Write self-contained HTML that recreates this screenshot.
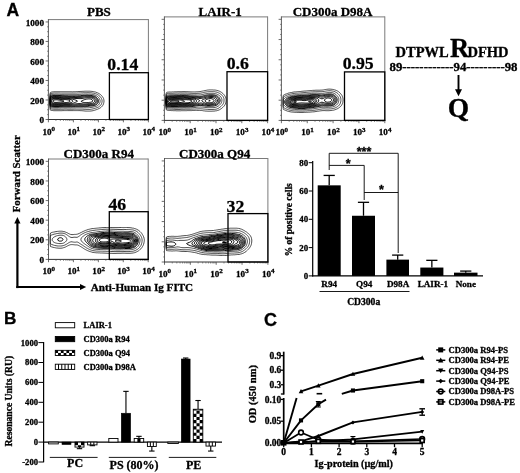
<!DOCTYPE html>
<html><head><meta charset="utf-8"><title>Figure</title>
<style>
html,body{margin:0;padding:0;background:#fff;}
svg{display:block;}
text{font-weight:bold;fill:#000;stroke:#000;stroke-width:0.3px;}
.se{font-family:"Liberation Serif",serif;}
.sa{font-family:"Liberation Sans",sans-serif;}
</style></head><body>
<svg width="520" height="473" viewBox="0 0 520 473">
<rect width="520" height="473" fill="#fff"/>
<text class="sa" x="6.60" y="15.80" font-size="17.5" text-anchor="start">A</text>
<text class="sa" x="4.00" y="323.80" font-size="17.2" text-anchor="start">B</text>
<text class="sa" x="263.90" y="326.00" font-size="18" text-anchor="start">C</text>
<line x1="48.40" y1="19.60" x2="148.40" y2="19.60" stroke="#7a7a7a" stroke-width="1"/>
<line x1="148.40" y1="19.10" x2="148.40" y2="119.50" stroke="#7a7a7a" stroke-width="1"/>
<line x1="48.40" y1="19.10" x2="48.40" y2="120.00" stroke="#4a4a4a" stroke-width="0.9"/>
<line x1="47.90" y1="119.50" x2="148.90" y2="119.50" stroke="#333" stroke-width="1.0"/>
<line x1="45.60" y1="119.50" x2="48.40" y2="119.50" stroke="#4a4a4a" stroke-width="0.8"/>
<line x1="47.00" y1="114.62" x2="48.40" y2="114.62" stroke="#4a4a4a" stroke-width="0.6"/>
<line x1="47.00" y1="109.74" x2="48.40" y2="109.74" stroke="#4a4a4a" stroke-width="0.6"/>
<line x1="47.00" y1="104.87" x2="48.40" y2="104.87" stroke="#4a4a4a" stroke-width="0.6"/>
<line x1="45.60" y1="99.99" x2="48.40" y2="99.99" stroke="#4a4a4a" stroke-width="0.8"/>
<line x1="47.00" y1="95.11" x2="48.40" y2="95.11" stroke="#4a4a4a" stroke-width="0.6"/>
<line x1="47.00" y1="90.23" x2="48.40" y2="90.23" stroke="#4a4a4a" stroke-width="0.6"/>
<line x1="47.00" y1="85.35" x2="48.40" y2="85.35" stroke="#4a4a4a" stroke-width="0.6"/>
<line x1="45.60" y1="80.48" x2="48.40" y2="80.48" stroke="#4a4a4a" stroke-width="0.8"/>
<line x1="47.00" y1="75.60" x2="48.40" y2="75.60" stroke="#4a4a4a" stroke-width="0.6"/>
<line x1="47.00" y1="70.72" x2="48.40" y2="70.72" stroke="#4a4a4a" stroke-width="0.6"/>
<line x1="47.00" y1="65.84" x2="48.40" y2="65.84" stroke="#4a4a4a" stroke-width="0.6"/>
<line x1="45.60" y1="60.96" x2="48.40" y2="60.96" stroke="#4a4a4a" stroke-width="0.8"/>
<line x1="47.00" y1="56.09" x2="48.40" y2="56.09" stroke="#4a4a4a" stroke-width="0.6"/>
<line x1="47.00" y1="51.21" x2="48.40" y2="51.21" stroke="#4a4a4a" stroke-width="0.6"/>
<line x1="47.00" y1="46.33" x2="48.40" y2="46.33" stroke="#4a4a4a" stroke-width="0.6"/>
<line x1="45.60" y1="41.45" x2="48.40" y2="41.45" stroke="#4a4a4a" stroke-width="0.8"/>
<line x1="47.00" y1="36.58" x2="48.40" y2="36.58" stroke="#4a4a4a" stroke-width="0.6"/>
<line x1="47.00" y1="31.70" x2="48.40" y2="31.70" stroke="#4a4a4a" stroke-width="0.6"/>
<line x1="47.00" y1="26.82" x2="48.40" y2="26.82" stroke="#4a4a4a" stroke-width="0.6"/>
<line x1="45.60" y1="21.94" x2="48.40" y2="21.94" stroke="#4a4a4a" stroke-width="0.8"/>
<text class="se" x="44.00" y="123.20" font-size="9.2" text-anchor="end">0</text>
<text class="se" x="44.00" y="103.69" font-size="9.2" text-anchor="end">200</text>
<text class="se" x="44.00" y="84.18" font-size="9.2" text-anchor="end">400</text>
<text class="se" x="44.00" y="64.66" font-size="9.2" text-anchor="end">600</text>
<text class="se" x="44.00" y="45.15" font-size="9.2" text-anchor="end">800</text>
<text class="se" x="44.00" y="25.64" font-size="9.2" text-anchor="end">1000</text>
<line x1="48.40" y1="119.50" x2="48.40" y2="122.30" stroke="#4a4a4a" stroke-width="0.8"/>
<line x1="55.93" y1="119.50" x2="55.93" y2="121.00" stroke="#4a4a4a" stroke-width="0.6"/>
<line x1="60.33" y1="119.50" x2="60.33" y2="121.00" stroke="#4a4a4a" stroke-width="0.6"/>
<line x1="63.45" y1="119.50" x2="63.45" y2="121.00" stroke="#4a4a4a" stroke-width="0.6"/>
<line x1="65.87" y1="119.50" x2="65.87" y2="121.00" stroke="#4a4a4a" stroke-width="0.6"/>
<line x1="67.85" y1="119.50" x2="67.85" y2="121.00" stroke="#4a4a4a" stroke-width="0.6"/>
<line x1="69.53" y1="119.50" x2="69.53" y2="121.00" stroke="#4a4a4a" stroke-width="0.6"/>
<line x1="70.98" y1="119.50" x2="70.98" y2="121.00" stroke="#4a4a4a" stroke-width="0.6"/>
<line x1="72.26" y1="119.50" x2="72.26" y2="121.00" stroke="#4a4a4a" stroke-width="0.6"/>
<line x1="73.40" y1="119.50" x2="73.40" y2="122.30" stroke="#4a4a4a" stroke-width="0.8"/>
<line x1="80.93" y1="119.50" x2="80.93" y2="121.00" stroke="#4a4a4a" stroke-width="0.6"/>
<line x1="85.33" y1="119.50" x2="85.33" y2="121.00" stroke="#4a4a4a" stroke-width="0.6"/>
<line x1="88.45" y1="119.50" x2="88.45" y2="121.00" stroke="#4a4a4a" stroke-width="0.6"/>
<line x1="90.87" y1="119.50" x2="90.87" y2="121.00" stroke="#4a4a4a" stroke-width="0.6"/>
<line x1="92.85" y1="119.50" x2="92.85" y2="121.00" stroke="#4a4a4a" stroke-width="0.6"/>
<line x1="94.53" y1="119.50" x2="94.53" y2="121.00" stroke="#4a4a4a" stroke-width="0.6"/>
<line x1="95.98" y1="119.50" x2="95.98" y2="121.00" stroke="#4a4a4a" stroke-width="0.6"/>
<line x1="97.26" y1="119.50" x2="97.26" y2="121.00" stroke="#4a4a4a" stroke-width="0.6"/>
<line x1="98.40" y1="119.50" x2="98.40" y2="122.30" stroke="#4a4a4a" stroke-width="0.8"/>
<line x1="105.93" y1="119.50" x2="105.93" y2="121.00" stroke="#4a4a4a" stroke-width="0.6"/>
<line x1="110.33" y1="119.50" x2="110.33" y2="121.00" stroke="#4a4a4a" stroke-width="0.6"/>
<line x1="113.45" y1="119.50" x2="113.45" y2="121.00" stroke="#4a4a4a" stroke-width="0.6"/>
<line x1="115.87" y1="119.50" x2="115.87" y2="121.00" stroke="#4a4a4a" stroke-width="0.6"/>
<line x1="117.85" y1="119.50" x2="117.85" y2="121.00" stroke="#4a4a4a" stroke-width="0.6"/>
<line x1="119.53" y1="119.50" x2="119.53" y2="121.00" stroke="#4a4a4a" stroke-width="0.6"/>
<line x1="120.98" y1="119.50" x2="120.98" y2="121.00" stroke="#4a4a4a" stroke-width="0.6"/>
<line x1="122.26" y1="119.50" x2="122.26" y2="121.00" stroke="#4a4a4a" stroke-width="0.6"/>
<line x1="123.40" y1="119.50" x2="123.40" y2="122.30" stroke="#4a4a4a" stroke-width="0.8"/>
<line x1="130.93" y1="119.50" x2="130.93" y2="121.00" stroke="#4a4a4a" stroke-width="0.6"/>
<line x1="135.33" y1="119.50" x2="135.33" y2="121.00" stroke="#4a4a4a" stroke-width="0.6"/>
<line x1="138.45" y1="119.50" x2="138.45" y2="121.00" stroke="#4a4a4a" stroke-width="0.6"/>
<line x1="140.87" y1="119.50" x2="140.87" y2="121.00" stroke="#4a4a4a" stroke-width="0.6"/>
<line x1="142.85" y1="119.50" x2="142.85" y2="121.00" stroke="#4a4a4a" stroke-width="0.6"/>
<line x1="144.53" y1="119.50" x2="144.53" y2="121.00" stroke="#4a4a4a" stroke-width="0.6"/>
<line x1="145.98" y1="119.50" x2="145.98" y2="121.00" stroke="#4a4a4a" stroke-width="0.6"/>
<line x1="147.26" y1="119.50" x2="147.26" y2="121.00" stroke="#4a4a4a" stroke-width="0.6"/>
<line x1="148.40" y1="119.50" x2="148.40" y2="122.30" stroke="#4a4a4a" stroke-width="0.8"/>
<text class="se" x="42.40" y="134.50" font-size="9.1">10<tspan font-size="7" dy="-3.7">0</tspan></text>
<text class="se" x="67.40" y="134.50" font-size="9.1">10<tspan font-size="7" dy="-3.7">1</tspan></text>
<text class="se" x="92.40" y="134.50" font-size="9.1">10<tspan font-size="7" dy="-3.7">2</tspan></text>
<text class="se" x="117.40" y="134.50" font-size="9.1">10<tspan font-size="7" dy="-3.7">3</tspan></text>
<text class="se" x="142.40" y="134.50" font-size="9.1">10<tspan font-size="7" dy="-3.7">4</tspan></text>
<text class="se" x="87.00" y="16.20" font-size="13" text-anchor="start">PBS</text>
<clipPath id="c48_19"><rect x="48.90" y="19.60" width="99.50" height="99.40"/></clipPath>
<g clip-path="url(#c48_19)" fill="none" stroke="#000" stroke-linejoin="round"><path d="M77.2 91.6 77.9 91.6 78.9 91.5 79.9 91.5 80.9 91.4 81.9 91.4 82.9 91.3 83.9 91.3 84.9 91.2 85.9 91.2 86.9 91.2 87.9 91.2 88.9 91.2 89.9 91.2 90.9 91.3 91.9 91.4 92.9 91.5 93.4 91.6 94.4 91.8 95.4 92.0 95.9 92.2 96.9 92.6 97.4 92.8 98.1 93.1 98.9 93.5 99.4 93.8 99.9 94.2 100.5 94.6 101.1 95.1 101.6 95.6 102.0 96.1 102.4 96.6 102.9 97.3 103.3 98.1 103.6 98.6 103.8 99.6 103.9 100.1 104.0 101.1 103.9 102.1 103.8 102.6 103.6 103.6 103.4 104.2 103.0 105.1 102.6 105.6 102.3 106.1 101.8 106.6 101.3 107.1 100.7 107.6 99.9 108.1 99.4 108.4 98.9 108.6 97.9 109.1 97.4 109.3 96.5 109.6 95.9 109.8 95.1 110.1 94.4 110.3 93.4 110.6 92.9 110.7 91.9 110.9 90.9 111.0 89.9 111.1 89.4 111.1 88.4 111.1 87.4 111.1 86.8 111.1 85.9 111.1 84.9 111.0 83.9 110.9 82.9 110.8 81.9 110.7 80.9 110.7 79.9 110.6 78.9 110.6 78.1 110.6 77.4 110.6 76.4 110.6 75.4 110.6 74.4 110.6 73.4 110.6 72.9 110.6 71.9 110.6 70.9 110.6 69.9 110.6 68.9 110.6 68.0 110.6 67.4 110.6 66.4 110.6 65.4 110.6 64.4 110.6 63.9 110.6 62.9 110.6 61.9 110.7 60.9 110.7 59.9 110.7 58.9 110.7 57.9 110.7 56.9 110.7 55.9 110.7 54.9 110.7 53.9 110.7 53.1 110.6 52.4 110.5 51.4 110.4 50.4 110.1 50.2 109.6 50.1 108.6 50.0 107.6 50.0 106.6 49.9 105.6 49.9 104.6 49.9 103.6 49.9 102.6 49.9 101.6 49.9 100.6 49.9 99.6 49.9 98.6 49.9 97.6 49.9 96.6 50.0 95.6 50.0 94.6 50.1 93.6 50.3 92.6 50.9 92.2 51.4 92.1 52.4 91.9 53.4 91.8 54.4 91.7 55.4 91.7 56.4 91.7 57.4 91.7 58.4 91.7 59.4 91.7 60.4 91.7 61.4 91.7 62.4 91.7 63.4 91.7 64.4 91.7 65.4 91.7 66.4 91.7 67.4 91.7 68.4 91.7 69.4 91.7 70.4 91.7 71.4 91.7 72.4 91.8 73.4 91.7 74.4 91.7 75.4 91.7 76.4 91.6 77.2 91.6Z M53.5 93.1 54.4 93.0 55.4 93.0 56.4 93.0 57.4 93.0 58.4 93.0 59.4 93.0 60.4 93.1 61.4 93.1 61.9 93.1 62.9 93.1 63.9 93.1 64.9 93.1 65.9 93.1 66.9 93.1 67.9 93.1 68.9 93.1 69.9 93.1 70.9 93.1 71.9 93.1 72.9 93.1 73.9 93.1 74.9 93.1 75.6 93.1 76.4 93.1 77.4 93.0 78.4 93.0 79.4 92.9 80.4 92.9 81.4 92.8 82.4 92.8 83.4 92.7 84.4 92.7 85.4 92.7 86.4 92.7 87.4 92.6 88.4 92.6 89.4 92.7 90.4 92.7 91.4 92.8 92.4 93.0 93.1 93.1 93.9 93.2 94.9 93.5 95.4 93.7 96.4 94.0 96.9 94.3 97.5 94.6 98.4 95.1 98.9 95.5 99.4 95.9 99.9 96.3 100.4 96.9 100.9 97.6 101.2 98.1 101.5 98.6 101.9 99.6 102.0 100.1 102.1 101.1 102.0 102.1 101.9 102.6 101.6 103.6 101.4 104.1 100.9 104.9 100.4 105.5 99.9 106.0 99.4 106.4 98.9 106.8 98.3 107.1 97.4 107.5 96.9 107.7 95.9 108.1 95.4 108.2 94.4 108.5 93.9 108.7 92.9 108.9 92.0 109.1 91.4 109.2 90.4 109.4 89.4 109.5 88.4 109.5 87.4 109.5 86.4 109.5 85.4 109.4 84.4 109.4 83.4 109.3 82.4 109.2 81.4 109.2 80.4 109.2 79.4 109.2 78.4 109.2 77.4 109.2 76.4 109.2 75.4 109.2 74.4 109.2 73.4 109.3 72.4 109.3 71.4 109.3 70.4 109.3 69.4 109.3 68.4 109.3 67.4 109.3 66.4 109.2 65.4 109.2 64.4 109.2 63.4 109.3 62.4 109.3 61.4 109.3 60.4 109.3 59.4 109.4 58.4 109.4 57.4 109.4 56.4 109.4 55.4 109.4 54.4 109.4 53.4 109.3 52.4 109.2 51.8 109.1 50.9 108.9 50.4 108.6 50.2 107.6 50.1 106.6 50.0 105.6 50.0 104.6 50.0 103.6 49.9 102.6 49.9 101.6 49.9 100.6 49.9 99.6 50.0 98.6 50.0 97.6 50.0 96.6 50.1 95.6 50.2 94.6 50.4 93.7 50.9 93.5 51.9 93.3 52.9 93.2 53.5 93.1Z M85.2 94.1 85.9 94.1 86.9 94.1 87.9 94.1 88.5 94.1 89.4 94.1 90.4 94.2 91.4 94.3 92.4 94.4 93.1 94.6 93.9 94.8 94.9 95.1 95.4 95.3 96.0 95.6 96.9 96.1 97.4 96.4 97.9 96.9 98.4 97.3 98.9 97.9 99.4 98.6 99.6 99.1 99.9 99.8 100.1 100.6 100.1 101.6 99.9 102.6 99.7 103.1 99.4 103.7 98.9 104.4 98.4 105.0 97.9 105.4 97.4 105.7 96.7 106.1 95.9 106.4 95.3 106.6 94.4 106.8 93.4 107.0 92.9 107.1 91.9 107.3 90.9 107.5 89.9 107.6 89.4 107.7 88.4 107.8 87.4 107.8 86.4 107.8 85.4 107.8 84.4 107.8 83.4 107.8 82.4 107.7 81.4 107.7 80.4 107.7 79.4 107.7 78.4 107.7 77.4 107.7 76.4 107.7 75.4 107.8 74.4 107.8 73.4 107.9 72.4 107.9 71.4 107.9 70.4 108.0 69.4 107.9 68.4 107.9 67.4 107.9 66.4 107.9 65.4 107.9 64.4 107.9 63.4 107.9 62.4 107.9 61.4 107.9 60.4 108.0 59.4 108.0 58.4 108.0 57.4 108.1 56.4 108.1 55.4 108.1 54.4 108.1 53.4 108.0 52.4 107.9 51.4 107.7 50.9 107.5 50.4 107.1 50.2 106.1 50.1 105.1 50.0 104.1 50.0 103.1 50.0 102.1 50.0 101.1 50.0 100.1 50.0 99.1 50.0 98.1 50.1 97.1 50.2 96.1 50.4 95.1 50.9 94.9 51.9 94.6 52.4 94.5 53.4 94.4 54.4 94.4 55.4 94.3 56.4 94.3 57.4 94.3 58.4 94.4 59.4 94.4 60.4 94.5 61.4 94.5 62.4 94.5 63.4 94.5 64.4 94.6 65.4 94.6 66.4 94.6 67.4 94.6 68.4 94.6 69.4 94.6 70.4 94.6 71.4 94.6 72.4 94.6 73.4 94.6 74.4 94.6 75.4 94.6 76.4 94.6 77.4 94.5 78.4 94.5 79.4 94.4 80.4 94.4 81.4 94.3 82.4 94.2 83.4 94.2 84.4 94.1 85.2 94.1Z" stroke-width="0.7"/><path d="M52.3 95.6 52.9 95.5 53.9 95.4 54.9 95.4 55.9 95.4 56.9 95.4 57.9 95.4 58.9 95.5 59.9 95.5 60.9 95.6 61.8 95.6 62.4 95.6 63.4 95.6 64.4 95.7 65.4 95.7 66.4 95.7 67.4 95.7 68.4 95.8 69.4 95.8 70.4 95.8 71.4 95.8 72.4 95.8 73.4 95.8 74.4 95.8 75.4 95.8 76.4 95.8 77.4 95.8 78.4 95.7 79.4 95.7 80.4 95.6 80.9 95.6 81.9 95.5 82.9 95.4 83.9 95.3 84.9 95.3 85.9 95.3 86.9 95.2 87.9 95.2 88.9 95.3 89.9 95.3 90.9 95.4 91.9 95.5 92.4 95.6 93.4 95.9 94.1 96.1 94.9 96.4 95.4 96.7 96.0 97.1 96.6 97.6 97.1 98.1 97.6 98.6 97.9 99.1 98.3 100.1 98.5 100.6 98.4 101.6 98.3 102.1 97.9 103.1 97.5 103.6 97.1 104.1 96.4 104.6 95.9 104.9 95.4 105.2 94.4 105.5 93.9 105.6 92.9 105.8 91.9 105.9 90.9 106.0 90.3 106.1 89.4 106.2 88.4 106.4 87.4 106.5 86.4 106.5 85.4 106.6 84.4 106.6 83.4 106.5 82.4 106.5 81.4 106.5 80.4 106.5 79.4 106.5 78.4 106.5 77.4 106.5 76.4 106.5 75.4 106.6 74.9 106.6 73.9 106.7 72.9 106.7 71.9 106.8 70.9 106.8 69.9 106.8 68.9 106.8 67.9 106.8 66.9 106.8 65.9 106.8 64.9 106.8 63.9 106.8 62.9 106.8 61.9 106.8 60.9 106.9 59.9 106.9 58.9 107.0 57.9 107.1 56.9 107.1 55.9 107.1 54.9 107.1 53.9 107.0 52.9 106.9 51.9 106.7 51.4 106.6 50.4 106.1 50.3 105.6 50.2 104.6 50.1 103.6 50.1 102.6 50.1 101.6 50.1 100.6 50.1 99.6 50.1 98.6 50.2 97.6 50.3 96.6 50.7 96.1 51.4 95.8 52.3 95.6Z M53.1 96.1 53.9 96.0 54.9 96.0 55.9 96.0 56.9 96.0 57.9 96.1 58.7 96.1 59.4 96.1 60.4 96.2 61.4 96.2 62.4 96.3 63.4 96.3 64.4 96.3 65.4 96.4 66.4 96.4 67.4 96.4 68.4 96.5 69.4 96.5 70.4 96.5 71.4 96.6 72.4 96.6 73.0 96.6 73.9 96.6 74.9 96.6 75.5 96.6 76.4 96.6 77.4 96.6 78.4 96.5 79.4 96.5 80.4 96.5 81.4 96.4 82.4 96.3 83.4 96.2 84.4 96.1 84.9 96.1 85.9 96.0 86.9 96.0 87.9 96.0 88.9 96.0 89.9 96.1 90.5 96.1 91.4 96.2 92.4 96.4 93.2 96.6 93.9 96.9 94.4 97.1 95.2 97.6 95.9 98.1 96.4 98.6 96.7 99.1 97.0 99.6 97.4 100.6 97.3 101.6 96.9 102.6 96.6 103.1 96.1 103.6 95.4 104.1 94.9 104.4 94.4 104.6 93.4 104.9 92.4 105.0 91.7 105.1 90.9 105.2 89.9 105.3 88.9 105.5 87.9 105.6 87.4 105.6 86.4 105.7 85.4 105.8 84.4 105.8 83.4 105.8 82.4 105.7 81.4 105.7 80.4 105.6 79.4 105.6 78.4 105.7 77.4 105.7 76.4 105.7 75.4 105.8 74.4 105.9 73.4 105.9 72.4 106.0 71.4 106.0 70.4 106.1 69.9 106.1 68.9 106.1 67.9 106.1 67.1 106.1 66.4 106.1 65.4 106.1 64.4 106.1 63.4 106.1 62.9 106.1 61.9 106.2 60.9 106.2 59.9 106.3 58.9 106.4 57.9 106.5 56.9 106.5 55.9 106.5 54.9 106.5 53.9 106.4 52.9 106.3 52.0 106.1 51.4 105.9 50.8 105.6 50.4 105.1 50.2 104.1 50.2 103.1 50.1 102.1 50.1 101.1 50.2 100.1 50.2 99.1 50.3 98.1 50.4 97.1 50.9 96.7 51.4 96.5 52.4 96.2 53.1 96.1Z M54.4 96.6 54.9 96.6 55.9 96.6 56.6 96.6 57.4 96.6 58.4 96.7 59.4 96.8 60.4 96.8 61.4 96.9 62.4 97.0 63.4 97.0 64.4 97.0 65.4 97.0 66.4 97.1 67.3 97.1 67.9 97.1 68.9 97.2 69.9 97.2 70.9 97.3 71.9 97.3 72.9 97.4 73.9 97.4 74.9 97.5 75.9 97.5 76.9 97.5 77.9 97.4 78.9 97.4 79.9 97.4 80.9 97.4 81.9 97.3 82.9 97.2 83.4 97.1 84.4 97.0 85.4 96.9 86.4 96.8 87.4 96.8 88.4 96.8 89.4 96.8 90.4 96.9 91.4 97.0 92.0 97.1 92.9 97.4 93.5 97.6 94.3 98.1 94.9 98.5 95.4 99.1 95.8 99.6 96.0 100.1 96.2 101.1 95.9 102.0 95.5 102.6 95.0 103.1 94.4 103.5 93.9 103.8 92.9 104.1 92.4 104.2 91.4 104.3 90.4 104.4 89.4 104.5 88.8 104.6 87.9 104.7 86.9 104.8 85.9 104.9 84.9 104.9 83.9 104.9 82.9 104.9 81.9 104.8 80.9 104.8 79.9 104.7 78.9 104.7 77.9 104.8 76.9 104.8 75.9 104.9 74.9 105.0 73.9 105.1 73.4 105.1 72.4 105.2 71.4 105.3 70.4 105.4 69.4 105.4 68.4 105.4 67.4 105.4 66.4 105.4 65.4 105.4 64.4 105.4 63.4 105.4 62.4 105.5 61.4 105.6 60.8 105.6 59.9 105.7 58.9 105.8 57.9 105.9 56.9 105.9 55.9 105.9 54.9 105.9 53.9 105.8 52.9 105.7 52.4 105.5 51.4 105.2 50.9 104.9 50.4 104.5 50.3 103.6 50.2 102.6 50.2 101.6 50.2 100.6 50.2 99.6 50.3 98.6 50.4 97.8 50.9 97.4 51.5 97.1 52.4 96.8 53.4 96.7 54.4 96.6Z M52.0 97.6 52.9 97.3 53.9 97.2 54.9 97.2 55.9 97.2 56.9 97.2 57.9 97.3 58.9 97.3 59.9 97.4 60.9 97.5 61.7 97.6 62.4 97.6 63.4 97.7 64.4 97.7 65.4 97.7 66.4 97.7 67.4 97.7 68.4 97.8 69.4 97.8 70.4 97.9 71.4 98.1 71.9 98.1 72.9 98.2 73.9 98.3 74.9 98.4 75.9 98.5 76.9 98.5 77.9 98.5 78.9 98.6 79.9 98.6 80.9 98.6 81.9 98.5 82.9 98.3 83.9 98.1 84.4 98.1 85.4 97.9 86.4 97.8 87.4 97.7 88.4 97.7 89.4 97.7 90.4 97.8 91.4 97.9 92.1 98.1 92.9 98.5 93.4 98.8 93.9 99.2 94.4 99.8 94.7 100.6 94.6 101.6 94.3 102.1 93.7 102.6 92.9 103.0 92.4 103.2 91.4 103.4 90.4 103.5 89.5 103.6 88.9 103.7 87.9 103.8 86.9 103.9 85.9 104.0 84.9 104.0 83.9 104.0 82.9 103.9 81.9 103.8 80.9 103.7 79.9 103.6 78.9 103.6 77.9 103.7 76.9 103.8 75.9 103.9 74.9 104.0 74.2 104.1 73.4 104.2 72.4 104.3 71.4 104.5 70.4 104.6 69.9 104.6 68.9 104.7 67.9 104.7 66.9 104.7 65.9 104.7 64.9 104.7 63.9 104.8 62.9 104.8 61.9 104.9 60.9 105.0 59.9 105.1 59.4 105.1 58.4 105.2 57.4 105.3 56.4 105.3 55.4 105.3 54.4 105.2 53.4 105.1 52.9 105.0 51.9 104.7 51.4 104.4 50.9 104.1 50.4 103.5 50.3 102.6 50.3 101.6 50.3 100.6 50.3 99.6 50.4 98.8 50.9 98.2 51.4 97.9 52.0 97.6Z M52.5 98.1 53.4 97.9 54.4 97.8 55.4 97.7 56.4 97.7 57.4 97.8 58.4 97.9 59.4 98.0 60.0 98.1 60.9 98.2 61.9 98.3 62.9 98.3 63.9 98.4 64.9 98.3 65.9 98.3 66.9 98.3 67.9 98.4 68.9 98.5 69.9 98.6 70.4 98.7 71.4 98.9 72.4 99.1 72.9 99.2 73.9 99.5 74.4 99.7 75.4 100.0 75.9 100.2 76.9 100.6 77.4 101.0 77.4 101.2 76.8 101.6 75.9 102.1 75.4 102.3 74.8 102.6 73.9 102.9 73.4 103.1 72.4 103.4 71.4 103.6 70.9 103.7 69.9 103.8 68.9 103.9 67.9 104.0 66.9 104.0 65.9 104.0 64.9 104.1 64.0 104.1 63.4 104.1 62.4 104.2 61.4 104.3 60.4 104.4 59.4 104.5 58.4 104.6 57.9 104.6 56.9 104.7 55.9 104.7 54.9 104.6 54.4 104.6 53.4 104.5 52.4 104.2 51.9 104.0 51.4 103.6 50.9 103.1 50.4 102.1 50.4 101.6 50.4 100.6 50.4 100.1 50.9 99.2 51.4 98.7 51.9 98.4 52.5 98.1Z M86.5 99.1 87.4 99.0 88.4 98.9 89.4 98.9 90.4 99.0 90.9 99.1 91.9 99.6 92.4 100.0 92.7 100.6 92.4 101.5 91.9 101.8 91.3 102.1 90.4 102.3 89.4 102.4 88.4 102.6 87.9 102.6 86.9 102.7 85.9 102.7 84.9 102.7 84.1 102.6 83.4 102.4 82.4 102.1 81.9 101.9 81.3 101.6 81.4 101.0 82.2 100.6 82.9 100.3 83.4 100.1 84.4 99.7 84.9 99.5 85.9 99.2 86.5 99.1Z M53.1 98.6 53.9 98.4 54.9 98.3 55.9 98.3 56.9 98.4 57.9 98.4 58.9 98.6 59.4 98.7 60.4 98.8 61.4 98.9 62.4 99.0 63.4 99.0 64.4 99.0 65.4 99.0 66.4 99.0 67.4 99.0 68.4 99.1 68.9 99.2 69.9 99.4 70.7 99.6 71.4 99.9 71.9 100.2 72.5 100.6 72.7 101.6 72.2 102.1 71.4 102.5 70.9 102.7 69.9 103.0 69.1 103.1 68.4 103.2 67.4 103.3 66.4 103.3 65.4 103.4 64.4 103.4 63.4 103.5 62.4 103.5 61.7 103.6 60.9 103.7 59.9 103.8 58.9 103.9 57.9 104.0 56.9 104.0 55.9 104.0 54.9 104.0 53.9 103.9 52.9 103.7 52.4 103.5 51.8 103.1 51.3 102.6 51.0 101.6 51.0 100.6 51.4 99.7 51.9 99.2 52.4 98.9 53.1 98.6Z M53.8 99.1 54.4 99.0 55.4 98.9 56.4 98.9 57.4 99.0 58.4 99.1 58.9 99.2 59.9 99.3 60.9 99.5 61.9 99.6 62.4 99.6 63.4 99.7 64.4 99.6 65.4 99.6 66.4 99.7 67.4 99.8 68.4 100.0 68.9 100.1 69.8 100.6 70.1 101.1 69.8 101.6 68.9 102.1 68.4 102.2 67.4 102.4 66.4 102.5 65.9 102.6 64.9 102.7 63.9 102.8 62.9 102.8 61.9 102.9 60.9 103.0 60.2 103.1 59.4 103.2 58.4 103.3 57.4 103.3 56.4 103.4 55.4 103.4 54.4 103.3 53.4 103.2 52.9 103.0 52.3 102.6 51.9 102.1 51.6 101.1 51.9 100.3 52.4 99.7 52.9 99.4 53.8 99.1Z M54.1 100.1 54.9 99.9 55.9 99.8 56.9 99.8 57.9 99.9 58.9 100.1 59.4 100.2 60.4 100.4 61.4 100.6 61.9 100.7 62.9 100.9 63.9 101.0 63.9 101.2 63.2 101.6 62.4 101.7 61.4 101.9 60.4 102.0 59.9 102.1 58.9 102.2 57.9 102.3 56.9 102.4 55.9 102.4 54.9 102.4 53.9 102.2 53.4 101.9 53.0 101.1 53.4 100.5 54.1 100.1Z" stroke-width="1"/></g>
<rect x="109.40" y="72.70" width="39.00" height="46.80" fill="none" stroke="#000" stroke-width="1.3"/>
<text class="se" x="107.30" y="69.70" font-size="17.7" text-anchor="start">0.14</text>
<line x1="164.40" y1="16.90" x2="267.60" y2="16.90" stroke="#7a7a7a" stroke-width="1"/>
<line x1="267.60" y1="16.40" x2="267.60" y2="120.40" stroke="#7a7a7a" stroke-width="1"/>
<line x1="164.40" y1="16.40" x2="164.40" y2="120.90" stroke="#4a4a4a" stroke-width="0.9"/>
<line x1="163.90" y1="120.40" x2="268.10" y2="120.40" stroke="#333" stroke-width="1.0"/>
<line x1="161.60" y1="120.40" x2="164.40" y2="120.40" stroke="#4a4a4a" stroke-width="0.8"/>
<line x1="163.00" y1="115.35" x2="164.40" y2="115.35" stroke="#4a4a4a" stroke-width="0.6"/>
<line x1="163.00" y1="110.29" x2="164.40" y2="110.29" stroke="#4a4a4a" stroke-width="0.6"/>
<line x1="163.00" y1="105.24" x2="164.40" y2="105.24" stroke="#4a4a4a" stroke-width="0.6"/>
<line x1="161.60" y1="100.19" x2="164.40" y2="100.19" stroke="#4a4a4a" stroke-width="0.8"/>
<line x1="163.00" y1="95.13" x2="164.40" y2="95.13" stroke="#4a4a4a" stroke-width="0.6"/>
<line x1="163.00" y1="90.08" x2="164.40" y2="90.08" stroke="#4a4a4a" stroke-width="0.6"/>
<line x1="163.00" y1="85.02" x2="164.40" y2="85.02" stroke="#4a4a4a" stroke-width="0.6"/>
<line x1="161.60" y1="79.97" x2="164.40" y2="79.97" stroke="#4a4a4a" stroke-width="0.8"/>
<line x1="163.00" y1="74.92" x2="164.40" y2="74.92" stroke="#4a4a4a" stroke-width="0.6"/>
<line x1="163.00" y1="69.86" x2="164.40" y2="69.86" stroke="#4a4a4a" stroke-width="0.6"/>
<line x1="163.00" y1="64.81" x2="164.40" y2="64.81" stroke="#4a4a4a" stroke-width="0.6"/>
<line x1="161.60" y1="59.76" x2="164.40" y2="59.76" stroke="#4a4a4a" stroke-width="0.8"/>
<line x1="163.00" y1="54.70" x2="164.40" y2="54.70" stroke="#4a4a4a" stroke-width="0.6"/>
<line x1="163.00" y1="49.65" x2="164.40" y2="49.65" stroke="#4a4a4a" stroke-width="0.6"/>
<line x1="163.00" y1="44.59" x2="164.40" y2="44.59" stroke="#4a4a4a" stroke-width="0.6"/>
<line x1="161.60" y1="39.54" x2="164.40" y2="39.54" stroke="#4a4a4a" stroke-width="0.8"/>
<line x1="163.00" y1="34.49" x2="164.40" y2="34.49" stroke="#4a4a4a" stroke-width="0.6"/>
<line x1="163.00" y1="29.43" x2="164.40" y2="29.43" stroke="#4a4a4a" stroke-width="0.6"/>
<line x1="163.00" y1="24.38" x2="164.40" y2="24.38" stroke="#4a4a4a" stroke-width="0.6"/>
<line x1="161.60" y1="19.33" x2="164.40" y2="19.33" stroke="#4a4a4a" stroke-width="0.8"/>
<line x1="164.40" y1="120.40" x2="164.40" y2="123.20" stroke="#4a4a4a" stroke-width="0.8"/>
<line x1="172.17" y1="120.40" x2="172.17" y2="121.90" stroke="#4a4a4a" stroke-width="0.6"/>
<line x1="176.71" y1="120.40" x2="176.71" y2="121.90" stroke="#4a4a4a" stroke-width="0.6"/>
<line x1="179.93" y1="120.40" x2="179.93" y2="121.90" stroke="#4a4a4a" stroke-width="0.6"/>
<line x1="182.43" y1="120.40" x2="182.43" y2="121.90" stroke="#4a4a4a" stroke-width="0.6"/>
<line x1="184.48" y1="120.40" x2="184.48" y2="121.90" stroke="#4a4a4a" stroke-width="0.6"/>
<line x1="186.20" y1="120.40" x2="186.20" y2="121.90" stroke="#4a4a4a" stroke-width="0.6"/>
<line x1="187.70" y1="120.40" x2="187.70" y2="121.90" stroke="#4a4a4a" stroke-width="0.6"/>
<line x1="189.02" y1="120.40" x2="189.02" y2="121.90" stroke="#4a4a4a" stroke-width="0.6"/>
<line x1="190.20" y1="120.40" x2="190.20" y2="123.20" stroke="#4a4a4a" stroke-width="0.8"/>
<line x1="197.97" y1="120.40" x2="197.97" y2="121.90" stroke="#4a4a4a" stroke-width="0.6"/>
<line x1="202.51" y1="120.40" x2="202.51" y2="121.90" stroke="#4a4a4a" stroke-width="0.6"/>
<line x1="205.73" y1="120.40" x2="205.73" y2="121.90" stroke="#4a4a4a" stroke-width="0.6"/>
<line x1="208.23" y1="120.40" x2="208.23" y2="121.90" stroke="#4a4a4a" stroke-width="0.6"/>
<line x1="210.28" y1="120.40" x2="210.28" y2="121.90" stroke="#4a4a4a" stroke-width="0.6"/>
<line x1="212.00" y1="120.40" x2="212.00" y2="121.90" stroke="#4a4a4a" stroke-width="0.6"/>
<line x1="213.50" y1="120.40" x2="213.50" y2="121.90" stroke="#4a4a4a" stroke-width="0.6"/>
<line x1="214.82" y1="120.40" x2="214.82" y2="121.90" stroke="#4a4a4a" stroke-width="0.6"/>
<line x1="216.00" y1="120.40" x2="216.00" y2="123.20" stroke="#4a4a4a" stroke-width="0.8"/>
<line x1="223.77" y1="120.40" x2="223.77" y2="121.90" stroke="#4a4a4a" stroke-width="0.6"/>
<line x1="228.31" y1="120.40" x2="228.31" y2="121.90" stroke="#4a4a4a" stroke-width="0.6"/>
<line x1="231.53" y1="120.40" x2="231.53" y2="121.90" stroke="#4a4a4a" stroke-width="0.6"/>
<line x1="234.03" y1="120.40" x2="234.03" y2="121.90" stroke="#4a4a4a" stroke-width="0.6"/>
<line x1="236.08" y1="120.40" x2="236.08" y2="121.90" stroke="#4a4a4a" stroke-width="0.6"/>
<line x1="237.80" y1="120.40" x2="237.80" y2="121.90" stroke="#4a4a4a" stroke-width="0.6"/>
<line x1="239.30" y1="120.40" x2="239.30" y2="121.90" stroke="#4a4a4a" stroke-width="0.6"/>
<line x1="240.62" y1="120.40" x2="240.62" y2="121.90" stroke="#4a4a4a" stroke-width="0.6"/>
<line x1="241.80" y1="120.40" x2="241.80" y2="123.20" stroke="#4a4a4a" stroke-width="0.8"/>
<line x1="249.57" y1="120.40" x2="249.57" y2="121.90" stroke="#4a4a4a" stroke-width="0.6"/>
<line x1="254.11" y1="120.40" x2="254.11" y2="121.90" stroke="#4a4a4a" stroke-width="0.6"/>
<line x1="257.33" y1="120.40" x2="257.33" y2="121.90" stroke="#4a4a4a" stroke-width="0.6"/>
<line x1="259.83" y1="120.40" x2="259.83" y2="121.90" stroke="#4a4a4a" stroke-width="0.6"/>
<line x1="261.88" y1="120.40" x2="261.88" y2="121.90" stroke="#4a4a4a" stroke-width="0.6"/>
<line x1="263.60" y1="120.40" x2="263.60" y2="121.90" stroke="#4a4a4a" stroke-width="0.6"/>
<line x1="265.10" y1="120.40" x2="265.10" y2="121.90" stroke="#4a4a4a" stroke-width="0.6"/>
<line x1="266.42" y1="120.40" x2="266.42" y2="121.90" stroke="#4a4a4a" stroke-width="0.6"/>
<line x1="267.60" y1="120.40" x2="267.60" y2="123.20" stroke="#4a4a4a" stroke-width="0.8"/>
<text class="se" x="158.40" y="135.40" font-size="9.1">10<tspan font-size="7" dy="-3.7">0</tspan></text>
<text class="se" x="184.20" y="135.40" font-size="9.1">10<tspan font-size="7" dy="-3.7">1</tspan></text>
<text class="se" x="210.00" y="135.40" font-size="9.1">10<tspan font-size="7" dy="-3.7">2</tspan></text>
<text class="se" x="235.80" y="135.40" font-size="9.1">10<tspan font-size="7" dy="-3.7">3</tspan></text>
<text class="se" x="261.60" y="135.40" font-size="9.1">10<tspan font-size="7" dy="-3.7">4</tspan></text>
<text class="se" x="198.50" y="16.20" font-size="13" text-anchor="start">LAIR-1</text>
<clipPath id="c164_16"><rect x="164.90" y="16.90" width="102.70" height="103.00"/></clipPath>
<g clip-path="url(#c164_16)" fill="none" stroke="#000" stroke-linejoin="round"><path d="M205.8 90.4 206.4 90.3 207.4 90.1 208.4 90.0 209.4 89.9 210.4 89.9 211.4 89.9 212.4 89.9 213.4 90.0 214.4 90.0 215.4 90.1 216.4 90.3 216.9 90.4 217.9 90.7 218.6 90.9 219.4 91.2 219.9 91.5 220.7 91.9 221.4 92.3 221.9 92.7 222.4 93.1 222.9 93.5 223.4 94.0 223.9 94.6 224.4 95.2 224.9 95.9 225.2 96.4 225.4 96.9 225.8 97.9 225.9 98.4 226.1 99.4 226.1 100.4 226.0 101.4 225.9 102.2 225.7 102.9 225.4 103.9 225.2 104.4 224.9 105.0 224.4 105.7 223.9 106.3 223.4 106.8 222.9 107.3 222.4 107.7 221.9 108.2 221.4 108.6 220.9 108.9 220.1 109.4 219.4 109.8 218.9 110.0 217.9 110.4 217.4 110.5 216.4 110.8 215.4 110.9 214.9 111.0 213.9 111.1 212.9 111.1 211.9 111.2 210.9 111.2 209.9 111.2 208.9 111.2 207.9 111.2 206.9 111.1 205.9 111.1 204.9 111.0 204.4 110.9 203.4 110.8 202.4 110.6 201.4 110.5 200.4 110.5 199.4 110.4 198.9 110.4 197.9 110.4 196.9 110.4 196.4 110.4 195.4 110.4 194.4 110.5 193.4 110.5 192.4 110.5 191.4 110.6 190.4 110.6 189.4 110.6 188.4 110.6 187.4 110.6 186.4 110.7 185.4 110.7 184.4 110.7 183.4 110.7 182.4 110.7 181.4 110.7 180.4 110.8 179.4 110.8 178.4 110.8 177.4 110.8 176.4 110.8 175.4 110.7 174.4 110.7 173.4 110.7 172.4 110.6 171.4 110.6 170.4 110.5 169.4 110.5 168.4 110.4 167.9 110.3 166.9 110.1 166.4 109.9 166.1 108.9 166.0 107.9 166.0 106.9 165.9 105.9 165.9 104.9 165.9 103.9 165.9 102.9 165.9 101.9 165.9 100.9 165.9 99.9 165.9 98.9 165.9 97.9 165.9 96.9 166.0 95.9 166.0 94.9 166.1 93.9 166.3 92.9 166.7 92.4 167.4 92.2 168.4 92.1 169.4 92.0 170.4 92.0 171.4 92.0 172.4 91.9 173.4 91.9 173.9 91.9 174.9 91.8 175.9 91.8 176.9 91.8 177.9 91.7 178.9 91.7 179.9 91.7 180.9 91.7 181.9 91.7 182.9 91.6 183.9 91.6 184.9 91.6 185.9 91.7 186.9 91.7 187.9 91.7 188.9 91.8 189.9 91.8 190.9 91.9 191.9 91.9 192.7 91.9 193.4 91.9 194.4 91.9 194.9 91.9 195.9 91.9 196.9 91.8 197.9 91.8 198.9 91.7 199.9 91.6 200.9 91.4 201.4 91.3 202.4 91.1 203.4 90.9 203.9 90.8 204.9 90.6 205.8 90.4Z M206.8 91.9 207.4 91.8 208.4 91.7 209.4 91.6 210.4 91.6 211.4 91.6 212.4 91.6 213.4 91.7 214.4 91.7 215.4 91.9 215.9 92.0 216.9 92.2 217.4 92.4 218.4 92.8 218.9 93.0 219.7 93.4 220.4 93.9 220.9 94.2 221.4 94.7 221.9 95.1 222.4 95.7 222.9 96.3 223.3 96.9 223.5 97.4 223.9 98.4 224.0 98.9 224.0 99.9 224.0 100.9 223.9 101.8 223.8 102.4 223.4 103.4 223.2 103.9 222.8 104.4 222.4 105.0 221.9 105.5 221.4 106.0 220.9 106.5 220.4 106.9 219.7 107.4 219.0 107.9 218.4 108.3 217.9 108.5 217.0 108.9 216.4 109.1 215.4 109.3 214.4 109.4 213.9 109.4 212.9 109.5 211.9 109.5 210.9 109.5 209.9 109.5 208.9 109.5 207.9 109.4 207.4 109.4 206.4 109.3 205.4 109.2 204.4 109.1 203.4 109.0 202.6 108.9 201.9 108.9 200.9 108.8 199.9 108.8 198.9 108.8 197.9 108.9 197.0 108.9 196.4 108.9 195.4 109.0 194.4 109.1 193.4 109.1 192.4 109.2 191.4 109.2 190.4 109.3 189.4 109.3 188.4 109.3 187.4 109.3 186.4 109.3 185.4 109.3 184.4 109.4 183.4 109.4 182.4 109.4 181.7 109.4 180.9 109.4 179.9 109.5 178.9 109.5 177.9 109.5 176.9 109.5 175.9 109.5 174.9 109.4 174.1 109.4 173.4 109.4 172.4 109.3 171.4 109.3 170.4 109.3 169.4 109.2 168.4 109.1 167.5 108.9 166.9 108.8 166.4 108.4 166.1 107.4 166.0 106.4 166.0 105.4 166.0 104.4 166.0 103.4 165.9 102.4 165.9 101.4 165.9 100.4 166.0 99.4 166.0 98.4 166.0 97.4 166.0 96.4 166.1 95.4 166.3 94.4 166.5 93.9 167.4 93.6 168.4 93.4 168.9 93.4 169.9 93.3 170.9 93.3 171.9 93.3 172.9 93.3 173.9 93.2 174.9 93.2 175.9 93.1 176.9 93.1 177.9 93.1 178.9 93.1 179.9 93.0 180.9 93.0 181.9 93.0 182.9 93.0 183.9 93.0 184.9 93.0 185.9 93.0 186.9 93.1 187.9 93.1 188.9 93.2 189.9 93.2 190.9 93.3 191.9 93.3 192.9 93.4 193.9 93.4 194.9 93.4 195.9 93.4 196.9 93.4 197.9 93.3 198.9 93.3 199.9 93.2 200.9 93.1 201.9 92.9 202.4 92.8 203.4 92.6 204.2 92.4 204.9 92.2 205.9 92.0 206.8 91.9Z M208.3 93.4 208.9 93.3 209.9 93.3 210.9 93.3 211.9 93.3 212.9 93.3 213.4 93.4 214.4 93.5 215.4 93.7 216.1 93.9 216.9 94.2 217.4 94.4 218.4 94.9 218.9 95.2 219.4 95.6 219.9 96.0 220.4 96.4 220.9 97.0 221.4 97.8 221.6 98.4 221.9 99.4 221.9 99.9 221.9 100.9 221.8 101.4 221.6 102.4 221.3 102.9 220.9 103.6 220.4 104.2 219.9 104.7 219.4 105.2 218.9 105.6 218.4 106.0 217.7 106.4 216.9 106.8 216.4 107.1 215.4 107.4 214.9 107.5 213.9 107.6 212.9 107.7 211.9 107.7 210.9 107.7 209.9 107.7 208.9 107.7 207.9 107.7 206.9 107.6 205.9 107.5 204.9 107.4 204.4 107.4 203.4 107.2 202.4 107.1 201.4 107.1 200.4 107.0 199.4 107.1 198.4 107.1 197.4 107.2 196.4 107.3 195.9 107.4 194.9 107.5 193.9 107.6 192.9 107.7 191.9 107.8 190.9 107.9 190.4 107.9 189.4 108.0 188.4 108.0 187.4 108.0 186.4 108.0 185.4 108.0 184.4 108.0 183.4 108.0 182.4 108.1 181.4 108.1 180.4 108.1 179.4 108.1 178.4 108.1 177.4 108.2 176.4 108.2 175.4 108.2 174.4 108.2 173.4 108.1 172.4 108.1 171.4 108.0 170.4 108.0 169.4 107.9 168.9 107.9 167.9 107.7 167.0 107.4 166.4 107.2 166.2 106.4 166.1 105.4 166.1 104.4 166.0 103.4 166.0 102.4 166.0 101.4 166.0 100.4 166.0 99.4 166.0 98.4 166.1 97.4 166.2 96.4 166.4 95.4 166.9 95.2 167.9 94.9 168.4 94.8 169.4 94.7 170.4 94.6 171.4 94.6 172.4 94.6 173.4 94.6 174.4 94.6 175.4 94.5 176.4 94.5 177.4 94.5 178.4 94.4 179.4 94.4 179.9 94.4 180.9 94.4 181.9 94.3 182.9 94.3 183.9 94.3 184.9 94.4 185.9 94.4 186.4 94.4 187.4 94.5 188.4 94.6 189.4 94.6 190.4 94.7 191.4 94.8 192.4 94.8 193.4 94.9 194.4 94.9 194.9 94.9 195.9 94.9 196.9 95.0 197.9 95.0 198.9 95.0 199.9 94.9 200.4 94.9 201.4 94.7 202.4 94.5 203.1 94.4 203.9 94.2 204.9 93.9 205.4 93.8 206.4 93.6 207.4 93.5 208.3 93.4Z" stroke-width="0.7"/><path d="M207.8 94.9 208.4 94.8 209.4 94.7 210.4 94.7 211.4 94.7 212.4 94.7 213.4 94.8 214.0 94.9 214.9 95.1 215.8 95.4 216.4 95.6 216.9 95.9 217.8 96.4 218.4 96.9 218.9 97.4 219.3 97.9 219.6 98.4 219.9 99.1 220.1 99.9 220.1 100.9 219.9 101.8 219.7 102.4 219.4 102.9 218.9 103.5 218.4 104.0 217.9 104.4 217.1 104.9 216.4 105.3 215.9 105.5 214.9 105.8 214.4 105.9 213.4 106.1 212.4 106.2 211.4 106.2 210.4 106.3 209.4 106.3 208.4 106.3 207.4 106.3 206.4 106.2 205.4 106.1 204.4 105.9 203.9 105.8 202.9 105.7 201.9 105.5 200.9 105.4 199.9 105.4 198.9 105.5 197.9 105.7 196.9 105.8 196.4 105.9 195.4 106.1 194.4 106.3 193.5 106.4 192.9 106.5 191.9 106.6 190.9 106.7 189.9 106.8 188.9 106.9 188.4 106.9 187.4 106.9 186.4 106.9 185.4 107.0 184.4 107.0 183.4 107.0 182.4 107.0 181.4 107.0 180.4 107.0 179.4 107.0 178.4 107.1 177.4 107.1 176.4 107.1 175.4 107.1 174.4 107.1 173.4 107.1 172.4 107.1 171.4 107.0 170.4 107.0 169.4 106.9 168.9 106.8 167.9 106.7 167.1 106.4 166.4 106.1 166.3 105.4 166.2 104.4 166.1 103.4 166.1 102.4 166.1 101.4 166.1 100.4 166.1 99.4 166.2 98.4 166.3 97.4 166.4 96.6 166.9 96.3 167.9 96.0 168.4 95.9 169.4 95.8 170.4 95.7 171.4 95.7 172.4 95.7 173.4 95.7 174.4 95.6 175.4 95.6 176.4 95.6 177.4 95.5 178.4 95.5 179.4 95.5 180.4 95.4 181.3 95.4 181.9 95.4 182.9 95.4 183.9 95.4 184.4 95.4 185.4 95.5 186.4 95.5 187.4 95.6 188.4 95.7 189.4 95.8 190.4 95.9 190.9 95.9 191.9 96.0 192.9 96.0 193.9 96.1 194.9 96.1 195.9 96.2 196.9 96.3 197.8 96.4 198.4 96.4 199.4 96.4 200.1 96.4 200.9 96.3 201.9 96.2 202.9 96.0 203.4 95.8 204.4 95.6 205.1 95.4 205.9 95.2 206.9 95.0 207.8 94.9Z M207.7 95.9 208.4 95.8 209.4 95.6 210.4 95.6 211.4 95.5 212.4 95.6 213.4 95.7 214.3 95.9 214.9 96.1 215.7 96.4 216.4 96.8 216.9 97.1 217.4 97.6 217.9 98.1 218.4 98.8 218.7 99.4 218.9 100.4 218.8 101.4 218.4 102.4 218.0 102.9 217.5 103.4 216.9 103.9 216.4 104.2 215.9 104.5 214.9 104.8 214.4 104.9 213.4 105.1 212.4 105.2 211.4 105.3 210.6 105.4 209.9 105.4 208.9 105.5 207.9 105.5 206.9 105.4 206.4 105.3 205.4 105.2 204.4 105.0 203.9 104.9 202.9 104.6 201.9 104.4 201.4 104.4 200.4 104.3 199.6 104.4 198.9 104.5 197.9 104.7 197.1 104.9 196.4 105.1 195.4 105.3 194.7 105.4 193.9 105.5 192.9 105.7 191.9 105.8 191.4 105.9 190.4 106.0 189.4 106.1 188.4 106.2 187.4 106.3 186.4 106.3 185.4 106.3 184.4 106.3 183.4 106.3 182.4 106.3 181.4 106.3 180.4 106.4 179.4 106.4 178.5 106.4 177.9 106.4 176.9 106.5 175.9 106.5 174.9 106.5 173.9 106.5 172.9 106.5 171.9 106.5 170.9 106.4 170.4 106.4 169.4 106.3 168.4 106.1 167.6 105.9 166.9 105.6 166.4 105.3 166.3 104.4 166.2 103.4 166.1 102.4 166.1 101.4 166.2 100.4 166.2 99.4 166.3 98.4 166.4 97.4 166.9 97.0 167.4 96.8 168.4 96.6 169.4 96.4 170.0 96.4 170.9 96.4 171.9 96.3 172.9 96.3 173.9 96.3 174.9 96.2 175.9 96.2 176.9 96.2 177.9 96.1 178.9 96.1 179.9 96.1 180.9 96.0 181.9 96.0 182.9 96.0 183.9 96.0 184.9 96.1 185.9 96.2 186.9 96.2 187.9 96.3 188.5 96.4 189.4 96.5 190.4 96.6 191.4 96.7 192.4 96.7 193.4 96.8 194.4 96.9 194.9 96.9 195.9 97.0 196.9 97.2 197.9 97.3 198.9 97.4 199.9 97.4 200.9 97.3 201.9 97.2 202.9 97.0 203.4 96.9 204.4 96.6 205.3 96.4 205.9 96.3 206.9 96.0 207.7 95.9Z M174.2 96.9 174.9 96.9 175.9 96.8 176.9 96.8 177.9 96.7 178.9 96.7 179.9 96.7 180.9 96.7 181.9 96.7 182.9 96.7 183.9 96.7 184.9 96.8 185.9 96.9 186.4 96.9 187.4 97.0 188.4 97.1 189.4 97.2 190.4 97.3 191.4 97.4 191.9 97.4 192.9 97.5 193.9 97.6 194.9 97.7 195.9 97.9 196.4 98.0 197.4 98.2 198.4 98.3 198.9 98.4 199.9 98.5 200.9 98.4 201.4 98.4 202.4 98.2 203.4 98.0 203.9 97.9 204.9 97.6 205.8 97.4 206.4 97.2 207.4 97.0 207.9 96.9 208.9 96.7 209.9 96.6 210.9 96.5 211.9 96.5 212.9 96.6 213.9 96.8 214.4 97.0 215.2 97.4 215.9 97.9 216.4 98.3 216.9 98.9 217.2 99.4 217.4 99.9 217.5 100.9 217.4 101.5 216.9 102.4 216.4 102.9 215.9 103.3 215.4 103.6 214.5 103.9 213.9 104.1 212.9 104.3 212.0 104.4 211.4 104.5 210.4 104.6 209.4 104.6 208.4 104.6 207.4 104.6 206.4 104.5 205.9 104.4 204.9 104.1 204.2 103.9 203.4 103.6 202.8 103.4 201.9 103.1 200.9 103.0 199.9 103.1 198.9 103.4 198.4 103.5 197.4 103.9 196.9 104.0 195.9 104.3 195.4 104.4 194.4 104.7 193.4 104.8 192.9 104.9 191.9 105.1 190.9 105.2 189.9 105.4 189.4 105.4 188.4 105.5 187.4 105.6 186.4 105.6 185.4 105.6 184.4 105.7 183.4 105.7 182.4 105.7 181.4 105.7 180.4 105.7 179.4 105.7 178.4 105.8 177.4 105.8 176.4 105.8 175.4 105.9 174.4 105.9 173.9 105.9 173.4 105.9 172.4 105.9 171.4 105.8 170.4 105.8 169.4 105.7 168.4 105.5 167.9 105.4 166.9 104.9 166.4 104.6 166.3 103.9 166.2 102.9 166.2 101.9 166.2 100.9 166.2 99.9 166.3 98.9 166.4 98.2 166.9 97.8 167.9 97.4 168.4 97.3 169.4 97.1 170.4 97.0 171.4 97.0 172.4 97.0 173.4 96.9 174.2 96.9Z M176.9 97.4 177.4 97.4 178.4 97.4 179.4 97.3 180.4 97.3 181.4 97.3 182.4 97.3 183.4 97.4 183.9 97.4 184.9 97.5 185.9 97.6 186.9 97.6 187.9 97.7 188.9 97.8 189.8 97.9 190.4 98.0 191.4 98.0 192.4 98.1 193.4 98.2 194.4 98.4 194.9 98.5 195.9 98.7 196.4 98.9 197.4 99.3 197.9 99.5 198.8 99.9 199.4 100.3 199.7 100.9 199.2 101.4 198.5 101.9 197.9 102.4 197.4 102.7 196.9 103.0 195.9 103.4 195.4 103.6 194.4 103.9 193.9 104.0 192.9 104.1 191.9 104.3 191.4 104.4 190.4 104.6 189.4 104.7 188.4 104.9 187.6 104.9 186.9 104.9 185.9 105.0 184.9 105.0 183.9 105.0 182.9 105.0 181.9 105.1 180.9 105.1 179.9 105.1 178.9 105.1 177.9 105.1 176.9 105.2 175.9 105.2 174.9 105.3 173.9 105.3 172.9 105.3 171.9 105.3 170.9 105.2 169.9 105.1 168.9 105.0 168.4 104.9 167.4 104.5 166.9 104.2 166.4 103.7 166.3 102.9 166.3 101.9 166.3 100.9 166.3 99.9 166.4 99.1 166.9 98.6 167.4 98.3 168.4 98.0 168.9 97.8 169.9 97.7 170.9 97.7 171.9 97.6 172.9 97.6 173.9 97.5 174.9 97.5 175.9 97.4 176.9 97.4Z M208.1 97.9 208.9 97.7 209.9 97.6 210.9 97.5 211.9 97.5 212.9 97.7 213.4 97.9 214.4 98.4 214.9 98.8 215.4 99.3 215.8 99.9 216.0 100.4 215.9 101.4 215.6 101.9 215.1 102.4 214.4 102.8 213.9 103.0 212.9 103.3 212.4 103.4 211.4 103.6 210.4 103.7 209.4 103.7 208.4 103.7 207.4 103.7 206.4 103.5 205.9 103.4 204.9 103.0 204.4 102.7 203.8 102.4 203.1 101.9 202.4 101.4 201.9 100.9 201.8 100.4 202.4 99.9 202.9 99.7 203.4 99.4 204.4 99.0 204.9 98.8 205.9 98.5 206.4 98.3 207.4 98.1 208.1 97.9Z M169.7 98.4 170.4 98.3 171.4 98.3 172.4 98.2 173.4 98.2 174.4 98.1 175.4 98.1 176.4 98.0 177.4 98.0 178.4 98.0 179.4 97.9 180.4 97.9 181.4 98.0 182.4 98.0 183.4 98.1 184.4 98.1 185.4 98.2 186.4 98.3 187.4 98.4 187.9 98.4 188.9 98.5 189.9 98.6 190.9 98.7 191.9 98.8 192.9 98.9 193.4 99.0 194.4 99.2 194.9 99.4 195.9 99.9 196.4 100.4 196.6 100.9 196.4 101.5 195.9 102.1 195.4 102.5 194.5 102.9 193.9 103.1 192.9 103.3 192.4 103.4 191.4 103.7 190.4 103.9 189.9 104.0 188.9 104.1 187.9 104.2 186.9 104.2 185.9 104.3 184.9 104.3 183.9 104.3 182.9 104.4 182.4 104.4 181.4 104.4 180.4 104.5 179.4 104.5 178.4 104.5 177.4 104.5 176.4 104.6 175.4 104.6 174.4 104.7 173.4 104.7 172.4 104.7 171.4 104.7 170.4 104.6 169.4 104.5 168.9 104.4 167.9 104.0 167.4 103.7 166.9 103.3 166.4 102.4 166.4 101.9 166.4 100.9 166.4 100.4 166.9 99.6 167.4 99.1 167.9 98.8 168.9 98.5 169.7 98.4Z M208.3 98.9 208.9 98.8 209.9 98.6 210.9 98.6 211.9 98.8 212.4 99.0 213.2 99.4 213.7 99.9 214.0 100.4 213.9 101.3 213.4 101.8 212.9 102.1 212.1 102.4 211.4 102.6 210.4 102.7 209.4 102.8 208.4 102.7 207.4 102.6 206.6 102.4 205.9 102.0 205.4 101.6 205.1 100.9 205.4 100.2 205.9 99.8 206.7 99.4 207.4 99.2 208.3 98.9Z M170.9 98.9 171.4 98.9 172.4 98.8 173.4 98.7 174.4 98.7 175.4 98.6 176.4 98.6 177.4 98.6 178.4 98.5 179.4 98.5 180.4 98.6 181.4 98.6 182.4 98.7 183.4 98.8 184.4 98.9 184.9 98.9 185.9 99.0 186.9 99.0 187.9 99.1 188.9 99.1 189.9 99.2 190.9 99.4 191.4 99.5 192.4 99.6 193.3 99.9 193.9 100.2 194.4 100.7 194.4 101.4 193.9 101.9 193.4 102.1 192.8 102.4 191.9 102.7 191.2 102.9 190.4 103.1 189.4 103.3 188.9 103.4 187.9 103.5 186.9 103.6 185.9 103.6 184.9 103.6 183.9 103.7 182.9 103.7 181.9 103.8 180.9 103.9 179.9 103.9 179.4 103.9 178.4 103.9 177.4 104.0 176.4 104.0 175.4 104.1 174.4 104.1 173.4 104.1 172.4 104.1 171.4 104.1 170.4 104.0 169.5 103.9 168.9 103.8 168.0 103.4 167.4 102.9 167.1 102.4 166.9 101.9 166.9 101.1 167.2 100.4 167.5 99.9 168.3 99.4 168.9 99.2 169.9 99.0 170.9 98.9Z M209.3 100.4 209.9 100.4 210.2 100.9 209.4 101.0 208.7 100.9 209.3 100.4Z M171.4 99.4 171.9 99.4 172.9 99.3 173.9 99.3 174.9 99.2 175.9 99.2 176.9 99.1 177.9 99.1 178.9 99.1 179.9 99.1 180.9 99.2 181.9 99.3 182.9 99.4 183.4 99.4 184.4 99.6 185.4 99.7 186.4 99.7 187.4 99.8 188.4 99.8 189.3 99.9 189.9 100.0 190.9 100.3 191.4 100.5 191.8 101.4 191.1 101.9 190.4 102.2 189.9 102.4 188.9 102.7 187.9 102.8 186.9 102.8 185.9 102.9 185.0 102.9 184.4 102.9 183.4 103.0 182.4 103.1 181.4 103.2 180.4 103.3 179.4 103.4 178.4 103.4 177.9 103.4 176.9 103.4 175.9 103.5 174.9 103.6 173.9 103.6 172.9 103.6 171.9 103.6 170.9 103.6 169.9 103.4 169.4 103.3 168.4 103.0 167.9 102.6 167.5 101.9 167.6 100.9 167.9 100.4 168.7 99.9 169.4 99.7 170.4 99.5 171.4 99.4Z M174.6 99.9 175.4 99.9 176.4 99.8 177.4 99.8 178.4 99.8 179.4 99.9 179.9 99.9 180.9 100.1 181.9 100.2 182.7 100.4 183.4 100.7 184.2 100.9 184.5 101.4 183.9 101.6 183.3 101.9 182.4 102.1 181.4 102.4 180.9 102.5 179.9 102.6 178.9 102.6 177.9 102.7 176.9 102.7 175.9 102.8 174.9 102.9 174.4 102.9 173.4 103.0 172.4 103.0 171.4 102.9 170.9 102.9 169.9 102.7 169.1 102.4 168.6 101.9 168.8 100.9 169.4 100.5 169.9 100.3 170.9 100.2 171.9 100.1 172.9 100.0 173.9 99.9 174.6 99.9Z M171.7 100.9 172.4 100.8 173.4 100.8 174.4 100.7 175.4 100.7 176.4 100.7 177.4 100.7 178.4 100.8 179.0 100.9 178.9 101.5 177.9 101.8 177.1 101.9 176.4 101.9 175.4 102.0 174.4 102.1 173.4 102.1 172.4 102.1 171.4 102.0 170.7 101.9 170.3 101.4 170.9 101.1 171.7 100.9Z" stroke-width="1"/></g>
<rect x="227.00" y="71.70" width="40.60" height="48.70" fill="none" stroke="#000" stroke-width="1.3"/>
<text class="se" x="226.70" y="68.70" font-size="17.7" text-anchor="start">0.6</text>
<line x1="281.40" y1="16.90" x2="384.80" y2="16.90" stroke="#7a7a7a" stroke-width="1"/>
<line x1="384.80" y1="16.40" x2="384.80" y2="120.40" stroke="#7a7a7a" stroke-width="1"/>
<line x1="281.40" y1="16.40" x2="281.40" y2="120.90" stroke="#4a4a4a" stroke-width="0.9"/>
<line x1="280.90" y1="120.40" x2="385.30" y2="120.40" stroke="#333" stroke-width="1.0"/>
<line x1="278.60" y1="120.40" x2="281.40" y2="120.40" stroke="#4a4a4a" stroke-width="0.8"/>
<line x1="280.00" y1="115.35" x2="281.40" y2="115.35" stroke="#4a4a4a" stroke-width="0.6"/>
<line x1="280.00" y1="110.29" x2="281.40" y2="110.29" stroke="#4a4a4a" stroke-width="0.6"/>
<line x1="280.00" y1="105.24" x2="281.40" y2="105.24" stroke="#4a4a4a" stroke-width="0.6"/>
<line x1="278.60" y1="100.19" x2="281.40" y2="100.19" stroke="#4a4a4a" stroke-width="0.8"/>
<line x1="280.00" y1="95.13" x2="281.40" y2="95.13" stroke="#4a4a4a" stroke-width="0.6"/>
<line x1="280.00" y1="90.08" x2="281.40" y2="90.08" stroke="#4a4a4a" stroke-width="0.6"/>
<line x1="280.00" y1="85.02" x2="281.40" y2="85.02" stroke="#4a4a4a" stroke-width="0.6"/>
<line x1="278.60" y1="79.97" x2="281.40" y2="79.97" stroke="#4a4a4a" stroke-width="0.8"/>
<line x1="280.00" y1="74.92" x2="281.40" y2="74.92" stroke="#4a4a4a" stroke-width="0.6"/>
<line x1="280.00" y1="69.86" x2="281.40" y2="69.86" stroke="#4a4a4a" stroke-width="0.6"/>
<line x1="280.00" y1="64.81" x2="281.40" y2="64.81" stroke="#4a4a4a" stroke-width="0.6"/>
<line x1="278.60" y1="59.76" x2="281.40" y2="59.76" stroke="#4a4a4a" stroke-width="0.8"/>
<line x1="280.00" y1="54.70" x2="281.40" y2="54.70" stroke="#4a4a4a" stroke-width="0.6"/>
<line x1="280.00" y1="49.65" x2="281.40" y2="49.65" stroke="#4a4a4a" stroke-width="0.6"/>
<line x1="280.00" y1="44.59" x2="281.40" y2="44.59" stroke="#4a4a4a" stroke-width="0.6"/>
<line x1="278.60" y1="39.54" x2="281.40" y2="39.54" stroke="#4a4a4a" stroke-width="0.8"/>
<line x1="280.00" y1="34.49" x2="281.40" y2="34.49" stroke="#4a4a4a" stroke-width="0.6"/>
<line x1="280.00" y1="29.43" x2="281.40" y2="29.43" stroke="#4a4a4a" stroke-width="0.6"/>
<line x1="280.00" y1="24.38" x2="281.40" y2="24.38" stroke="#4a4a4a" stroke-width="0.6"/>
<line x1="278.60" y1="19.33" x2="281.40" y2="19.33" stroke="#4a4a4a" stroke-width="0.8"/>
<line x1="281.40" y1="120.40" x2="281.40" y2="123.20" stroke="#4a4a4a" stroke-width="0.8"/>
<line x1="289.18" y1="120.40" x2="289.18" y2="121.90" stroke="#4a4a4a" stroke-width="0.6"/>
<line x1="293.73" y1="120.40" x2="293.73" y2="121.90" stroke="#4a4a4a" stroke-width="0.6"/>
<line x1="296.96" y1="120.40" x2="296.96" y2="121.90" stroke="#4a4a4a" stroke-width="0.6"/>
<line x1="299.47" y1="120.40" x2="299.47" y2="121.90" stroke="#4a4a4a" stroke-width="0.6"/>
<line x1="301.52" y1="120.40" x2="301.52" y2="121.90" stroke="#4a4a4a" stroke-width="0.6"/>
<line x1="303.25" y1="120.40" x2="303.25" y2="121.90" stroke="#4a4a4a" stroke-width="0.6"/>
<line x1="304.74" y1="120.40" x2="304.74" y2="121.90" stroke="#4a4a4a" stroke-width="0.6"/>
<line x1="306.07" y1="120.40" x2="306.07" y2="121.90" stroke="#4a4a4a" stroke-width="0.6"/>
<line x1="307.25" y1="120.40" x2="307.25" y2="123.20" stroke="#4a4a4a" stroke-width="0.8"/>
<line x1="315.03" y1="120.40" x2="315.03" y2="121.90" stroke="#4a4a4a" stroke-width="0.6"/>
<line x1="319.58" y1="120.40" x2="319.58" y2="121.90" stroke="#4a4a4a" stroke-width="0.6"/>
<line x1="322.81" y1="120.40" x2="322.81" y2="121.90" stroke="#4a4a4a" stroke-width="0.6"/>
<line x1="325.32" y1="120.40" x2="325.32" y2="121.90" stroke="#4a4a4a" stroke-width="0.6"/>
<line x1="327.37" y1="120.40" x2="327.37" y2="121.90" stroke="#4a4a4a" stroke-width="0.6"/>
<line x1="329.10" y1="120.40" x2="329.10" y2="121.90" stroke="#4a4a4a" stroke-width="0.6"/>
<line x1="330.59" y1="120.40" x2="330.59" y2="121.90" stroke="#4a4a4a" stroke-width="0.6"/>
<line x1="331.92" y1="120.40" x2="331.92" y2="121.90" stroke="#4a4a4a" stroke-width="0.6"/>
<line x1="333.10" y1="120.40" x2="333.10" y2="123.20" stroke="#4a4a4a" stroke-width="0.8"/>
<line x1="340.88" y1="120.40" x2="340.88" y2="121.90" stroke="#4a4a4a" stroke-width="0.6"/>
<line x1="345.43" y1="120.40" x2="345.43" y2="121.90" stroke="#4a4a4a" stroke-width="0.6"/>
<line x1="348.66" y1="120.40" x2="348.66" y2="121.90" stroke="#4a4a4a" stroke-width="0.6"/>
<line x1="351.17" y1="120.40" x2="351.17" y2="121.90" stroke="#4a4a4a" stroke-width="0.6"/>
<line x1="353.22" y1="120.40" x2="353.22" y2="121.90" stroke="#4a4a4a" stroke-width="0.6"/>
<line x1="354.95" y1="120.40" x2="354.95" y2="121.90" stroke="#4a4a4a" stroke-width="0.6"/>
<line x1="356.44" y1="120.40" x2="356.44" y2="121.90" stroke="#4a4a4a" stroke-width="0.6"/>
<line x1="357.77" y1="120.40" x2="357.77" y2="121.90" stroke="#4a4a4a" stroke-width="0.6"/>
<line x1="358.95" y1="120.40" x2="358.95" y2="123.20" stroke="#4a4a4a" stroke-width="0.8"/>
<line x1="366.73" y1="120.40" x2="366.73" y2="121.90" stroke="#4a4a4a" stroke-width="0.6"/>
<line x1="371.28" y1="120.40" x2="371.28" y2="121.90" stroke="#4a4a4a" stroke-width="0.6"/>
<line x1="374.51" y1="120.40" x2="374.51" y2="121.90" stroke="#4a4a4a" stroke-width="0.6"/>
<line x1="377.02" y1="120.40" x2="377.02" y2="121.90" stroke="#4a4a4a" stroke-width="0.6"/>
<line x1="379.07" y1="120.40" x2="379.07" y2="121.90" stroke="#4a4a4a" stroke-width="0.6"/>
<line x1="380.80" y1="120.40" x2="380.80" y2="121.90" stroke="#4a4a4a" stroke-width="0.6"/>
<line x1="382.29" y1="120.40" x2="382.29" y2="121.90" stroke="#4a4a4a" stroke-width="0.6"/>
<line x1="383.62" y1="120.40" x2="383.62" y2="121.90" stroke="#4a4a4a" stroke-width="0.6"/>
<line x1="384.80" y1="120.40" x2="384.80" y2="123.20" stroke="#4a4a4a" stroke-width="0.8"/>
<text class="se" x="275.40" y="135.40" font-size="9.1">10<tspan font-size="7" dy="-3.7">0</tspan></text>
<text class="se" x="301.25" y="135.40" font-size="9.1">10<tspan font-size="7" dy="-3.7">1</tspan></text>
<text class="se" x="327.10" y="135.40" font-size="9.1">10<tspan font-size="7" dy="-3.7">2</tspan></text>
<text class="se" x="352.95" y="135.40" font-size="9.1">10<tspan font-size="7" dy="-3.7">3</tspan></text>
<text class="se" x="378.80" y="135.40" font-size="9.1">10<tspan font-size="7" dy="-3.7">4</tspan></text>
<text class="se" x="292.70" y="16.20" font-size="13" text-anchor="start">CD300a D98A</text>
<clipPath id="c281_16"><rect x="281.90" y="16.90" width="102.90" height="103.00"/></clipPath>
<g clip-path="url(#c281_16)" fill="none" stroke="#000" stroke-linejoin="round"><path d="M326.3 89.4 326.9 89.3 327.9 89.2 328.9 89.1 329.9 89.1 330.9 89.2 331.9 89.3 332.6 89.4 333.4 89.5 334.4 89.8 334.9 89.9 335.9 90.3 336.4 90.5 337.3 90.9 337.9 91.3 338.4 91.6 338.9 91.9 339.4 92.4 340.0 92.9 340.4 93.4 340.9 94.0 341.4 94.7 341.9 95.4 342.2 95.9 342.4 96.5 342.7 97.4 342.9 98.2 343.0 98.9 343.0 99.9 343.0 100.9 342.9 101.4 342.8 102.4 342.5 103.4 342.3 103.9 341.9 104.7 341.5 105.4 341.1 105.9 340.7 106.4 340.1 106.9 339.5 107.4 338.9 107.8 338.4 108.2 337.9 108.5 337.1 108.9 336.4 109.2 335.9 109.4 334.9 109.8 334.4 109.9 333.4 110.2 332.4 110.3 331.9 110.4 330.9 110.5 329.9 110.6 328.9 110.7 327.9 110.7 326.9 110.7 325.9 110.7 324.9 110.6 323.9 110.6 322.9 110.6 321.9 110.7 320.9 110.8 320.1 110.9 319.4 111.0 318.4 111.2 317.4 111.3 316.9 111.4 315.9 111.5 314.9 111.7 313.9 111.8 312.9 111.9 312.4 111.9 311.4 112.0 310.4 112.1 309.4 112.2 308.4 112.2 307.4 112.3 306.4 112.3 305.4 112.4 304.6 112.4 303.9 112.4 302.9 112.5 301.9 112.5 300.9 112.5 299.9 112.5 298.9 112.4 297.9 112.4 296.9 112.4 296.4 112.4 295.4 112.4 294.4 112.3 293.4 112.2 292.4 112.1 291.4 112.0 290.8 111.9 289.9 111.7 288.9 111.5 288.4 111.4 287.4 111.1 286.9 110.9 285.9 110.5 285.4 110.3 284.5 109.9 283.9 109.6 283.4 109.4 283.2 108.4 283.1 107.4 283.0 106.4 283.0 105.4 283.0 104.4 283.0 103.4 283.0 102.4 283.0 101.4 283.0 100.4 283.0 99.4 283.0 98.4 283.0 97.4 283.1 96.4 283.3 95.4 283.9 94.9 284.4 94.7 285.0 94.4 285.9 94.0 286.4 93.9 287.4 93.5 287.9 93.3 288.9 93.0 289.4 92.9 290.4 92.6 291.4 92.5 291.9 92.4 292.9 92.2 293.9 92.0 294.9 91.9 295.4 91.9 296.4 91.8 297.4 91.7 298.4 91.6 299.4 91.5 300.4 91.5 301.1 91.4 301.9 91.3 302.9 91.2 303.9 91.1 304.9 91.0 305.9 91.0 306.6 90.9 307.4 90.8 308.4 90.7 309.4 90.6 310.4 90.5 311.4 90.5 312.4 90.4 312.9 90.4 313.9 90.3 314.9 90.3 315.9 90.2 316.9 90.2 317.9 90.2 318.9 90.2 319.9 90.2 320.9 90.1 321.9 90.1 322.9 90.0 323.5 89.9 324.4 89.7 325.4 89.5 326.3 89.4Z M327.3 90.9 327.9 90.8 328.9 90.8 329.9 90.7 330.9 90.8 331.8 90.9 332.4 91.0 333.4 91.2 334.0 91.4 334.9 91.7 335.4 92.0 336.2 92.4 336.9 92.8 337.4 93.2 337.9 93.6 338.4 94.1 338.9 94.7 339.4 95.4 339.8 95.9 340.1 96.4 340.4 97.0 340.7 97.9 340.9 98.9 340.9 99.4 340.9 100.4 340.9 100.9 340.7 101.9 340.4 102.9 340.3 103.4 339.9 104.1 339.4 104.9 339.0 105.4 338.5 105.9 337.9 106.4 337.4 106.7 336.9 107.0 336.2 107.4 335.4 107.8 334.9 108.0 333.9 108.3 333.4 108.4 332.4 108.6 331.4 108.8 330.4 108.9 329.9 108.9 328.9 109.0 327.9 109.0 326.9 109.0 325.9 109.0 324.9 108.9 323.9 108.9 322.9 108.9 321.9 109.0 320.9 109.2 319.9 109.3 319.4 109.4 318.4 109.6 317.4 109.8 316.5 109.9 315.9 110.0 314.9 110.2 313.9 110.3 313.1 110.4 312.4 110.5 311.4 110.6 310.4 110.6 309.4 110.7 308.4 110.7 307.4 110.8 306.4 110.9 305.7 110.9 304.9 111.0 303.9 111.0 302.9 111.1 301.9 111.1 300.9 111.1 299.9 111.1 298.9 111.1 297.9 111.0 296.9 111.0 295.9 111.0 294.9 110.9 294.4 110.9 293.4 110.8 292.4 110.7 291.4 110.5 290.7 110.4 289.9 110.2 288.9 110.0 288.4 109.8 287.4 109.4 286.9 109.2 286.1 108.9 285.4 108.6 284.9 108.3 284.2 107.9 283.5 107.4 283.3 106.9 283.2 105.9 283.1 104.9 283.1 103.9 283.1 102.9 283.1 101.9 283.1 100.9 283.1 99.9 283.2 98.9 283.2 97.9 283.4 96.9 283.9 96.6 284.4 96.4 285.3 95.9 285.9 95.6 286.5 95.4 287.4 95.0 287.9 94.8 288.9 94.5 289.4 94.4 290.4 94.1 291.3 93.9 291.9 93.8 292.9 93.6 293.9 93.5 294.7 93.4 295.4 93.3 296.4 93.2 297.4 93.2 298.4 93.1 299.4 93.0 300.4 92.9 300.9 92.9 301.9 92.8 302.9 92.7 303.9 92.6 304.9 92.5 305.9 92.4 306.4 92.4 307.4 92.3 308.4 92.2 309.4 92.1 310.4 92.0 311.4 91.9 312.1 91.9 312.9 91.9 313.9 91.8 314.9 91.8 315.9 91.8 316.9 91.7 317.9 91.7 318.9 91.7 319.9 91.7 320.9 91.7 321.9 91.7 322.9 91.6 323.9 91.5 324.5 91.4 325.4 91.2 326.4 91.0 327.3 90.9Z M325.7 92.9 326.4 92.8 327.4 92.6 328.4 92.5 329.4 92.4 330.4 92.5 331.4 92.5 332.4 92.7 332.9 92.9 333.9 93.3 334.4 93.5 335.1 93.9 335.8 94.4 336.3 94.9 336.8 95.4 337.3 95.9 337.7 96.4 338.0 96.9 338.4 97.6 338.7 98.4 338.8 99.4 338.8 100.4 338.6 101.4 338.4 102.2 338.1 102.9 337.9 103.4 337.4 104.1 336.9 104.6 336.4 105.1 335.9 105.5 335.2 105.9 334.4 106.3 333.9 106.5 332.9 106.8 332.4 106.9 331.4 107.1 330.4 107.2 329.4 107.3 328.4 107.3 327.4 107.4 326.4 107.4 325.4 107.3 324.4 107.3 323.4 107.3 322.4 107.3 321.4 107.4 320.9 107.5 319.9 107.6 318.9 107.8 318.4 107.9 317.4 108.1 316.4 108.3 315.7 108.4 314.9 108.5 313.9 108.7 312.9 108.9 312.4 108.9 311.4 109.1 310.4 109.1 309.4 109.2 308.4 109.3 307.4 109.3 306.4 109.4 305.9 109.4 304.9 109.5 303.9 109.6 302.9 109.6 301.9 109.7 300.9 109.7 299.9 109.7 298.9 109.6 297.9 109.6 296.9 109.6 295.9 109.5 294.9 109.4 294.4 109.4 293.4 109.3 292.4 109.2 291.4 109.0 290.9 108.9 289.9 108.6 289.2 108.4 288.4 108.1 287.9 107.9 286.9 107.4 286.4 107.2 285.9 106.8 285.3 106.4 284.7 105.9 284.2 105.4 283.7 104.9 283.4 104.4 283.3 103.4 283.3 102.4 283.3 101.4 283.3 100.4 283.4 99.6 283.9 99.0 284.4 98.5 284.9 98.1 285.4 97.7 286.0 97.4 286.9 96.9 287.4 96.7 288.0 96.4 288.9 96.1 289.4 95.9 290.4 95.6 291.3 95.4 291.9 95.3 292.9 95.1 293.9 94.9 294.4 94.9 295.4 94.7 296.4 94.7 297.4 94.6 298.4 94.5 299.4 94.4 299.9 94.4 300.9 94.3 301.9 94.2 302.9 94.1 303.9 94.1 304.9 94.0 305.9 94.0 306.8 93.9 307.4 93.8 308.4 93.7 309.4 93.6 310.4 93.5 311.4 93.4 311.9 93.4 312.9 93.3 313.9 93.3 314.9 93.3 315.9 93.3 316.9 93.2 317.9 93.3 318.9 93.3 319.9 93.4 320.6 93.4 321.4 93.4 322.4 93.4 322.9 93.4 323.9 93.2 324.9 93.1 325.7 92.9Z" stroke-width="0.7"/><path d="M328.8 93.9 329.4 93.9 330.1 93.9 330.9 94.0 331.9 94.1 332.7 94.4 333.4 94.7 333.9 95.0 334.5 95.4 335.1 95.9 335.7 96.4 336.1 96.9 336.5 97.4 336.9 98.3 337.1 98.9 337.1 99.9 337.0 100.9 336.9 101.4 336.5 102.4 336.2 102.9 335.8 103.4 335.4 103.9 334.8 104.4 334.0 104.9 333.4 105.2 332.7 105.4 331.9 105.6 330.9 105.8 330.0 105.9 329.4 105.9 328.4 106.0 327.4 106.1 326.4 106.1 325.4 106.0 324.4 106.0 323.4 105.9 322.4 106.0 321.4 106.0 320.4 106.2 319.4 106.4 318.9 106.5 317.9 106.7 316.9 106.9 316.4 107.0 315.4 107.2 314.4 107.3 313.9 107.4 312.9 107.6 311.9 107.8 310.9 107.9 310.4 108.0 309.4 108.1 308.4 108.1 307.4 108.2 306.4 108.3 305.4 108.4 304.9 108.4 303.9 108.5 302.9 108.5 301.9 108.6 300.9 108.6 299.9 108.5 298.9 108.5 297.9 108.4 297.3 108.4 296.4 108.3 295.4 108.3 294.4 108.2 293.4 108.1 292.4 107.9 291.9 107.8 290.9 107.6 290.1 107.4 289.4 107.2 288.8 106.9 287.9 106.5 287.4 106.2 286.9 105.9 286.3 105.4 285.8 104.9 285.4 104.3 284.9 103.4 284.8 102.9 284.7 101.9 284.8 100.9 285.0 100.4 285.4 99.8 285.9 99.2 286.4 98.8 287.0 98.4 287.8 97.9 288.4 97.6 288.9 97.4 289.9 97.0 290.4 96.8 291.4 96.6 292.1 96.4 292.9 96.2 293.9 96.1 294.9 95.9 295.4 95.9 296.4 95.8 297.4 95.7 298.4 95.6 299.4 95.5 300.4 95.5 301.4 95.4 301.9 95.4 302.9 95.3 303.9 95.3 304.9 95.2 305.9 95.2 306.9 95.1 307.9 95.0 308.9 94.9 309.4 94.9 310.4 94.7 311.4 94.6 312.4 94.5 313.4 94.5 314.4 94.5 315.4 94.5 316.4 94.5 317.4 94.5 318.4 94.6 319.4 94.7 320.4 94.8 321.4 94.9 322.4 94.8 323.4 94.7 324.4 94.6 325.3 94.4 325.9 94.3 326.9 94.1 327.9 94.0 328.8 93.9Z M327.4 94.9 327.9 94.8 328.9 94.8 329.9 94.8 330.9 94.9 331.4 95.0 332.4 95.3 332.9 95.5 333.6 95.9 334.3 96.4 334.8 96.9 335.2 97.4 335.6 97.9 335.9 98.7 336.0 99.4 336.0 100.4 335.9 100.9 335.6 101.9 335.3 102.4 334.9 103.0 334.4 103.5 333.8 103.9 332.9 104.4 332.4 104.6 331.4 104.9 330.9 104.9 329.9 105.1 328.9 105.1 327.9 105.2 326.9 105.2 325.9 105.2 324.9 105.1 323.9 105.1 322.9 105.0 321.9 105.0 320.9 105.2 319.9 105.4 319.4 105.5 318.4 105.7 317.7 105.9 316.9 106.1 315.9 106.3 315.3 106.4 314.4 106.6 313.4 106.7 312.5 106.9 311.9 107.0 310.9 107.2 309.9 107.3 308.9 107.4 308.4 107.4 307.4 107.5 306.4 107.6 305.4 107.7 304.4 107.8 303.4 107.8 302.4 107.9 301.4 107.9 300.4 107.9 299.4 107.8 298.4 107.8 297.4 107.7 296.4 107.6 295.4 107.5 294.4 107.5 293.8 107.4 292.9 107.3 291.9 107.1 291.0 106.9 290.4 106.7 289.5 106.4 288.9 106.1 288.4 105.9 287.7 105.4 287.1 104.9 286.6 104.4 286.3 103.9 285.9 102.9 285.8 102.4 285.9 101.4 286.0 100.9 286.4 100.1 286.9 99.6 287.4 99.1 287.9 98.8 288.5 98.4 289.4 98.0 289.9 97.8 290.9 97.4 291.4 97.3 292.4 97.0 293.2 96.9 293.9 96.8 294.9 96.6 295.9 96.5 296.8 96.4 297.4 96.3 298.4 96.3 299.4 96.2 300.4 96.1 301.4 96.1 302.4 96.1 303.4 96.0 304.4 96.0 305.4 95.9 306.2 95.9 306.9 95.9 307.9 95.8 308.9 95.7 309.9 95.5 310.9 95.4 311.4 95.4 312.4 95.3 313.4 95.2 314.4 95.2 315.4 95.2 316.4 95.3 317.4 95.3 318.0 95.4 318.9 95.5 319.9 95.7 320.9 95.8 321.9 95.9 322.9 95.8 323.9 95.6 324.9 95.4 325.4 95.3 326.4 95.1 327.4 94.9Z M326.8 95.9 327.4 95.8 328.4 95.7 329.4 95.7 330.4 95.8 330.9 95.9 331.9 96.2 332.4 96.4 333.3 96.9 333.8 97.4 334.3 97.9 334.6 98.4 334.8 99.4 334.8 100.4 334.6 101.4 334.3 101.9 333.9 102.5 333.4 103.0 332.8 103.4 331.9 103.8 331.4 103.9 330.4 104.1 329.4 104.2 328.4 104.3 327.4 104.3 326.4 104.3 325.4 104.2 324.4 104.1 323.4 103.9 322.9 103.9 321.9 103.9 321.4 103.9 320.4 104.1 319.6 104.4 318.9 104.6 318.1 104.9 317.4 105.1 316.4 105.4 315.9 105.5 314.9 105.7 314.0 105.9 313.4 106.0 312.4 106.2 311.4 106.4 310.9 106.4 309.9 106.6 308.9 106.7 307.9 106.8 306.9 106.9 306.4 106.9 305.4 107.0 304.4 107.1 303.4 107.1 302.4 107.2 301.4 107.2 300.4 107.2 299.4 107.1 298.4 107.0 297.4 107.0 296.7 106.9 295.9 106.9 294.9 106.8 293.9 106.7 292.9 106.6 292.0 106.4 291.4 106.3 290.4 106.0 289.9 105.8 289.1 105.4 288.4 105.0 287.9 104.5 287.4 103.9 287.1 103.4 286.9 102.6 286.9 101.9 286.9 101.4 287.4 100.4 287.8 99.9 288.4 99.4 288.9 99.1 289.4 98.8 290.3 98.4 290.9 98.2 291.8 97.9 292.4 97.7 293.4 97.5 294.2 97.4 294.9 97.3 295.9 97.2 296.9 97.0 297.9 97.0 298.7 96.9 299.4 96.9 300.4 96.8 301.4 96.8 302.4 96.7 303.4 96.7 304.4 96.7 305.4 96.6 306.4 96.6 307.4 96.5 308.4 96.5 309.0 96.4 309.9 96.3 310.9 96.2 311.9 96.1 312.9 96.0 313.9 96.0 314.9 96.0 315.9 96.1 316.9 96.2 317.9 96.3 318.4 96.4 319.4 96.6 320.4 96.9 320.9 97.0 321.9 97.1 322.9 97.0 323.4 96.9 324.4 96.6 324.9 96.4 325.9 96.1 326.8 95.9Z M311.0 96.9 311.9 96.8 312.9 96.8 313.9 96.8 314.9 96.8 315.6 96.9 316.4 97.0 317.4 97.2 318.0 97.4 318.9 97.7 319.4 97.9 320.4 98.4 320.9 98.6 321.9 98.8 322.9 98.6 323.4 98.4 324.3 97.9 324.9 97.6 325.4 97.4 326.4 97.0 326.9 96.9 327.9 96.7 328.9 96.7 329.9 96.8 330.4 96.9 331.4 97.2 331.9 97.4 332.6 97.9 333.0 98.4 333.4 99.2 333.5 99.9 333.4 100.8 333.2 101.4 332.9 101.9 332.3 102.4 331.4 102.8 330.9 103.0 329.9 103.2 328.9 103.3 327.9 103.3 326.9 103.3 325.9 103.2 324.9 103.0 324.4 102.8 323.4 102.5 322.9 102.4 321.9 102.2 320.9 102.4 320.4 102.5 319.7 102.9 318.9 103.4 318.4 103.7 317.9 104.0 316.9 104.4 316.4 104.6 315.4 104.9 314.9 105.0 313.9 105.2 312.9 105.4 312.4 105.5 311.4 105.6 310.4 105.8 309.6 105.9 308.9 106.0 307.9 106.1 306.9 106.2 305.9 106.2 304.9 106.3 303.9 106.4 303.2 106.4 302.4 106.4 301.4 106.5 300.4 106.4 299.5 106.4 298.9 106.4 297.9 106.3 296.9 106.2 295.9 106.2 294.9 106.1 293.9 106.0 293.1 105.9 292.4 105.8 291.4 105.6 290.9 105.4 289.9 105.0 289.4 104.7 288.9 104.3 288.4 103.8 287.9 102.9 287.9 102.4 287.9 101.7 288.2 100.9 288.6 100.4 289.1 99.9 289.9 99.4 290.4 99.1 291.0 98.9 291.9 98.6 292.5 98.4 293.4 98.2 294.4 98.0 295.3 97.9 295.9 97.8 296.9 97.7 297.9 97.6 298.9 97.5 299.9 97.5 300.9 97.5 301.9 97.4 302.9 97.4 303.4 97.4 304.4 97.4 305.4 97.3 306.4 97.3 307.4 97.3 308.4 97.2 309.4 97.1 310.4 97.0 311.0 96.9Z M308.3 97.9 308.9 97.8 309.9 97.7 310.9 97.6 311.9 97.6 312.9 97.6 313.9 97.6 314.9 97.7 315.8 97.9 316.4 98.1 317.2 98.4 317.9 98.8 318.4 99.3 318.7 99.9 318.7 100.9 318.4 101.6 317.9 102.4 317.4 102.9 316.9 103.3 316.4 103.6 315.8 103.9 314.9 104.2 314.3 104.4 313.4 104.6 312.4 104.8 311.7 104.9 310.9 105.0 309.9 105.2 308.9 105.3 307.9 105.4 307.4 105.4 306.4 105.5 305.4 105.6 304.4 105.6 303.4 105.7 302.4 105.7 301.4 105.7 300.4 105.7 299.4 105.7 298.4 105.6 297.4 105.5 296.4 105.5 295.4 105.5 294.4 105.4 293.9 105.4 292.9 105.2 291.9 105.0 291.4 104.9 290.4 104.5 289.9 104.1 289.4 103.7 288.9 102.9 288.8 102.4 288.9 101.6 289.3 100.9 289.8 100.4 290.4 99.9 290.9 99.7 291.5 99.4 292.4 99.1 293.2 98.9 293.9 98.8 294.9 98.6 295.9 98.5 296.4 98.4 297.4 98.3 298.4 98.2 299.4 98.1 300.4 98.1 301.4 98.1 302.4 98.1 303.4 98.1 304.4 98.1 305.4 98.0 306.4 98.0 307.4 98.0 308.3 97.9Z M326.1 98.4 326.9 98.1 327.9 97.9 328.9 98.0 329.9 98.2 330.4 98.4 331.2 98.9 331.5 99.4 331.7 100.4 331.4 101.0 330.9 101.5 330.0 101.9 329.4 102.0 328.4 102.1 327.4 102.2 326.4 102.0 325.9 101.9 325.1 101.4 324.6 100.9 324.6 99.9 324.9 99.4 325.4 98.9 326.1 98.4Z M310.3 98.4 310.9 98.4 311.9 98.3 312.9 98.4 313.4 98.4 314.4 98.6 315.2 98.9 315.9 99.3 316.4 99.8 316.7 100.4 316.6 101.4 316.4 102.0 315.9 102.7 315.4 103.1 314.9 103.4 313.9 103.8 313.4 103.9 312.4 104.1 311.4 104.3 310.5 104.4 309.9 104.5 308.9 104.6 307.9 104.7 306.9 104.8 305.9 104.8 304.9 104.9 303.9 104.9 303.4 104.9 302.4 104.9 301.4 105.0 300.4 105.0 299.4 104.9 298.4 104.9 297.9 104.9 296.9 104.9 295.9 104.9 294.9 104.8 293.9 104.8 292.9 104.6 292.0 104.4 291.4 104.2 290.8 103.9 290.2 103.4 289.9 102.9 289.8 101.9 290.0 101.4 290.4 100.9 291.0 100.4 291.9 100.0 292.4 99.8 293.4 99.5 293.9 99.4 294.9 99.2 295.9 99.1 296.9 98.9 297.4 98.9 298.4 98.8 299.4 98.7 300.4 98.7 301.4 98.7 302.4 98.8 303.4 98.8 304.4 98.8 305.4 98.8 306.4 98.7 307.4 98.7 308.4 98.6 309.4 98.5 310.3 98.4Z M298.1 99.4 298.9 99.3 299.9 99.3 300.9 99.3 301.9 99.4 302.5 99.4 303.4 99.4 304.4 99.5 305.4 99.5 306.4 99.4 306.9 99.4 307.9 99.3 308.9 99.2 309.9 99.1 310.9 99.0 311.9 99.0 312.9 99.2 313.7 99.4 314.4 99.8 314.9 100.3 315.2 100.9 315.1 101.9 314.7 102.4 314.1 102.9 313.4 103.2 312.8 103.4 311.9 103.6 310.9 103.7 309.9 103.9 309.4 103.9 308.4 104.0 307.4 104.1 306.4 104.1 305.4 104.2 304.4 104.2 303.4 104.2 302.4 104.2 301.4 104.2 300.4 104.2 299.4 104.2 298.4 104.2 297.4 104.2 296.4 104.3 295.4 104.3 294.4 104.3 293.4 104.2 292.4 104.0 291.9 103.8 291.3 103.4 290.8 102.9 290.6 101.9 290.9 101.4 291.4 100.9 292.4 100.4 292.9 100.2 293.9 99.9 294.4 99.9 295.4 99.7 296.4 99.6 297.4 99.5 298.1 99.4Z M310.3 99.9 310.9 99.9 311.4 99.9 312.4 100.1 312.9 100.4 313.4 100.9 313.4 101.8 312.9 102.3 312.4 102.6 311.4 102.9 310.9 102.9 309.9 103.0 308.9 103.1 307.9 103.1 306.9 103.1 305.9 103.1 304.9 103.1 303.9 103.0 302.9 103.0 301.9 102.9 300.9 103.0 299.9 103.0 298.9 103.1 297.9 103.2 297.0 103.4 296.4 103.5 295.4 103.6 294.4 103.6 293.4 103.5 292.9 103.3 292.1 102.9 291.8 102.4 291.9 101.8 292.4 101.3 293.2 100.9 293.9 100.7 294.9 100.5 295.9 100.5 296.6 100.4 297.4 100.3 298.4 100.3 299.4 100.2 300.4 100.3 301.4 100.4 301.9 100.4 302.9 100.5 303.9 100.6 304.9 100.6 305.9 100.5 306.7 100.4 307.4 100.3 308.4 100.2 309.4 100.0 310.3 99.9Z M308.7 101.4 309.4 101.2 310.4 101.0 311.4 101.4 311.4 101.4 310.8 101.9 309.9 102.0 308.9 101.9 308.7 101.4Z M293.5 101.9 294.4 101.5 295.4 101.5 296.4 101.8 296.4 102.1 295.9 102.5 294.9 102.7 293.9 102.6 293.5 101.9Z" stroke-width="1"/></g>
<rect x="344.50" y="71.90" width="40.30" height="48.50" fill="none" stroke="#000" stroke-width="1.3"/>
<text class="se" x="342.70" y="69.00" font-size="17.7" text-anchor="start">0.95</text>
<line x1="48.50" y1="159.00" x2="148.20" y2="159.00" stroke="#7a7a7a" stroke-width="1"/>
<line x1="148.20" y1="158.50" x2="148.20" y2="259.40" stroke="#7a7a7a" stroke-width="1"/>
<line x1="48.50" y1="158.50" x2="48.50" y2="259.90" stroke="#4a4a4a" stroke-width="0.9"/>
<line x1="48.00" y1="259.40" x2="148.70" y2="259.40" stroke="#333" stroke-width="1.0"/>
<line x1="45.70" y1="259.40" x2="48.50" y2="259.40" stroke="#4a4a4a" stroke-width="0.8"/>
<line x1="47.10" y1="254.50" x2="48.50" y2="254.50" stroke="#4a4a4a" stroke-width="0.6"/>
<line x1="47.10" y1="249.60" x2="48.50" y2="249.60" stroke="#4a4a4a" stroke-width="0.6"/>
<line x1="47.10" y1="244.69" x2="48.50" y2="244.69" stroke="#4a4a4a" stroke-width="0.6"/>
<line x1="45.70" y1="239.79" x2="48.50" y2="239.79" stroke="#4a4a4a" stroke-width="0.8"/>
<line x1="47.10" y1="234.89" x2="48.50" y2="234.89" stroke="#4a4a4a" stroke-width="0.6"/>
<line x1="47.10" y1="229.99" x2="48.50" y2="229.99" stroke="#4a4a4a" stroke-width="0.6"/>
<line x1="47.10" y1="225.08" x2="48.50" y2="225.08" stroke="#4a4a4a" stroke-width="0.6"/>
<line x1="45.70" y1="220.18" x2="48.50" y2="220.18" stroke="#4a4a4a" stroke-width="0.8"/>
<line x1="47.10" y1="215.28" x2="48.50" y2="215.28" stroke="#4a4a4a" stroke-width="0.6"/>
<line x1="47.10" y1="210.38" x2="48.50" y2="210.38" stroke="#4a4a4a" stroke-width="0.6"/>
<line x1="47.10" y1="205.47" x2="48.50" y2="205.47" stroke="#4a4a4a" stroke-width="0.6"/>
<line x1="45.70" y1="200.57" x2="48.50" y2="200.57" stroke="#4a4a4a" stroke-width="0.8"/>
<line x1="47.10" y1="195.67" x2="48.50" y2="195.67" stroke="#4a4a4a" stroke-width="0.6"/>
<line x1="47.10" y1="190.77" x2="48.50" y2="190.77" stroke="#4a4a4a" stroke-width="0.6"/>
<line x1="47.10" y1="185.86" x2="48.50" y2="185.86" stroke="#4a4a4a" stroke-width="0.6"/>
<line x1="45.70" y1="180.96" x2="48.50" y2="180.96" stroke="#4a4a4a" stroke-width="0.8"/>
<line x1="47.10" y1="176.06" x2="48.50" y2="176.06" stroke="#4a4a4a" stroke-width="0.6"/>
<line x1="47.10" y1="171.16" x2="48.50" y2="171.16" stroke="#4a4a4a" stroke-width="0.6"/>
<line x1="47.10" y1="166.26" x2="48.50" y2="166.26" stroke="#4a4a4a" stroke-width="0.6"/>
<line x1="45.70" y1="161.35" x2="48.50" y2="161.35" stroke="#4a4a4a" stroke-width="0.8"/>
<text class="se" x="44.10" y="263.10" font-size="9.2" text-anchor="end">0</text>
<text class="se" x="44.10" y="243.49" font-size="9.2" text-anchor="end">200</text>
<text class="se" x="44.10" y="223.88" font-size="9.2" text-anchor="end">400</text>
<text class="se" x="44.10" y="204.27" font-size="9.2" text-anchor="end">600</text>
<text class="se" x="44.10" y="184.66" font-size="9.2" text-anchor="end">800</text>
<text class="se" x="44.10" y="165.05" font-size="9.2" text-anchor="end">1000</text>
<line x1="48.50" y1="259.40" x2="48.50" y2="262.20" stroke="#4a4a4a" stroke-width="0.8"/>
<line x1="56.00" y1="259.40" x2="56.00" y2="260.90" stroke="#4a4a4a" stroke-width="0.6"/>
<line x1="60.39" y1="259.40" x2="60.39" y2="260.90" stroke="#4a4a4a" stroke-width="0.6"/>
<line x1="63.51" y1="259.40" x2="63.51" y2="260.90" stroke="#4a4a4a" stroke-width="0.6"/>
<line x1="65.92" y1="259.40" x2="65.92" y2="260.90" stroke="#4a4a4a" stroke-width="0.6"/>
<line x1="67.90" y1="259.40" x2="67.90" y2="260.90" stroke="#4a4a4a" stroke-width="0.6"/>
<line x1="69.56" y1="259.40" x2="69.56" y2="260.90" stroke="#4a4a4a" stroke-width="0.6"/>
<line x1="71.01" y1="259.40" x2="71.01" y2="260.90" stroke="#4a4a4a" stroke-width="0.6"/>
<line x1="72.28" y1="259.40" x2="72.28" y2="260.90" stroke="#4a4a4a" stroke-width="0.6"/>
<line x1="73.42" y1="259.40" x2="73.42" y2="262.20" stroke="#4a4a4a" stroke-width="0.8"/>
<line x1="80.93" y1="259.40" x2="80.93" y2="260.90" stroke="#4a4a4a" stroke-width="0.6"/>
<line x1="85.32" y1="259.40" x2="85.32" y2="260.90" stroke="#4a4a4a" stroke-width="0.6"/>
<line x1="88.43" y1="259.40" x2="88.43" y2="260.90" stroke="#4a4a4a" stroke-width="0.6"/>
<line x1="90.85" y1="259.40" x2="90.85" y2="260.90" stroke="#4a4a4a" stroke-width="0.6"/>
<line x1="92.82" y1="259.40" x2="92.82" y2="260.90" stroke="#4a4a4a" stroke-width="0.6"/>
<line x1="94.49" y1="259.40" x2="94.49" y2="260.90" stroke="#4a4a4a" stroke-width="0.6"/>
<line x1="95.93" y1="259.40" x2="95.93" y2="260.90" stroke="#4a4a4a" stroke-width="0.6"/>
<line x1="97.21" y1="259.40" x2="97.21" y2="260.90" stroke="#4a4a4a" stroke-width="0.6"/>
<line x1="98.35" y1="259.40" x2="98.35" y2="262.20" stroke="#4a4a4a" stroke-width="0.8"/>
<line x1="105.85" y1="259.40" x2="105.85" y2="260.90" stroke="#4a4a4a" stroke-width="0.6"/>
<line x1="110.24" y1="259.40" x2="110.24" y2="260.90" stroke="#4a4a4a" stroke-width="0.6"/>
<line x1="113.36" y1="259.40" x2="113.36" y2="260.90" stroke="#4a4a4a" stroke-width="0.6"/>
<line x1="115.77" y1="259.40" x2="115.77" y2="260.90" stroke="#4a4a4a" stroke-width="0.6"/>
<line x1="117.75" y1="259.40" x2="117.75" y2="260.90" stroke="#4a4a4a" stroke-width="0.6"/>
<line x1="119.41" y1="259.40" x2="119.41" y2="260.90" stroke="#4a4a4a" stroke-width="0.6"/>
<line x1="120.86" y1="259.40" x2="120.86" y2="260.90" stroke="#4a4a4a" stroke-width="0.6"/>
<line x1="122.13" y1="259.40" x2="122.13" y2="260.90" stroke="#4a4a4a" stroke-width="0.6"/>
<line x1="123.27" y1="259.40" x2="123.27" y2="262.20" stroke="#4a4a4a" stroke-width="0.8"/>
<line x1="130.78" y1="259.40" x2="130.78" y2="260.90" stroke="#4a4a4a" stroke-width="0.6"/>
<line x1="135.17" y1="259.40" x2="135.17" y2="260.90" stroke="#4a4a4a" stroke-width="0.6"/>
<line x1="138.28" y1="259.40" x2="138.28" y2="260.90" stroke="#4a4a4a" stroke-width="0.6"/>
<line x1="140.70" y1="259.40" x2="140.70" y2="260.90" stroke="#4a4a4a" stroke-width="0.6"/>
<line x1="142.67" y1="259.40" x2="142.67" y2="260.90" stroke="#4a4a4a" stroke-width="0.6"/>
<line x1="144.34" y1="259.40" x2="144.34" y2="260.90" stroke="#4a4a4a" stroke-width="0.6"/>
<line x1="145.78" y1="259.40" x2="145.78" y2="260.90" stroke="#4a4a4a" stroke-width="0.6"/>
<line x1="147.06" y1="259.40" x2="147.06" y2="260.90" stroke="#4a4a4a" stroke-width="0.6"/>
<line x1="148.20" y1="259.40" x2="148.20" y2="262.20" stroke="#4a4a4a" stroke-width="0.8"/>
<text class="se" x="42.50" y="274.40" font-size="9.1">10<tspan font-size="7" dy="-3.7">0</tspan></text>
<text class="se" x="67.42" y="274.40" font-size="9.1">10<tspan font-size="7" dy="-3.7">1</tspan></text>
<text class="se" x="92.35" y="274.40" font-size="9.1">10<tspan font-size="7" dy="-3.7">2</tspan></text>
<text class="se" x="117.27" y="274.40" font-size="9.1">10<tspan font-size="7" dy="-3.7">3</tspan></text>
<text class="se" x="142.20" y="274.40" font-size="9.1">10<tspan font-size="7" dy="-3.7">4</tspan></text>
<text class="se" x="63.50" y="158.20" font-size="13" text-anchor="start">CD300a R94</text>
<clipPath id="c48_159"><rect x="49.00" y="159.00" width="99.20" height="99.90"/></clipPath>
<g clip-path="url(#c48_159)" fill="none" stroke="#000" stroke-linejoin="round"><path d="M106.6 227.5 107.5 227.5 108.5 227.5 109.5 227.5 110.2 227.5 111.0 227.5 112.0 227.6 113.0 227.6 114.0 227.6 115.0 227.6 116.0 227.6 117.0 227.6 118.0 227.6 119.0 227.6 120.0 227.5 121.0 227.5 121.5 227.5 122.5 227.5 123.5 227.5 124.5 227.5 125.5 227.5 126.5 227.5 127.0 227.5 128.0 227.6 129.0 227.6 130.0 227.7 131.0 227.8 132.0 228.0 132.5 228.1 133.5 228.2 134.5 228.5 135.0 228.6 135.9 229.0 136.5 229.2 137.0 229.5 138.0 230.0 138.5 230.3 139.0 230.7 139.5 231.1 140.0 231.5 140.5 232.0 141.0 232.5 141.5 233.1 142.0 233.8 142.4 234.5 142.8 235.0 143.0 235.5 143.5 236.5 143.7 237.0 144.0 238.0 144.1 238.5 144.3 239.5 144.3 240.5 144.2 241.5 144.0 242.5 143.9 243.0 143.7 244.0 143.5 244.5 143.1 245.5 142.8 246.0 142.5 246.6 142.0 247.4 141.5 248.0 141.1 248.5 140.7 249.0 140.1 249.5 139.6 250.0 139.0 250.4 138.5 250.8 138.0 251.1 137.3 251.5 136.5 251.9 136.0 252.1 135.0 252.5 134.5 252.7 133.5 252.9 133.0 253.0 132.0 253.1 131.0 253.2 130.0 253.3 129.0 253.3 128.0 253.3 127.0 253.3 126.0 253.3 125.0 253.2 124.0 253.2 123.0 253.2 122.0 253.2 121.0 253.3 120.0 253.3 119.0 253.3 118.0 253.3 117.0 253.3 116.0 253.4 115.0 253.4 114.0 253.4 113.0 253.4 112.0 253.3 111.0 253.3 110.0 253.3 109.0 253.3 108.0 253.3 107.0 253.2 106.0 253.2 105.0 253.1 104.0 253.1 103.0 253.0 102.1 253.0 101.5 253.0 100.5 253.0 99.5 252.9 98.5 252.9 97.5 252.8 96.5 252.8 95.5 252.7 94.5 252.6 93.9 252.5 93.0 252.4 92.0 252.2 91.5 252.0 90.5 251.7 89.9 251.5 89.0 251.2 88.5 251.0 87.5 250.6 87.0 250.3 86.3 250.0 85.5 249.6 85.0 249.3 84.5 249.0 83.7 248.5 83.0 248.0 82.5 247.7 82.0 247.4 81.4 247.0 80.5 246.5 80.0 246.2 79.5 245.9 78.8 245.5 78.0 245.2 77.4 245.0 76.5 244.9 75.5 244.9 74.5 244.8 73.5 244.7 72.5 244.6 71.5 244.6 70.5 244.7 69.5 245.0 69.0 245.2 68.3 245.5 67.5 245.9 67.0 246.2 66.4 246.5 65.5 247.0 65.0 247.2 64.2 247.5 63.5 247.7 62.5 248.0 62.0 248.1 61.0 248.2 60.0 248.2 59.0 248.2 58.0 248.1 57.0 248.0 56.5 248.0 55.5 247.8 54.5 247.6 53.9 247.5 53.0 247.3 52.1 247.0 51.5 246.8 50.5 246.5 50.4 246.0 50.3 245.0 50.2 244.0 50.1 243.0 50.1 242.0 50.1 241.0 50.1 240.0 50.1 239.0 50.1 238.0 50.1 237.0 50.2 236.0 50.2 235.0 50.3 234.0 50.5 233.0 51.0 232.7 51.8 232.5 52.5 232.3 53.5 232.1 54.1 232.0 55.0 231.8 56.0 231.6 57.0 231.5 57.5 231.4 58.5 231.3 59.5 231.2 60.5 231.2 61.5 231.2 62.5 231.3 63.4 231.5 64.0 231.6 65.0 231.9 65.5 232.1 66.5 232.5 67.0 232.7 67.6 233.0 68.5 233.5 69.0 233.7 69.5 234.0 70.5 234.4 71.0 234.5 72.0 234.6 73.0 234.6 73.8 234.5 74.5 234.4 75.5 234.4 76.5 234.3 77.5 234.1 78.0 234.0 79.0 233.5 79.5 233.3 80.1 233.0 81.0 232.5 81.5 232.3 82.1 232.0 83.0 231.5 83.5 231.3 84.2 231.0 85.0 230.6 85.5 230.4 86.5 230.1 87.0 229.9 88.0 229.6 88.5 229.4 89.5 229.2 90.3 229.0 91.0 228.8 92.0 228.7 93.0 228.5 93.5 228.5 94.5 228.4 95.5 228.3 96.5 228.2 97.5 228.1 98.5 228.0 99.0 227.9 100.0 227.9 101.0 227.8 102.0 227.7 103.0 227.6 104.0 227.6 105.0 227.5 106.0 227.5 106.6 227.5Z M102.1 229.5 103.0 229.4 104.0 229.3 105.0 229.3 106.0 229.2 107.0 229.2 108.0 229.2 109.0 229.2 110.0 229.2 111.0 229.2 112.0 229.3 113.0 229.3 114.0 229.3 115.0 229.4 116.0 229.4 117.0 229.4 118.0 229.5 119.0 229.5 120.0 229.5 121.0 229.5 122.0 229.5 123.0 229.4 124.0 229.4 125.0 229.5 126.0 229.5 126.6 229.5 127.5 229.5 128.5 229.6 129.5 229.6 130.5 229.7 131.5 229.8 132.5 229.9 133.0 230.0 134.0 230.2 134.8 230.5 135.5 230.8 136.0 231.0 136.8 231.5 137.5 232.0 138.0 232.4 138.5 232.9 139.0 233.5 139.4 234.0 139.9 234.5 140.2 235.0 140.6 235.5 141.0 236.2 141.4 237.0 141.6 237.5 141.9 238.5 142.0 239.0 142.1 240.0 142.1 241.0 142.0 241.7 141.9 242.5 141.6 243.5 141.5 244.0 141.1 245.0 140.9 245.5 140.5 246.1 140.0 246.8 139.5 247.5 139.0 248.0 138.5 248.5 138.0 248.9 137.5 249.3 137.0 249.6 136.2 250.0 135.5 250.4 135.0 250.6 134.0 251.0 133.5 251.1 132.5 251.3 131.5 251.4 130.7 251.5 130.0 251.5 129.0 251.6 128.0 251.6 127.0 251.6 126.0 251.6 125.0 251.5 124.0 251.5 123.0 251.6 122.0 251.6 121.0 251.6 120.0 251.6 119.0 251.6 118.0 251.6 117.0 251.6 116.0 251.6 115.0 251.6 114.0 251.6 113.0 251.5 112.0 251.5 111.0 251.5 110.3 251.5 109.5 251.5 108.5 251.4 107.5 251.4 106.5 251.4 105.5 251.3 104.5 251.3 103.5 251.3 102.5 251.2 101.5 251.2 100.5 251.2 99.5 251.2 98.5 251.2 97.5 251.1 96.5 251.1 95.8 251.0 95.0 250.9 94.0 250.8 93.0 250.6 92.5 250.5 91.5 250.2 90.9 250.0 90.0 249.7 89.5 249.4 88.6 249.0 88.0 248.7 87.5 248.4 86.7 248.0 86.0 247.5 85.5 247.2 85.0 246.9 84.4 246.5 83.7 246.0 83.0 245.5 82.5 245.2 82.0 244.9 81.3 244.5 80.6 244.0 80.0 243.6 79.5 243.3 79.0 242.9 78.4 242.5 77.5 242.1 76.5 242.0 75.5 242.2 74.5 242.2 73.5 242.1 72.8 242.0 72.0 241.8 71.0 241.8 70.3 242.0 69.5 242.3 69.0 242.6 68.3 243.0 67.6 243.5 67.0 243.9 66.5 244.2 65.9 244.5 65.0 245.0 64.5 245.2 63.6 245.5 63.0 245.7 62.0 245.9 61.0 246.0 60.5 246.0 59.5 246.0 58.5 246.0 58.0 246.0 57.0 245.9 56.0 245.7 55.0 245.5 54.5 245.4 53.5 245.1 53.0 244.9 52.0 244.6 51.5 244.4 50.7 244.0 50.4 243.5 50.4 242.5 50.3 241.5 50.3 240.5 50.3 239.5 50.3 238.5 50.3 237.5 50.4 236.5 50.5 235.5 51.0 235.2 51.6 235.0 52.5 234.7 53.0 234.5 54.0 234.2 54.9 234.0 55.5 233.9 56.5 233.6 57.3 233.5 58.0 233.4 59.0 233.2 60.0 233.1 61.0 233.1 62.0 233.1 63.0 233.2 64.0 233.4 64.5 233.6 65.5 234.0 66.0 234.3 66.5 234.6 67.2 235.0 67.8 235.5 68.5 236.0 69.0 236.4 69.5 236.7 70.0 237.0 71.0 237.4 72.0 237.5 73.0 237.4 74.0 237.2 75.0 237.2 76.0 237.3 77.0 237.3 77.9 237.0 78.5 236.6 79.0 236.3 79.5 235.9 80.0 235.5 80.6 235.0 81.4 234.5 82.0 234.1 82.5 233.8 83.1 233.5 84.0 233.1 84.5 232.8 85.3 232.5 86.0 232.2 86.6 232.0 87.5 231.7 88.2 231.5 89.0 231.3 90.0 231.0 90.5 230.9 91.5 230.7 92.5 230.5 93.0 230.4 94.0 230.3 95.0 230.2 96.0 230.0 96.5 230.0 97.5 229.9 98.5 229.8 99.5 229.7 100.5 229.6 101.5 229.5 102.1 229.5Z M106.2 231.0 107.0 230.9 108.0 230.9 109.0 230.9 110.0 230.9 111.0 230.9 112.0 231.0 112.5 231.0 113.5 231.1 114.5 231.1 115.5 231.2 116.5 231.2 117.5 231.3 118.5 231.3 119.5 231.3 120.5 231.3 121.5 231.3 122.5 231.3 123.5 231.3 124.5 231.4 125.5 231.4 126.5 231.4 127.5 231.4 128.5 231.5 129.1 231.5 130.0 231.5 131.0 231.6 132.0 231.7 133.0 231.9 133.5 232.0 134.5 232.4 135.0 232.7 135.5 233.0 136.2 233.5 136.7 234.0 137.2 234.5 137.7 235.0 138.1 235.5 138.5 236.1 139.0 236.8 139.4 237.5 139.6 238.0 139.9 239.0 140.0 240.0 140.0 241.0 139.8 242.0 139.6 243.0 139.5 243.5 139.1 244.5 138.8 245.0 138.5 245.5 138.0 246.2 137.5 246.8 137.0 247.3 136.5 247.7 136.0 248.0 135.1 248.5 134.5 248.8 133.9 249.0 133.0 249.3 132.2 249.5 131.5 249.6 130.5 249.7 129.5 249.8 128.5 249.8 127.5 249.8 126.5 249.8 125.5 249.8 124.5 249.8 123.5 249.9 122.5 249.9 121.5 249.9 120.5 249.9 119.5 250.0 118.5 250.0 117.5 250.0 116.5 250.0 115.5 249.9 114.5 249.9 113.5 249.8 112.5 249.8 111.5 249.7 110.5 249.7 109.5 249.7 108.5 249.7 107.5 249.6 106.5 249.6 105.5 249.6 104.5 249.6 103.5 249.6 102.5 249.5 101.5 249.5 100.5 249.5 100.0 249.5 99.0 249.5 98.0 249.4 97.0 249.3 96.0 249.3 95.0 249.1 94.1 249.0 93.5 248.9 92.5 248.6 92.0 248.5 91.0 248.1 90.5 247.8 89.9 247.5 89.1 247.0 88.5 246.6 88.0 246.3 87.5 245.9 86.9 245.5 86.2 245.0 85.5 244.5 85.0 244.1 84.5 243.8 84.0 243.4 83.4 243.0 82.8 242.5 82.2 242.0 81.8 241.5 81.4 241.0 81.0 240.1 80.9 239.5 81.0 238.9 81.4 238.0 81.8 237.5 82.3 237.0 82.8 236.5 83.3 236.0 84.0 235.5 84.5 235.2 85.0 234.9 85.8 234.5 86.5 234.2 87.0 234.0 88.0 233.6 88.5 233.4 89.5 233.1 90.0 233.0 91.0 232.7 92.0 232.6 92.7 232.5 93.5 232.4 94.5 232.3 95.5 232.2 96.5 232.0 97.0 231.9 98.0 231.8 99.0 231.6 100.0 231.5 100.5 231.5 101.5 231.4 102.5 231.3 103.5 231.2 104.5 231.1 105.5 231.1 106.2 231.0Z M58.1 235.5 59.0 235.3 60.0 235.2 61.0 235.2 62.0 235.2 63.0 235.4 63.5 235.6 64.4 236.0 65.0 236.4 65.5 236.8 66.0 237.4 66.4 238.0 66.7 238.5 66.9 239.5 66.6 240.5 66.3 241.0 65.8 241.5 65.3 242.0 64.6 242.5 64.0 242.8 63.5 243.1 62.5 243.4 61.8 243.5 61.0 243.6 60.0 243.6 59.0 243.6 58.3 243.5 57.5 243.4 56.5 243.2 55.7 243.0 55.0 242.7 54.4 242.5 53.6 242.0 53.0 241.5 52.6 241.0 52.3 240.5 52.2 239.5 52.5 238.6 52.9 238.0 53.4 237.5 54.0 237.0 54.5 236.8 55.0 236.5 56.0 236.1 56.5 235.9 57.5 235.6 58.1 235.5Z" stroke-width="0.7"/><path d="M104.6 232.5 105.5 232.4 106.5 232.3 107.5 232.3 108.5 232.2 109.5 232.2 110.5 232.2 111.5 232.3 112.5 232.4 113.5 232.5 114.0 232.5 115.0 232.6 116.0 232.7 117.0 232.7 118.0 232.8 119.0 232.8 120.0 232.8 121.0 232.8 122.0 232.9 123.0 232.9 124.0 232.8 125.0 232.8 126.0 232.8 127.0 232.8 128.0 232.8 129.0 232.9 130.0 233.0 130.5 233.0 131.5 233.1 132.5 233.3 133.0 233.5 134.0 233.9 134.5 234.2 135.0 234.6 135.5 235.0 136.0 235.5 136.5 236.0 137.0 236.6 137.5 237.3 137.9 238.0 138.1 238.5 138.3 239.5 138.4 240.5 138.3 241.5 138.1 242.5 137.9 243.0 137.5 244.0 137.3 244.5 136.9 245.0 136.5 245.6 136.0 246.1 135.5 246.5 134.8 247.0 134.0 247.4 133.5 247.6 132.5 247.9 132.0 248.0 131.0 248.2 130.0 248.4 129.0 248.4 128.0 248.4 127.0 248.5 126.0 248.5 125.0 248.5 124.5 248.5 123.5 248.5 122.5 248.6 121.5 248.6 120.5 248.7 119.5 248.7 118.5 248.7 117.5 248.7 116.5 248.7 115.5 248.6 114.9 248.5 114.0 248.4 113.0 248.3 112.0 248.3 111.0 248.2 110.0 248.2 109.0 248.3 108.0 248.3 107.0 248.3 106.0 248.3 105.0 248.3 104.0 248.3 103.0 248.3 102.0 248.2 101.0 248.2 100.0 248.1 99.0 248.1 98.0 248.0 97.5 248.0 96.5 247.9 95.5 247.7 94.5 247.5 94.0 247.4 93.0 247.2 92.5 247.0 91.5 246.6 91.0 246.3 90.5 246.0 89.8 245.5 89.1 245.0 88.5 244.5 88.0 244.0 87.5 243.5 87.0 243.0 86.5 242.5 86.1 242.0 85.7 241.5 85.3 241.0 85.0 240.4 84.8 239.5 84.9 238.5 85.2 238.0 85.5 237.5 86.0 237.0 86.6 236.5 87.3 236.0 88.0 235.5 88.5 235.3 89.0 235.0 90.0 234.6 90.5 234.4 91.5 234.2 92.5 234.0 93.0 234.0 94.0 233.9 95.0 233.8 96.0 233.7 97.0 233.5 97.5 233.4 98.5 233.2 99.5 233.0 100.0 233.0 101.0 232.8 102.0 232.7 103.0 232.6 104.0 232.5 104.6 232.5Z M59.0 238.0 59.5 237.8 60.5 237.7 61.5 237.9 62.0 238.1 62.5 238.5 63.0 239.5 62.5 240.4 62.0 240.8 61.5 241.0 60.5 241.1 59.5 241.1 59.0 240.9 58.1 240.5 57.7 240.0 57.8 239.0 58.2 238.5 59.0 238.0Z M102.2 233.5 103.0 233.4 104.0 233.3 105.0 233.3 106.0 233.2 107.0 233.1 108.0 233.1 109.0 233.1 110.0 233.1 111.0 233.1 112.0 233.2 113.0 233.3 114.0 233.4 115.0 233.5 115.5 233.5 116.5 233.6 117.5 233.7 118.5 233.7 119.5 233.7 120.5 233.8 121.5 233.8 122.5 233.8 123.5 233.8 124.5 233.8 125.5 233.7 126.5 233.7 127.5 233.7 128.5 233.7 129.5 233.8 130.5 233.9 131.2 234.0 132.0 234.2 133.0 234.5 133.5 234.7 134.0 235.0 134.6 235.5 135.2 236.0 135.7 236.5 136.2 237.0 136.5 237.5 137.0 238.3 137.2 239.0 137.4 240.0 137.4 241.0 137.2 242.0 137.0 242.7 136.7 243.5 136.4 244.0 136.0 244.7 135.5 245.3 135.0 245.7 134.5 246.1 133.8 246.5 133.0 246.9 132.5 247.0 131.5 247.3 130.5 247.4 130.0 247.5 129.0 247.6 128.0 247.6 127.0 247.7 126.0 247.7 125.0 247.7 124.0 247.7 123.0 247.8 122.0 247.8 121.0 247.9 120.0 248.0 119.0 248.0 118.0 247.9 117.0 247.9 116.0 247.8 115.0 247.7 114.0 247.5 113.5 247.5 112.5 247.4 111.5 247.4 110.5 247.3 109.5 247.3 108.5 247.4 107.5 247.4 106.5 247.5 105.5 247.5 104.5 247.5 103.5 247.5 102.5 247.4 101.5 247.4 100.5 247.3 99.5 247.3 98.5 247.2 97.5 247.1 97.0 247.0 96.0 246.8 95.0 246.6 94.4 246.5 93.5 246.3 92.8 246.0 92.0 245.6 91.5 245.4 90.9 245.0 90.2 244.5 89.6 244.0 89.1 243.5 88.7 243.0 88.4 242.5 88.0 241.9 87.6 241.0 87.4 240.5 87.3 239.5 87.5 238.5 87.7 238.0 88.0 237.5 88.5 236.9 89.0 236.4 89.6 236.0 90.5 235.5 91.0 235.3 92.0 235.0 92.5 234.9 93.5 234.8 94.5 234.7 95.5 234.7 96.5 234.5 97.0 234.4 98.0 234.2 99.0 234.0 99.5 233.9 100.5 233.7 101.5 233.6 102.2 233.5Z M105.6 234.0 106.5 233.9 107.5 233.9 108.5 233.9 109.5 233.9 110.5 234.0 111.0 234.0 112.0 234.1 113.0 234.2 114.0 234.3 115.0 234.4 116.0 234.5 116.5 234.5 117.5 234.6 118.5 234.6 119.5 234.7 120.5 234.7 121.5 234.7 122.5 234.8 123.5 234.8 124.5 234.8 125.5 234.7 126.5 234.7 127.5 234.6 128.5 234.7 129.5 234.7 130.5 234.8 131.3 235.0 132.0 235.2 132.8 235.5 133.5 235.9 134.0 236.2 134.5 236.6 135.0 237.1 135.5 237.7 136.0 238.5 136.2 239.0 136.4 240.0 136.4 241.0 136.3 242.0 136.0 242.8 135.7 243.5 135.3 244.0 134.9 244.5 134.4 245.0 133.8 245.5 133.0 245.9 132.5 246.1 131.5 246.4 131.0 246.5 130.0 246.7 129.0 246.8 128.0 246.8 127.0 246.9 126.0 246.9 125.0 246.9 124.0 247.0 123.4 247.0 122.5 247.1 121.5 247.1 120.5 247.2 119.5 247.2 118.5 247.2 117.5 247.1 116.5 247.0 116.0 246.9 115.0 246.8 114.0 246.7 113.0 246.6 112.0 246.5 111.5 246.5 110.5 246.4 109.5 246.4 108.5 246.5 108.0 246.5 107.0 246.6 106.0 246.6 105.0 246.7 104.0 246.6 103.0 246.6 102.0 246.6 101.2 246.5 100.5 246.4 99.5 246.4 98.5 246.3 97.5 246.1 96.9 246.0 96.0 245.8 95.0 245.6 94.5 245.4 93.5 245.1 93.0 244.9 92.2 244.5 91.5 244.1 91.0 243.7 90.5 243.2 90.0 242.6 89.6 242.0 89.4 241.5 89.1 240.5 89.1 239.5 89.3 238.5 89.6 238.0 90.0 237.4 90.5 236.9 91.0 236.5 92.0 236.1 92.5 235.9 93.5 235.7 94.5 235.6 95.5 235.5 96.0 235.4 97.0 235.3 98.0 235.1 98.5 235.0 99.5 234.8 100.5 234.6 101.0 234.5 102.0 234.3 103.0 234.2 104.0 234.1 105.0 234.0 105.6 234.0Z M102.9 235.0 103.5 234.9 104.5 234.8 105.5 234.8 106.5 234.7 107.5 234.7 108.5 234.7 109.5 234.8 110.5 234.8 111.5 234.9 112.4 235.0 113.0 235.1 114.0 235.2 115.0 235.3 116.0 235.4 117.0 235.4 118.0 235.5 118.5 235.5 119.5 235.5 120.5 235.6 121.5 235.6 122.5 235.7 123.5 235.8 124.5 235.8 125.5 235.8 126.5 235.7 127.5 235.7 128.5 235.7 129.5 235.7 130.5 235.8 131.3 236.0 132.0 236.2 132.6 236.5 133.5 237.0 134.0 237.4 134.5 237.9 134.9 238.5 135.2 239.0 135.5 240.0 135.5 240.5 135.5 241.2 135.4 242.0 135.0 242.9 134.6 243.5 134.2 244.0 133.6 244.5 133.0 244.9 132.5 245.2 131.7 245.5 131.0 245.7 130.0 245.8 129.0 245.9 128.0 246.0 127.5 246.0 126.5 246.1 125.5 246.1 124.5 246.2 123.5 246.2 122.5 246.3 121.5 246.4 120.5 246.4 119.5 246.4 118.5 246.4 117.5 246.3 116.5 246.2 115.5 246.1 114.9 246.0 114.0 245.9 113.0 245.8 112.0 245.7 111.0 245.6 110.0 245.6 109.0 245.6 108.0 245.6 107.0 245.7 106.0 245.7 105.0 245.8 104.0 245.8 103.0 245.7 102.0 245.7 101.0 245.6 100.1 245.5 99.5 245.4 98.5 245.3 97.5 245.1 97.0 245.0 96.0 244.7 95.3 244.5 94.5 244.2 93.9 244.0 93.0 243.6 92.5 243.3 92.0 242.9 91.5 242.4 91.0 241.6 90.8 241.0 90.7 240.0 90.9 239.0 91.1 238.5 91.5 238.0 92.0 237.5 92.8 237.0 93.5 236.8 94.5 236.6 95.0 236.5 96.0 236.3 97.0 236.1 97.5 236.0 98.5 235.8 99.5 235.6 100.0 235.5 101.0 235.3 102.0 235.1 102.9 235.0Z M101.5 236.0 102.0 235.9 103.0 235.8 104.0 235.7 105.0 235.6 106.0 235.5 107.0 235.5 108.0 235.5 109.0 235.6 110.0 235.6 111.0 235.7 112.0 235.8 113.0 235.9 113.6 236.0 114.5 236.1 115.5 236.2 116.5 236.3 117.5 236.3 118.5 236.4 119.5 236.4 120.5 236.5 121.2 236.5 122.0 236.6 123.0 236.6 124.0 236.7 125.0 236.7 126.0 236.7 127.0 236.7 128.0 236.7 129.0 236.7 130.0 236.8 131.0 236.9 131.5 237.1 132.5 237.5 133.0 237.8 133.5 238.3 134.0 238.9 134.3 239.5 134.5 240.0 134.6 241.0 134.5 241.8 134.2 242.5 133.9 243.0 133.5 243.5 132.9 244.0 132.0 244.5 131.5 244.7 130.5 244.9 130.0 245.0 129.0 245.1 128.0 245.2 127.0 245.3 126.0 245.3 125.0 245.4 124.0 245.5 123.5 245.5 122.5 245.6 121.5 245.6 120.5 245.7 119.5 245.7 118.5 245.7 117.5 245.6 117.0 245.5 116.0 245.4 115.0 245.3 114.0 245.1 113.0 245.0 112.5 244.9 111.5 244.8 110.5 244.7 109.5 244.6 108.5 244.6 107.5 244.7 106.5 244.7 105.5 244.8 104.5 244.8 103.5 244.8 102.5 244.8 101.5 244.7 100.5 244.6 99.6 244.5 99.0 244.4 98.0 244.2 97.3 244.0 96.5 243.7 95.9 243.5 95.0 243.1 94.5 242.8 93.9 242.5 93.3 242.0 93.0 241.5 92.7 240.5 93.0 239.5 93.2 239.0 93.6 238.5 94.3 238.0 95.0 237.7 95.5 237.5 96.5 237.1 97.0 237.0 98.0 236.7 98.9 236.5 99.5 236.4 100.5 236.2 101.5 236.0Z M103.1 236.5 104.0 236.4 105.0 236.3 106.0 236.3 107.0 236.3 108.0 236.4 109.0 236.5 109.6 236.5 110.5 236.6 111.5 236.7 112.5 236.8 113.5 236.9 114.5 237.0 115.0 237.0 116.0 237.1 117.0 237.1 118.0 237.2 119.0 237.2 120.0 237.3 121.0 237.3 122.0 237.4 123.0 237.5 123.6 237.5 124.5 237.6 125.5 237.6 126.5 237.6 127.5 237.6 128.5 237.7 129.5 237.7 130.5 237.8 131.3 238.0 132.0 238.3 132.5 238.6 133.0 239.1 133.5 240.0 133.7 240.5 133.7 241.5 133.5 242.1 133.0 242.8 132.5 243.3 132.0 243.6 131.0 244.0 130.5 244.1 129.5 244.3 128.5 244.3 127.5 244.4 126.6 244.5 126.0 244.6 125.0 244.6 124.0 244.7 123.0 244.8 122.0 244.9 121.0 245.0 120.0 245.0 119.0 245.0 118.0 244.9 117.0 244.8 116.0 244.7 115.0 244.5 114.5 244.5 113.5 244.3 112.5 244.1 111.8 244.0 111.0 243.8 110.0 243.7 109.0 243.6 108.0 243.6 107.0 243.7 106.0 243.8 105.0 243.9 104.0 243.9 103.0 243.9 102.0 243.8 101.0 243.7 100.0 243.6 99.3 243.5 98.5 243.3 97.6 243.0 97.0 242.7 96.5 242.4 96.0 242.0 95.5 241.1 95.4 240.5 95.5 239.9 95.9 239.0 96.4 238.5 97.0 238.1 97.5 237.8 98.3 237.5 99.0 237.3 100.0 237.0 100.5 236.9 101.5 236.8 102.5 236.6 103.1 236.5Z M101.4 237.5 102.0 237.4 103.0 237.2 104.0 237.1 105.0 237.1 106.0 237.1 107.0 237.2 108.0 237.3 109.0 237.4 110.0 237.5 110.5 237.5 111.5 237.6 112.5 237.7 113.5 237.7 114.5 237.8 115.5 237.9 116.5 237.9 117.5 237.9 118.5 238.0 119.2 238.0 120.0 238.0 121.0 238.1 122.0 238.1 123.0 238.2 124.0 238.3 125.0 238.3 126.0 238.4 127.0 238.4 128.0 238.5 129.0 238.5 129.5 238.5 130.5 238.7 131.4 239.0 132.0 239.4 132.5 240.0 132.7 240.5 132.8 241.5 132.5 242.1 132.0 242.6 131.4 243.0 130.5 243.3 129.5 243.5 129.0 243.5 128.0 243.6 127.0 243.7 126.0 243.8 125.0 243.9 124.0 244.0 123.5 244.0 122.5 244.1 121.5 244.2 120.5 244.3 119.5 244.3 118.5 244.2 117.5 244.2 116.5 244.1 116.0 244.0 115.0 243.8 114.0 243.7 113.3 243.5 112.5 243.3 111.6 243.0 111.0 242.8 110.0 242.6 109.0 242.6 108.0 242.7 107.0 242.8 106.0 243.0 105.5 243.0 104.5 243.1 103.5 243.1 102.5 243.0 102.0 243.0 101.0 242.9 100.0 242.7 99.1 242.5 98.5 242.2 98.0 241.9 97.5 241.4 97.2 240.5 97.4 239.5 97.7 239.0 98.3 238.5 99.0 238.2 99.5 238.0 100.5 237.7 101.4 237.5Z M101.6 238.5 102.5 238.3 103.5 238.2 104.5 238.1 105.5 238.2 106.5 238.4 107.0 238.6 108.0 238.8 108.9 239.0 109.5 239.1 110.5 239.2 111.5 239.2 112.5 239.1 113.5 239.0 114.4 239.0 115.0 239.0 116.0 239.0 117.0 239.0 118.0 239.0 119.0 239.0 119.5 239.0 120.5 239.1 121.5 239.1 122.5 239.2 123.5 239.2 124.5 239.3 125.5 239.4 126.5 239.5 127.0 239.5 128.0 239.6 129.0 239.7 130.0 239.9 130.5 240.1 131.0 240.5 131.2 241.5 130.6 242.0 130.0 242.2 129.0 242.4 128.0 242.5 127.5 242.5 126.5 242.7 125.5 242.8 124.5 242.8 123.5 242.9 122.5 243.0 122.0 243.0 121.0 243.1 120.0 243.2 119.0 243.3 118.0 243.3 117.0 243.2 116.0 243.1 115.5 243.0 114.5 242.7 114.0 242.5 113.1 242.0 112.5 241.6 112.0 241.3 111.0 241.0 110.5 240.9 109.5 240.9 109.0 241.0 108.0 241.3 107.5 241.5 106.5 241.8 105.5 241.9 105.0 242.0 104.0 242.0 103.1 242.0 102.5 241.9 101.5 241.8 100.5 241.5 100.0 241.3 99.5 240.8 99.3 240.0 99.6 239.5 100.3 239.0 101.0 238.7 101.6 238.5Z M115.5 240.5 116.0 240.3 117.0 240.1 118.0 240.1 119.0 240.2 120.0 240.4 120.7 240.5 121.4 241.0 120.8 241.5 120.0 241.8 119.4 242.0 118.5 242.1 117.5 242.2 116.5 242.0 116.0 241.8 115.4 241.5 115.5 240.5Z" stroke-width="1"/></g>
<rect x="109.30" y="211.70" width="38.90" height="47.70" fill="none" stroke="#000" stroke-width="1.3"/>
<text class="se" x="108.40" y="210.20" font-size="17.7" text-anchor="start">46</text>
<line x1="164.50" y1="158.50" x2="267.90" y2="158.50" stroke="#7a7a7a" stroke-width="1"/>
<line x1="267.90" y1="158.00" x2="267.90" y2="262.00" stroke="#7a7a7a" stroke-width="1"/>
<line x1="164.50" y1="158.00" x2="164.50" y2="262.50" stroke="#4a4a4a" stroke-width="0.9"/>
<line x1="164.00" y1="262.00" x2="268.40" y2="262.00" stroke="#333" stroke-width="1.0"/>
<line x1="161.70" y1="262.00" x2="164.50" y2="262.00" stroke="#4a4a4a" stroke-width="0.8"/>
<line x1="163.10" y1="256.95" x2="164.50" y2="256.95" stroke="#4a4a4a" stroke-width="0.6"/>
<line x1="163.10" y1="251.89" x2="164.50" y2="251.89" stroke="#4a4a4a" stroke-width="0.6"/>
<line x1="163.10" y1="246.84" x2="164.50" y2="246.84" stroke="#4a4a4a" stroke-width="0.6"/>
<line x1="161.70" y1="241.79" x2="164.50" y2="241.79" stroke="#4a4a4a" stroke-width="0.8"/>
<line x1="163.10" y1="236.73" x2="164.50" y2="236.73" stroke="#4a4a4a" stroke-width="0.6"/>
<line x1="163.10" y1="231.68" x2="164.50" y2="231.68" stroke="#4a4a4a" stroke-width="0.6"/>
<line x1="163.10" y1="226.62" x2="164.50" y2="226.62" stroke="#4a4a4a" stroke-width="0.6"/>
<line x1="161.70" y1="221.57" x2="164.50" y2="221.57" stroke="#4a4a4a" stroke-width="0.8"/>
<line x1="163.10" y1="216.52" x2="164.50" y2="216.52" stroke="#4a4a4a" stroke-width="0.6"/>
<line x1="163.10" y1="211.46" x2="164.50" y2="211.46" stroke="#4a4a4a" stroke-width="0.6"/>
<line x1="163.10" y1="206.41" x2="164.50" y2="206.41" stroke="#4a4a4a" stroke-width="0.6"/>
<line x1="161.70" y1="201.36" x2="164.50" y2="201.36" stroke="#4a4a4a" stroke-width="0.8"/>
<line x1="163.10" y1="196.30" x2="164.50" y2="196.30" stroke="#4a4a4a" stroke-width="0.6"/>
<line x1="163.10" y1="191.25" x2="164.50" y2="191.25" stroke="#4a4a4a" stroke-width="0.6"/>
<line x1="163.10" y1="186.19" x2="164.50" y2="186.19" stroke="#4a4a4a" stroke-width="0.6"/>
<line x1="161.70" y1="181.14" x2="164.50" y2="181.14" stroke="#4a4a4a" stroke-width="0.8"/>
<line x1="163.10" y1="176.09" x2="164.50" y2="176.09" stroke="#4a4a4a" stroke-width="0.6"/>
<line x1="163.10" y1="171.03" x2="164.50" y2="171.03" stroke="#4a4a4a" stroke-width="0.6"/>
<line x1="163.10" y1="165.98" x2="164.50" y2="165.98" stroke="#4a4a4a" stroke-width="0.6"/>
<line x1="161.70" y1="160.93" x2="164.50" y2="160.93" stroke="#4a4a4a" stroke-width="0.8"/>
<line x1="164.50" y1="262.00" x2="164.50" y2="264.80" stroke="#4a4a4a" stroke-width="0.8"/>
<line x1="172.28" y1="262.00" x2="172.28" y2="263.50" stroke="#4a4a4a" stroke-width="0.6"/>
<line x1="176.83" y1="262.00" x2="176.83" y2="263.50" stroke="#4a4a4a" stroke-width="0.6"/>
<line x1="180.06" y1="262.00" x2="180.06" y2="263.50" stroke="#4a4a4a" stroke-width="0.6"/>
<line x1="182.57" y1="262.00" x2="182.57" y2="263.50" stroke="#4a4a4a" stroke-width="0.6"/>
<line x1="184.62" y1="262.00" x2="184.62" y2="263.50" stroke="#4a4a4a" stroke-width="0.6"/>
<line x1="186.35" y1="262.00" x2="186.35" y2="263.50" stroke="#4a4a4a" stroke-width="0.6"/>
<line x1="187.84" y1="262.00" x2="187.84" y2="263.50" stroke="#4a4a4a" stroke-width="0.6"/>
<line x1="189.17" y1="262.00" x2="189.17" y2="263.50" stroke="#4a4a4a" stroke-width="0.6"/>
<line x1="190.35" y1="262.00" x2="190.35" y2="264.80" stroke="#4a4a4a" stroke-width="0.8"/>
<line x1="198.13" y1="262.00" x2="198.13" y2="263.50" stroke="#4a4a4a" stroke-width="0.6"/>
<line x1="202.68" y1="262.00" x2="202.68" y2="263.50" stroke="#4a4a4a" stroke-width="0.6"/>
<line x1="205.91" y1="262.00" x2="205.91" y2="263.50" stroke="#4a4a4a" stroke-width="0.6"/>
<line x1="208.42" y1="262.00" x2="208.42" y2="263.50" stroke="#4a4a4a" stroke-width="0.6"/>
<line x1="210.47" y1="262.00" x2="210.47" y2="263.50" stroke="#4a4a4a" stroke-width="0.6"/>
<line x1="212.20" y1="262.00" x2="212.20" y2="263.50" stroke="#4a4a4a" stroke-width="0.6"/>
<line x1="213.69" y1="262.00" x2="213.69" y2="263.50" stroke="#4a4a4a" stroke-width="0.6"/>
<line x1="215.02" y1="262.00" x2="215.02" y2="263.50" stroke="#4a4a4a" stroke-width="0.6"/>
<line x1="216.20" y1="262.00" x2="216.20" y2="264.80" stroke="#4a4a4a" stroke-width="0.8"/>
<line x1="223.98" y1="262.00" x2="223.98" y2="263.50" stroke="#4a4a4a" stroke-width="0.6"/>
<line x1="228.53" y1="262.00" x2="228.53" y2="263.50" stroke="#4a4a4a" stroke-width="0.6"/>
<line x1="231.76" y1="262.00" x2="231.76" y2="263.50" stroke="#4a4a4a" stroke-width="0.6"/>
<line x1="234.27" y1="262.00" x2="234.27" y2="263.50" stroke="#4a4a4a" stroke-width="0.6"/>
<line x1="236.32" y1="262.00" x2="236.32" y2="263.50" stroke="#4a4a4a" stroke-width="0.6"/>
<line x1="238.05" y1="262.00" x2="238.05" y2="263.50" stroke="#4a4a4a" stroke-width="0.6"/>
<line x1="239.54" y1="262.00" x2="239.54" y2="263.50" stroke="#4a4a4a" stroke-width="0.6"/>
<line x1="240.87" y1="262.00" x2="240.87" y2="263.50" stroke="#4a4a4a" stroke-width="0.6"/>
<line x1="242.05" y1="262.00" x2="242.05" y2="264.80" stroke="#4a4a4a" stroke-width="0.8"/>
<line x1="249.83" y1="262.00" x2="249.83" y2="263.50" stroke="#4a4a4a" stroke-width="0.6"/>
<line x1="254.38" y1="262.00" x2="254.38" y2="263.50" stroke="#4a4a4a" stroke-width="0.6"/>
<line x1="257.61" y1="262.00" x2="257.61" y2="263.50" stroke="#4a4a4a" stroke-width="0.6"/>
<line x1="260.12" y1="262.00" x2="260.12" y2="263.50" stroke="#4a4a4a" stroke-width="0.6"/>
<line x1="262.17" y1="262.00" x2="262.17" y2="263.50" stroke="#4a4a4a" stroke-width="0.6"/>
<line x1="263.90" y1="262.00" x2="263.90" y2="263.50" stroke="#4a4a4a" stroke-width="0.6"/>
<line x1="265.39" y1="262.00" x2="265.39" y2="263.50" stroke="#4a4a4a" stroke-width="0.6"/>
<line x1="266.72" y1="262.00" x2="266.72" y2="263.50" stroke="#4a4a4a" stroke-width="0.6"/>
<line x1="267.90" y1="262.00" x2="267.90" y2="264.80" stroke="#4a4a4a" stroke-width="0.8"/>
<text class="se" x="158.50" y="277.00" font-size="9.1">10<tspan font-size="7" dy="-3.7">0</tspan></text>
<text class="se" x="184.35" y="277.00" font-size="9.1">10<tspan font-size="7" dy="-3.7">1</tspan></text>
<text class="se" x="210.20" y="277.00" font-size="9.1">10<tspan font-size="7" dy="-3.7">2</tspan></text>
<text class="se" x="236.05" y="277.00" font-size="9.1">10<tspan font-size="7" dy="-3.7">3</tspan></text>
<text class="se" x="261.90" y="277.00" font-size="9.1">10<tspan font-size="7" dy="-3.7">4</tspan></text>
<text class="se" x="179.00" y="158.20" font-size="13" text-anchor="start">CD300a Q94</text>
<clipPath id="c164_158"><rect x="165.00" y="158.50" width="102.90" height="103.00"/></clipPath>
<g clip-path="url(#c164_158)" fill="none" stroke="#000" stroke-linejoin="round"><path d="M226.7 228.5 227.5 228.4 228.5 228.3 229.5 228.3 230.5 228.2 231.5 228.2 232.5 228.2 233.5 228.2 234.5 228.2 235.5 228.2 236.5 228.2 237.5 228.3 238.5 228.4 239.0 228.5 240.0 228.7 240.8 229.0 241.5 229.2 242.1 229.5 243.0 229.9 243.5 230.2 244.1 230.5 244.9 231.0 245.5 231.4 246.0 231.7 246.5 232.0 247.1 232.5 247.8 233.0 248.3 233.5 248.8 234.0 249.3 234.5 249.8 235.0 250.2 235.5 250.5 236.0 251.0 236.9 251.3 237.5 251.5 238.4 251.6 239.0 251.8 240.0 251.8 241.0 251.7 242.0 251.6 243.0 251.5 243.5 251.3 244.5 251.0 245.3 250.7 246.0 250.4 246.5 250.0 247.2 249.5 247.9 249.0 248.5 248.5 249.0 248.1 249.5 247.6 250.0 247.1 250.5 246.5 251.0 246.0 251.5 245.5 251.9 245.0 252.2 244.5 252.5 243.6 253.0 243.0 253.3 242.3 253.5 241.5 253.8 240.7 254.0 240.0 254.2 239.0 254.4 238.0 254.5 237.5 254.5 236.5 254.6 235.5 254.7 234.5 254.8 233.5 254.8 232.5 254.9 231.5 254.9 230.5 255.0 229.9 255.0 229.0 255.1 228.0 255.2 227.0 255.3 226.0 255.4 225.0 255.5 224.5 255.5 223.5 255.5 222.5 255.5 222.0 255.5 221.0 255.4 220.0 255.4 219.0 255.3 218.0 255.2 217.0 255.2 216.0 255.1 215.0 255.1 214.0 255.1 213.0 255.1 212.0 255.1 211.0 255.0 210.5 255.0 209.5 254.9 208.5 254.8 207.5 254.8 206.5 254.7 205.5 254.6 204.5 254.6 203.7 254.5 203.0 254.4 202.0 254.3 201.0 254.1 200.5 254.0 199.5 253.8 198.5 253.5 198.0 253.4 197.0 253.1 196.5 252.9 195.5 252.7 194.5 252.5 194.0 252.4 193.0 252.2 192.0 252.1 191.5 252.0 190.5 251.8 189.5 251.7 188.5 251.6 187.5 251.5 186.9 251.5 186.0 251.5 185.0 251.5 184.0 251.4 183.0 251.4 182.0 251.4 181.0 251.3 180.0 251.2 179.0 251.0 178.5 251.0 177.5 250.9 176.5 250.8 175.5 250.8 174.5 250.9 173.5 250.9 172.5 251.0 171.5 251.0 170.5 250.9 169.5 250.9 168.5 250.8 167.5 250.7 166.5 250.6 166.3 250.0 166.2 249.0 166.1 248.0 166.1 247.0 166.0 246.0 166.0 245.0 166.0 244.0 166.0 243.0 166.0 242.0 166.1 241.0 166.1 240.0 166.1 239.0 166.2 238.0 166.5 237.0 167.0 236.8 168.0 236.6 169.0 236.5 169.5 236.4 170.5 236.4 171.5 236.3 172.5 236.3 173.5 236.3 174.5 236.4 175.5 236.4 176.5 236.4 177.5 236.4 178.5 236.3 179.5 236.2 180.5 236.1 181.0 236.0 182.0 235.9 183.0 235.8 184.0 235.7 185.0 235.6 186.0 235.6 186.7 235.5 187.5 235.4 188.5 235.2 189.5 235.0 190.0 234.9 191.0 234.6 191.5 234.5 192.5 234.2 193.2 234.0 194.0 233.7 194.7 233.5 195.5 233.2 196.2 233.0 197.0 232.7 197.6 232.5 198.5 232.2 199.1 232.0 200.0 231.7 200.9 231.5 201.5 231.4 202.5 231.2 203.5 231.1 204.3 231.0 205.0 230.9 206.0 230.9 207.0 230.8 208.0 230.8 209.0 230.7 210.0 230.7 211.0 230.7 212.0 230.6 213.0 230.5 213.5 230.5 214.5 230.3 215.5 230.2 216.5 230.0 217.0 230.0 218.0 229.8 219.0 229.6 219.8 229.5 220.5 229.4 221.5 229.2 222.5 229.1 223.2 229.0 224.0 228.9 225.0 228.7 226.0 228.6 226.7 228.5Z M225.3 230.5 226.0 230.4 227.0 230.3 228.0 230.2 229.0 230.2 230.0 230.2 231.0 230.2 232.0 230.2 233.0 230.2 234.0 230.2 235.0 230.2 236.0 230.2 237.0 230.3 238.0 230.4 238.5 230.5 239.5 230.7 240.3 231.0 241.0 231.2 241.7 231.5 242.5 231.9 243.0 232.1 243.7 232.5 244.4 233.0 245.0 233.4 245.5 233.8 246.0 234.2 246.5 234.6 247.0 235.1 247.5 235.6 248.0 236.2 248.5 236.9 248.8 237.5 249.0 238.0 249.3 239.0 249.5 240.0 249.6 240.5 249.6 241.5 249.5 242.5 249.4 243.0 249.2 244.0 249.0 244.6 248.6 245.5 248.4 246.0 248.0 246.6 247.5 247.3 247.0 247.8 246.5 248.3 246.0 248.8 245.5 249.2 245.0 249.6 244.5 250.0 243.8 250.5 243.1 251.0 242.5 251.4 242.0 251.6 241.1 252.0 240.5 252.2 239.5 252.5 239.0 252.6 238.0 252.8 237.0 252.9 236.0 252.9 235.0 253.0 234.4 253.0 233.5 253.1 232.5 253.1 231.5 253.1 230.5 253.2 229.5 253.2 228.5 253.3 227.5 253.4 226.9 253.5 226.0 253.6 225.0 253.7 224.0 253.8 223.0 253.8 222.0 253.8 221.0 253.7 220.0 253.7 219.0 253.6 218.0 253.5 217.5 253.5 216.5 253.5 215.5 253.5 214.5 253.5 213.5 253.5 212.5 253.5 211.5 253.5 210.5 253.4 209.5 253.3 208.5 253.2 207.5 253.2 206.5 253.1 205.5 253.0 205.0 253.0 204.0 252.9 203.0 252.7 202.0 252.5 201.5 252.4 200.5 252.2 199.9 252.0 199.0 251.7 198.3 251.5 197.5 251.3 196.6 251.0 196.0 250.9 195.0 250.7 194.1 250.5 193.5 250.4 192.5 250.2 191.5 250.1 190.7 250.0 190.0 249.9 189.0 249.8 188.0 249.8 187.0 249.8 186.0 249.8 185.0 249.8 184.0 249.8 183.0 249.8 182.0 249.7 181.0 249.7 180.0 249.5 179.5 249.4 178.5 249.3 177.5 249.2 176.5 249.1 175.5 249.1 174.5 249.2 173.5 249.3 172.5 249.4 171.5 249.4 170.5 249.4 169.5 249.3 168.5 249.3 167.5 249.2 166.5 249.1 166.4 248.5 166.2 247.5 166.1 246.5 166.1 245.5 166.1 244.5 166.1 243.5 166.1 242.5 166.2 241.5 166.2 240.5 166.3 239.5 166.5 238.5 167.0 238.5 168.0 238.3 169.0 238.2 170.0 238.1 170.8 238.0 171.5 238.0 172.5 238.0 173.0 238.0 174.0 238.1 175.0 238.1 176.0 238.2 177.0 238.3 178.0 238.3 179.0 238.2 180.0 238.1 181.0 238.1 181.6 238.0 182.5 237.9 183.5 237.8 184.5 237.7 185.5 237.6 186.3 237.5 187.0 237.4 188.0 237.2 189.0 237.0 189.5 236.9 190.5 236.6 191.0 236.4 192.0 236.1 192.5 235.9 193.5 235.6 194.0 235.5 195.0 235.2 195.5 235.0 196.5 234.7 197.0 234.5 198.0 234.2 198.5 234.0 199.5 233.7 200.3 233.5 201.0 233.3 202.0 233.2 203.0 233.0 203.5 233.0 204.5 232.9 205.5 232.8 206.5 232.7 207.5 232.7 208.5 232.6 209.5 232.6 210.5 232.6 211.5 232.6 212.5 232.6 213.5 232.5 214.0 232.5 215.0 232.3 216.0 232.1 216.6 232.0 217.5 231.8 218.5 231.6 219.0 231.5 220.0 231.3 221.0 231.1 221.7 231.0 222.5 230.9 223.5 230.7 224.5 230.6 225.3 230.5Z M223.4 232.5 224.0 232.4 225.0 232.3 226.0 232.2 227.0 232.1 228.0 232.1 229.0 232.0 230.0 232.1 231.0 232.1 232.0 232.1 233.0 232.1 234.0 232.2 235.0 232.2 236.0 232.3 237.0 232.4 237.5 232.5 238.5 232.7 239.5 232.9 240.0 233.1 241.0 233.5 241.5 233.7 242.1 234.0 242.9 234.5 243.5 234.9 244.0 235.3 244.5 235.7 245.0 236.1 245.5 236.6 246.0 237.2 246.5 238.0 246.7 238.5 247.0 239.3 247.2 240.0 247.3 241.0 247.3 242.0 247.2 243.0 247.0 243.6 246.7 244.5 246.5 245.1 246.0 246.0 245.7 246.5 245.2 247.0 244.7 247.5 244.1 248.0 243.5 248.5 243.0 248.8 242.5 249.2 242.0 249.5 241.1 250.0 240.5 250.3 239.9 250.5 239.0 250.8 238.0 251.0 237.5 251.1 236.5 251.2 235.5 251.2 234.5 251.3 233.5 251.4 232.5 251.4 231.5 251.5 230.9 251.5 230.0 251.6 229.0 251.6 228.0 251.7 227.0 251.8 226.0 251.9 225.0 252.0 224.5 252.0 223.5 252.1 222.5 252.1 221.5 252.1 220.5 252.1 219.5 252.1 218.5 252.0 217.8 252.0 217.0 252.0 216.0 252.0 215.0 252.0 214.0 252.0 213.0 252.0 212.0 251.9 211.0 251.9 210.0 251.8 209.0 251.8 208.0 251.7 207.0 251.6 206.0 251.5 205.5 251.5 204.5 251.3 203.5 251.1 202.9 251.0 202.0 250.8 201.0 250.5 200.5 250.4 199.5 250.1 199.0 249.9 198.0 249.6 197.5 249.5 196.5 249.2 196.0 249.0 195.0 248.7 194.0 248.5 193.5 248.4 192.5 248.2 191.6 248.0 191.0 247.9 190.0 247.8 189.0 247.7 188.0 247.6 187.0 247.6 186.0 247.6 185.0 247.7 184.0 247.7 183.0 247.7 182.0 247.6 181.2 247.5 180.5 247.4 179.5 247.1 178.8 247.0 178.0 246.9 177.0 246.9 176.4 247.0 175.5 247.2 174.5 247.4 173.8 247.5 173.0 247.6 172.0 247.7 171.0 247.7 170.0 247.7 169.0 247.7 168.0 247.6 167.0 247.5 166.5 247.5 166.4 246.5 166.3 245.5 166.2 244.5 166.2 243.5 166.3 242.5 166.4 241.5 166.5 240.5 167.0 240.4 168.0 240.3 169.0 240.1 170.0 240.0 170.5 240.0 171.5 240.0 172.5 240.0 173.0 240.0 174.0 240.2 175.0 240.3 176.0 240.5 176.5 240.5 177.5 240.6 178.5 240.5 179.0 240.5 180.0 240.4 181.0 240.4 182.0 240.4 183.0 240.4 184.0 240.4 185.0 240.3 186.0 240.2 187.0 240.1 187.5 240.0 188.5 239.7 189.0 239.5 190.0 239.1 190.5 238.8 191.2 238.5 192.0 238.2 192.5 238.0 193.5 237.6 194.0 237.5 195.0 237.1 195.5 237.0 196.5 236.6 197.0 236.4 198.0 236.1 198.5 235.9 199.5 235.6 200.0 235.5 201.0 235.3 202.0 235.2 203.0 235.1 203.5 235.0 204.5 234.9 205.5 234.8 206.5 234.7 207.5 234.6 208.5 234.5 209.0 234.5 210.0 234.4 211.0 234.3 212.0 234.3 213.0 234.2 214.0 234.1 214.7 234.0 215.5 233.8 216.5 233.6 217.3 233.5 218.0 233.3 219.0 233.1 219.9 233.0 220.5 232.9 221.5 232.7 222.5 232.6 223.4 232.5Z" stroke-width="0.7"/><path d="M226.5 233.5 227.5 233.4 228.5 233.4 229.5 233.4 230.5 233.4 231.5 233.5 232.0 233.5 233.0 233.6 234.0 233.7 235.0 233.8 236.0 234.0 236.5 234.0 237.5 234.2 238.5 234.4 239.0 234.5 240.0 234.9 240.5 235.1 241.3 235.5 242.0 235.9 242.5 236.2 243.0 236.6 243.5 237.0 244.0 237.5 244.5 238.1 244.9 239.0 245.1 239.5 245.3 240.5 245.4 241.5 245.4 242.5 245.2 243.5 245.0 244.4 244.8 245.0 244.5 245.5 244.0 246.2 243.5 246.7 243.0 247.1 242.5 247.5 241.8 248.0 241.0 248.4 240.5 248.7 239.8 249.0 239.0 249.3 238.2 249.5 237.5 249.6 236.5 249.8 235.5 249.8 234.5 249.9 233.5 250.0 233.0 250.0 232.0 250.1 231.0 250.2 230.0 250.3 229.0 250.3 228.0 250.3 227.0 250.3 226.0 250.4 225.0 250.5 224.5 250.5 223.5 250.6 222.5 250.7 221.5 250.7 220.5 250.8 219.5 250.8 218.5 250.8 217.5 250.8 216.5 250.8 215.5 250.8 214.5 250.8 213.5 250.7 212.5 250.7 211.5 250.7 210.5 250.7 209.5 250.6 208.5 250.6 207.5 250.5 207.0 250.5 206.0 250.4 205.0 250.2 204.1 250.0 203.5 249.9 202.5 249.6 202.0 249.5 201.0 249.2 200.3 249.0 199.5 248.7 198.8 248.5 198.0 248.2 197.5 248.0 196.5 247.6 196.0 247.4 195.0 247.1 194.5 246.9 193.5 246.6 193.0 246.4 192.0 246.1 191.5 246.0 190.5 245.7 189.9 245.5 189.0 245.1 188.5 244.9 187.7 244.5 187.0 244.1 186.6 243.5 187.5 243.1 188.0 242.9 189.0 242.5 189.5 242.3 190.1 242.0 190.9 241.5 191.5 241.1 192.0 240.7 192.5 240.3 193.0 239.9 193.7 239.5 194.5 239.1 195.0 238.9 196.0 238.5 196.5 238.3 197.4 238.0 198.0 237.7 198.7 237.5 199.5 237.2 200.3 237.0 201.0 236.9 202.0 236.7 203.0 236.6 203.6 236.5 204.5 236.4 205.5 236.3 206.5 236.2 207.5 236.1 208.3 236.0 209.0 235.9 210.0 235.8 211.0 235.7 212.0 235.6 212.5 235.5 213.5 235.3 214.5 235.2 215.5 235.0 216.0 234.9 217.0 234.7 218.0 234.5 218.5 234.5 219.5 234.3 220.5 234.2 221.5 234.0 222.0 234.0 223.0 233.9 224.0 233.7 225.0 233.6 226.0 233.5 226.5 233.5Z M169.3 242.0 170.0 241.9 171.0 241.9 172.0 241.9 172.5 242.0 173.5 242.2 174.2 242.5 175.0 242.9 175.5 243.4 175.9 244.0 175.5 244.8 175.0 245.3 174.5 245.6 173.5 246.0 173.0 246.1 172.0 246.2 171.0 246.2 170.0 246.1 169.1 246.0 168.5 245.9 167.5 245.7 166.5 245.6 166.5 245.0 166.4 244.0 166.5 243.0 166.5 242.5 167.5 242.3 168.5 242.1 169.3 242.0Z M224.3 234.5 225.0 234.4 226.0 234.3 227.0 234.2 228.0 234.2 229.0 234.2 230.0 234.2 231.0 234.3 232.0 234.4 232.8 234.5 233.5 234.6 234.5 234.8 235.5 234.9 236.0 235.0 237.0 235.1 238.0 235.3 238.6 235.5 239.5 235.8 240.0 236.0 241.0 236.5 241.5 236.8 242.0 237.1 242.5 237.5 243.0 238.0 243.5 238.7 243.9 239.5 244.0 240.0 244.2 241.0 244.3 242.0 244.3 243.0 244.1 244.0 243.9 244.5 243.5 245.3 243.0 246.0 242.5 246.5 242.0 246.9 241.5 247.2 241.0 247.5 240.0 248.0 239.5 248.2 238.6 248.5 238.0 248.6 237.0 248.8 236.0 248.9 235.3 249.0 234.5 249.1 233.5 249.2 232.5 249.3 231.5 249.3 230.5 249.4 229.5 249.4 228.5 249.4 227.5 249.4 226.5 249.4 225.5 249.4 224.5 249.5 224.0 249.5 223.0 249.7 222.0 249.8 221.0 249.9 220.0 249.9 219.0 250.0 218.0 250.0 217.0 250.0 216.0 250.0 215.0 250.0 214.0 250.0 213.0 250.0 212.0 250.0 211.0 249.9 210.0 249.9 209.0 249.9 208.0 249.8 207.0 249.8 206.0 249.6 205.2 249.5 204.5 249.4 203.5 249.1 203.0 249.0 202.0 248.7 201.3 248.5 200.5 248.3 199.8 248.0 199.0 247.7 198.5 247.5 197.5 247.0 197.0 246.8 196.4 246.5 195.5 246.1 195.0 245.9 194.0 245.5 193.5 245.2 193.0 245.0 192.3 244.5 191.9 244.0 192.0 243.2 192.4 242.5 192.8 242.0 193.3 241.5 193.8 241.0 194.5 240.5 195.0 240.2 195.5 239.9 196.3 239.5 197.0 239.2 197.5 239.0 198.5 238.6 199.0 238.4 200.0 238.1 200.5 238.0 201.5 237.8 202.5 237.6 203.2 237.5 204.0 237.4 205.0 237.2 206.0 237.1 207.0 237.0 207.5 237.0 208.5 236.9 209.5 236.8 210.5 236.6 211.1 236.5 212.0 236.3 213.0 236.2 214.0 236.0 214.5 235.9 215.5 235.7 216.5 235.5 217.0 235.4 218.0 235.3 219.0 235.1 219.8 235.0 220.5 234.9 221.5 234.8 222.5 234.7 223.5 234.6 224.3 234.5Z M227.3 235.0 228.0 235.0 229.0 235.0 229.8 235.0 230.5 235.1 231.5 235.2 232.5 235.4 233.1 235.5 234.0 235.7 235.0 235.9 235.7 236.0 236.5 236.1 237.5 236.3 238.4 236.5 239.0 236.7 239.7 237.0 240.5 237.4 241.0 237.7 241.5 238.1 242.0 238.6 242.5 239.4 242.8 240.0 243.0 240.8 243.2 241.5 243.2 242.5 243.2 243.5 243.0 244.1 242.6 245.0 242.2 245.5 241.7 246.0 241.0 246.5 240.5 246.8 240.0 247.1 239.0 247.5 238.5 247.6 237.5 247.9 236.6 248.0 236.0 248.1 235.0 248.2 234.0 248.3 233.0 248.4 232.0 248.5 231.5 248.5 230.5 248.6 229.5 248.5 229.0 248.5 228.0 248.4 227.0 248.4 226.0 248.4 225.0 248.4 224.1 248.5 223.5 248.6 222.5 248.7 221.5 248.9 220.5 249.0 220.0 249.0 219.0 249.1 218.0 249.2 217.0 249.2 216.0 249.2 215.0 249.2 214.0 249.2 213.0 249.2 212.0 249.2 211.0 249.2 210.0 249.2 209.0 249.2 208.0 249.2 207.0 249.1 206.5 249.0 205.5 248.9 204.5 248.6 203.9 248.5 203.0 248.3 202.2 248.0 201.5 247.8 200.7 247.5 200.0 247.2 199.5 247.0 198.6 246.5 198.0 246.2 197.5 245.9 196.7 245.5 196.0 245.1 195.5 244.8 195.0 244.4 194.5 243.9 194.3 243.0 194.5 242.5 195.0 241.8 195.5 241.3 196.0 240.9 196.6 240.5 197.5 240.0 198.0 239.8 198.6 239.5 199.5 239.2 200.1 239.0 201.0 238.8 202.0 238.6 202.7 238.5 203.5 238.4 204.5 238.2 205.5 238.0 206.0 238.0 207.0 237.9 208.0 237.8 209.0 237.7 210.0 237.5 210.5 237.5 211.5 237.2 212.5 237.0 213.0 236.9 214.0 236.7 215.0 236.5 215.5 236.4 216.5 236.2 217.5 236.1 218.0 236.0 219.0 235.8 220.0 235.7 221.0 235.6 222.0 235.5 222.5 235.5 223.5 235.4 224.5 235.2 225.5 235.1 226.5 235.1 227.3 235.0Z M224.6 236.0 225.5 235.9 226.5 235.8 227.5 235.8 228.5 235.8 229.5 235.8 230.5 235.9 231.1 236.0 232.0 236.2 233.0 236.4 233.5 236.5 234.5 236.7 235.5 237.0 236.0 237.1 237.0 237.3 238.0 237.5 238.5 237.7 239.3 238.0 240.0 238.4 240.5 238.8 241.0 239.4 241.4 240.0 241.7 240.5 242.0 241.4 242.1 242.0 242.2 243.0 242.0 243.9 241.8 244.5 241.4 245.0 240.9 245.5 240.2 246.0 239.5 246.4 239.0 246.6 238.0 246.9 237.4 247.0 236.5 247.2 235.5 247.3 234.5 247.5 234.0 247.5 233.0 247.6 232.0 247.7 231.0 247.8 230.0 247.7 229.0 247.6 228.0 247.5 227.5 247.4 226.5 247.4 225.5 247.4 224.5 247.5 224.0 247.5 223.0 247.7 222.0 247.8 221.0 248.0 220.5 248.1 219.5 248.2 218.5 248.3 217.5 248.4 216.5 248.4 215.5 248.5 214.5 248.5 213.5 248.5 212.5 248.5 212.0 248.5 211.0 248.5 210.0 248.5 209.0 248.5 208.5 248.5 207.5 248.4 206.5 248.3 205.5 248.2 204.8 248.0 204.0 247.8 203.0 247.5 202.5 247.3 201.6 247.0 201.0 246.7 200.5 246.5 199.6 246.0 199.0 245.7 198.5 245.4 198.0 245.0 197.3 244.5 196.8 244.0 196.5 243.5 196.4 242.5 196.7 242.0 197.2 241.5 197.8 241.0 198.5 240.6 199.0 240.3 199.8 240.0 200.5 239.8 201.5 239.5 202.0 239.5 203.0 239.3 204.0 239.1 204.6 239.0 205.5 238.8 206.5 238.7 207.5 238.6 208.5 238.5 209.0 238.5 210.0 238.3 211.0 238.2 211.7 238.0 212.5 237.8 213.5 237.6 214.0 237.4 215.0 237.2 216.0 237.0 216.5 236.9 217.5 236.8 218.5 236.6 219.3 236.5 220.0 236.4 221.0 236.3 222.0 236.2 223.0 236.2 224.0 236.1 224.6 236.0Z M221.6 237.0 222.5 236.9 223.5 236.9 224.5 236.8 225.5 236.7 226.5 236.6 227.5 236.6 228.5 236.6 229.5 236.7 230.5 236.8 231.5 237.0 232.0 237.1 233.0 237.3 233.9 237.5 234.5 237.7 235.5 237.9 236.0 238.1 237.0 238.3 237.5 238.5 238.5 238.9 239.0 239.2 239.5 239.5 240.0 240.0 240.5 240.7 240.9 241.5 241.0 242.0 241.1 243.0 241.0 243.5 240.5 244.5 240.0 245.0 239.5 245.3 239.0 245.6 238.0 245.9 237.5 246.1 236.5 246.3 235.5 246.5 235.0 246.6 234.0 246.8 233.0 246.9 232.1 247.0 231.5 247.0 230.5 247.0 230.0 247.0 229.0 246.9 228.0 246.7 227.0 246.6 226.0 246.5 225.0 246.6 224.0 246.7 223.0 246.8 222.0 247.0 221.5 247.0 220.5 247.2 219.5 247.3 218.5 247.5 218.0 247.5 217.0 247.6 216.0 247.7 215.0 247.7 214.0 247.8 213.0 247.8 212.0 247.8 211.0 247.8 210.0 247.9 209.0 247.8 208.0 247.8 207.0 247.7 206.0 247.5 205.5 247.4 204.5 247.2 203.9 247.0 203.0 246.7 202.5 246.5 201.5 246.0 201.0 245.8 200.5 245.5 199.7 245.0 199.1 244.5 198.6 244.0 198.3 243.5 198.3 242.5 198.5 242.0 199.0 241.5 199.8 241.0 200.5 240.7 201.0 240.5 202.0 240.2 203.0 240.0 203.5 239.9 204.5 239.7 205.5 239.6 206.0 239.5 207.0 239.4 208.0 239.3 209.0 239.2 210.0 239.1 210.6 239.0 211.5 238.8 212.5 238.6 213.0 238.4 214.0 238.2 214.7 238.0 215.5 237.8 216.5 237.6 217.2 237.5 218.0 237.4 219.0 237.2 220.0 237.1 221.0 237.0 221.6 237.0Z M225.0 237.5 225.5 237.5 226.5 237.4 227.5 237.4 228.5 237.4 229.5 237.5 230.0 237.6 231.0 237.7 232.0 237.9 232.6 238.0 233.5 238.2 234.4 238.5 235.0 238.7 235.9 239.0 236.5 239.2 237.2 239.5 238.0 239.9 238.5 240.2 239.0 240.6 239.5 241.3 239.8 242.0 239.8 243.0 239.5 243.7 239.0 244.3 238.5 244.6 237.5 244.9 237.0 245.1 236.0 245.4 235.5 245.5 234.5 245.8 233.9 246.0 233.0 246.2 232.0 246.3 231.0 246.4 230.0 246.3 229.0 246.2 228.0 246.0 227.5 245.9 226.5 245.8 225.5 245.8 224.5 245.8 223.5 246.0 223.0 246.0 222.0 246.2 221.0 246.3 220.0 246.4 219.5 246.5 218.5 246.7 217.5 246.8 216.5 246.9 215.5 247.0 215.0 247.0 214.0 247.1 213.0 247.1 212.0 247.2 211.0 247.2 210.0 247.2 209.0 247.1 208.0 247.1 207.3 247.0 206.5 246.9 205.5 246.7 204.8 246.5 204.0 246.2 203.4 246.0 202.5 245.6 202.0 245.3 201.4 245.0 200.7 244.5 200.1 244.0 199.8 243.5 199.9 242.5 200.2 242.0 200.9 241.5 201.5 241.2 202.2 241.0 203.0 240.8 204.0 240.5 204.5 240.4 205.5 240.2 206.5 240.1 207.1 240.0 208.0 239.9 209.0 239.9 210.0 239.8 211.0 239.7 211.7 239.5 212.5 239.3 213.5 239.0 214.0 238.9 215.0 238.7 215.7 238.5 216.5 238.3 217.5 238.1 218.3 238.0 219.0 237.9 220.0 237.8 221.0 237.8 222.0 237.7 223.0 237.7 224.0 237.6 225.0 237.5Z M219.8 238.5 220.5 238.5 221.5 238.4 222.5 238.4 223.5 238.3 224.5 238.3 225.5 238.2 226.5 238.1 227.5 238.1 228.5 238.1 229.5 238.2 230.5 238.3 231.5 238.5 232.0 238.6 233.0 238.9 233.5 239.0 234.5 239.4 235.0 239.7 235.8 240.0 236.5 240.4 237.0 240.7 237.5 241.1 238.0 242.0 237.5 242.8 237.0 243.1 236.2 243.5 235.5 243.9 235.0 244.3 234.5 244.7 234.0 245.0 233.0 245.4 232.5 245.6 231.5 245.7 230.5 245.7 229.5 245.6 228.6 245.5 228.0 245.4 227.0 245.2 226.0 245.1 225.0 245.1 224.0 245.2 223.0 245.3 222.0 245.5 221.5 245.6 220.5 245.7 219.5 245.8 218.5 245.9 217.9 246.0 217.0 246.1 216.0 246.2 215.0 246.3 214.0 246.4 213.0 246.5 212.5 246.5 211.5 246.6 210.5 246.5 209.5 246.5 209.0 246.5 208.0 246.3 207.0 246.2 206.0 246.0 205.5 245.9 204.5 245.6 204.0 245.4 203.2 245.0 202.5 244.6 202.0 244.3 201.5 243.8 201.3 243.0 201.5 242.5 202.1 242.0 203.0 241.6 203.5 241.4 204.5 241.1 205.0 241.0 206.0 240.8 207.0 240.6 208.0 240.5 208.7 240.5 209.5 240.5 210.5 240.4 211.5 240.2 212.5 240.0 213.0 239.9 214.0 239.6 214.5 239.5 215.5 239.2 216.4 239.0 217.0 238.9 218.0 238.7 219.0 238.6 219.8 238.5Z M226.0 239.0 227.0 239.0 228.0 239.0 228.5 239.0 229.5 239.1 230.5 239.2 231.5 239.5 232.0 239.6 232.9 240.0 233.5 240.4 234.0 241.0 234.0 241.5 233.9 242.0 233.5 242.8 233.1 243.5 232.8 244.0 232.1 244.5 231.5 244.7 230.5 244.8 229.5 244.8 228.5 244.7 227.6 244.5 227.0 244.4 226.0 244.3 225.0 244.3 224.0 244.4 223.1 244.5 222.5 244.6 221.5 244.7 220.5 244.9 219.5 244.9 218.7 245.0 218.0 245.1 217.0 245.2 216.0 245.3 215.0 245.4 214.5 245.5 213.5 245.6 212.5 245.7 211.5 245.7 210.5 245.6 209.5 245.5 209.0 245.4 208.0 245.2 207.1 245.0 206.5 244.8 205.5 244.6 205.0 244.4 204.2 244.0 203.7 243.5 204.0 242.6 204.5 242.3 205.1 242.0 206.0 241.7 207.0 241.5 207.5 241.5 208.5 241.4 209.5 241.3 210.5 241.2 211.5 241.1 212.0 241.0 213.0 240.8 214.0 240.5 214.5 240.4 215.5 240.1 216.0 240.0 217.0 239.8 218.0 239.6 219.0 239.5 219.5 239.5 220.5 239.5 221.5 239.5 222.5 239.4 223.5 239.3 224.5 239.2 225.5 239.0 226.0 239.0Z M224.5 240.0 225.0 239.9 226.0 239.8 227.0 239.8 228.0 239.8 229.0 239.9 229.5 240.0 230.5 240.3 231.0 240.5 231.5 241.0 231.7 242.0 231.5 242.6 231.0 243.3 230.5 243.6 229.5 243.8 228.5 243.7 227.5 243.6 226.5 243.6 225.5 243.5 224.5 243.6 223.5 243.7 222.5 243.8 221.5 244.0 221.0 244.0 220.0 244.1 219.0 244.1 218.0 244.2 217.0 244.2 216.0 244.3 215.1 244.5 214.5 244.6 213.5 244.7 212.5 244.8 211.5 244.8 210.5 244.6 210.0 244.5 209.0 244.0 208.5 243.7 208.1 243.0 208.8 242.5 209.5 242.3 210.5 242.1 211.0 242.0 212.0 241.8 213.0 241.6 213.5 241.5 214.5 241.3 215.5 241.1 216.0 240.9 217.0 240.8 218.0 240.6 219.0 240.6 220.0 240.6 221.0 240.5 221.6 240.5 222.5 240.4 223.5 240.2 224.5 240.0Z M225.0 241.0 225.5 240.9 226.5 240.9 227.5 241.0 228.0 241.2 228.2 242.0 227.5 242.3 226.5 242.5 226.0 242.5 225.0 242.5 224.0 242.5 223.0 242.5 222.5 242.4 222.5 242.0 223.4 241.5 224.0 241.3 225.0 241.0Z" stroke-width="1"/></g>
<rect x="228.00" y="213.60" width="39.90" height="48.40" fill="none" stroke="#000" stroke-width="1.3"/>
<text class="se" x="226.60" y="211.80" font-size="17.7" text-anchor="start">32</text>
<text class="se" transform="translate(20.10,173.80) rotate(-90)" font-size="10.9" text-anchor="middle">Forward Scatter</text>
<line x1="17.40" y1="288.10" x2="17.40" y2="222.50" stroke="#000" stroke-width="2.2"/>
<path d="M17.4 217 L14.3 223.4 L20.5 223.4 Z" fill="#000"/>
<line x1="16.30" y1="287.00" x2="80.80" y2="287.00" stroke="#000" stroke-width="2.2"/>
<path d="M86.2 287 L80 283.9 L80 290.1 Z" fill="#000"/>
<text class="se" x="90.80" y="290.80" font-size="11.1" text-anchor="start">Anti-Human Ig FITC</text>
<text class="se" x="395.50" y="57.00" font-size="14.5" text-anchor="start">DTPWL</text>
<text class="se" x="450.00" y="57.00" font-size="26.5" text-anchor="start">R</text>
<text class="se" x="467.50" y="57.00" font-size="14.5" text-anchor="start">DFHD</text>
<text class="se" x="389.50" y="70.80" font-size="11.5" text-anchor="start" textLength="128" lengthAdjust="spacingAndGlyphs">89------------94---------98</text>
<line x1="458.50" y1="75.00" x2="458.50" y2="91.00" stroke="#000" stroke-width="1.9"/>
<path d="M458.5 96.3 L455 89.3 L462 89.3 Z" fill="#000"/>
<text class="se" x="458.50" y="116.90" font-size="27.5" text-anchor="middle">Q</text>
<line x1="312.70" y1="161.00" x2="312.70" y2="276.40" stroke="#000" stroke-width="1.2"/>
<line x1="312.20" y1="275.90" x2="483.00" y2="275.90" stroke="#000" stroke-width="1.2"/>
<line x1="308.70" y1="275.90" x2="312.70" y2="275.90" stroke="#000" stroke-width="1"/>
<text class="se" x="308.10" y="278.90" font-size="8.9" text-anchor="end">0</text>
<line x1="308.70" y1="247.60" x2="312.70" y2="247.60" stroke="#000" stroke-width="1"/>
<text class="se" x="308.10" y="250.60" font-size="8.9" text-anchor="end">20</text>
<line x1="308.70" y1="219.30" x2="312.70" y2="219.30" stroke="#000" stroke-width="1"/>
<text class="se" x="308.10" y="222.30" font-size="8.9" text-anchor="end">40</text>
<line x1="308.70" y1="191.00" x2="312.70" y2="191.00" stroke="#000" stroke-width="1"/>
<text class="se" x="308.10" y="194.00" font-size="8.9" text-anchor="end">60</text>
<line x1="308.70" y1="162.70" x2="312.70" y2="162.70" stroke="#000" stroke-width="1"/>
<text class="se" x="308.10" y="165.70" font-size="8.9" text-anchor="end">80</text>
<rect x="317.70" y="185.34" width="23.00" height="90.56" fill="#000" stroke="none" stroke-width="1"/>
<line x1="329.20" y1="185.34" x2="329.20" y2="175.43" stroke="#000" stroke-width="1.3"/>
<line x1="323.60" y1="175.43" x2="334.80" y2="175.43" stroke="#000" stroke-width="1.3"/>
<rect x="352.00" y="215.76" width="23.00" height="60.14" fill="#000" stroke="none" stroke-width="1"/>
<line x1="363.50" y1="215.76" x2="363.50" y2="202.32" stroke="#000" stroke-width="1.3"/>
<line x1="357.90" y1="202.32" x2="369.10" y2="202.32" stroke="#000" stroke-width="1.3"/>
<rect x="386.40" y="259.63" width="22.60" height="16.27" fill="#000" stroke="none" stroke-width="1"/>
<line x1="397.70" y1="259.63" x2="397.70" y2="255.10" stroke="#000" stroke-width="1.3"/>
<line x1="392.10" y1="255.10" x2="403.30" y2="255.10" stroke="#000" stroke-width="1.3"/>
<rect x="420.30" y="267.55" width="23.10" height="8.35" fill="#000" stroke="none" stroke-width="1"/>
<line x1="431.85" y1="267.55" x2="431.85" y2="260.33" stroke="#000" stroke-width="1.3"/>
<line x1="426.25" y1="260.33" x2="437.45" y2="260.33" stroke="#000" stroke-width="1.3"/>
<rect x="454.00" y="272.65" width="23.50" height="3.25" fill="#000" stroke="none" stroke-width="1"/>
<line x1="465.75" y1="272.65" x2="465.75" y2="271.09" stroke="#000" stroke-width="1.3"/>
<line x1="460.15" y1="271.09" x2="471.35" y2="271.09" stroke="#000" stroke-width="1.3"/>
<path d="M329.2 170 V153.3 H398.2 V253" fill="none" stroke="#000" stroke-width="0.9"/>
<path d="M329.2 165.4 H364.2 V200" fill="none" stroke="#000" stroke-width="0.9"/>
<path d="M364.2 192.5 H398.2" fill="none" stroke="#000" stroke-width="0.9"/>
<text class="sa" x="364.00" y="156.40" font-size="12.5" text-anchor="middle">***</text>
<text class="sa" x="348.10" y="167.90" font-size="12.5" text-anchor="middle">*</text>
<text class="sa" x="381.50" y="193.50" font-size="12.5" text-anchor="middle">*</text>
<text class="se" x="329.20" y="287.30" font-size="9.15" text-anchor="middle">R94</text>
<text class="se" x="364.20" y="287.30" font-size="9.15" text-anchor="middle">Q94</text>
<text class="se" x="398.10" y="287.30" font-size="9.15" text-anchor="middle">D98A</text>
<text class="se" x="432.90" y="287.30" font-size="9.15" text-anchor="middle">LAIR-1</text>
<text class="se" x="465.80" y="287.30" font-size="9.15" text-anchor="middle">None</text>
<line x1="319.50" y1="291.50" x2="409.50" y2="291.50" stroke="#000" stroke-width="0.9"/>
<text class="se" x="363.70" y="304.90" font-size="9.6" text-anchor="middle">CD300a</text>
<text class="se" transform="translate(292.40,219.80) rotate(-90)" font-size="9.5" text-anchor="middle">% of positive cells</text>
<line x1="43.60" y1="342.00" x2="43.60" y2="462.20" stroke="#000" stroke-width="1.2"/>
<line x1="38.40" y1="462.00" x2="43.60" y2="462.00" stroke="#000" stroke-width="1"/>
<text class="se" x="38.00" y="464.90" font-size="8.6" text-anchor="end">-200</text>
<line x1="38.40" y1="442.10" x2="43.60" y2="442.10" stroke="#000" stroke-width="1"/>
<text class="se" x="38.00" y="445.00" font-size="8.6" text-anchor="end">0</text>
<line x1="38.40" y1="422.20" x2="43.60" y2="422.20" stroke="#000" stroke-width="1"/>
<text class="se" x="38.00" y="425.10" font-size="8.6" text-anchor="end">200</text>
<line x1="38.40" y1="402.30" x2="43.60" y2="402.30" stroke="#000" stroke-width="1"/>
<text class="se" x="38.00" y="405.20" font-size="8.6" text-anchor="end">400</text>
<line x1="38.40" y1="382.40" x2="43.60" y2="382.40" stroke="#000" stroke-width="1"/>
<text class="se" x="38.00" y="385.30" font-size="8.6" text-anchor="end">600</text>
<line x1="38.40" y1="362.50" x2="43.60" y2="362.50" stroke="#000" stroke-width="1"/>
<text class="se" x="38.00" y="365.40" font-size="8.6" text-anchor="end">800</text>
<line x1="38.40" y1="342.60" x2="43.60" y2="342.60" stroke="#000" stroke-width="1"/>
<text class="se" x="38.00" y="345.50" font-size="8.6" text-anchor="end">1000</text>
<line x1="43.60" y1="442.10" x2="222.00" y2="442.10" stroke="#000" stroke-width="1.1"/>
<rect x="48.60" y="442.10" width="9.70" height="1.79" fill="#fff" stroke="#000" stroke-width="0.9"/>
<rect x="62.00" y="442.10" width="9.00" height="2.39" fill="#000" stroke="#000" stroke-width="0.6"/>
<line x1="79.50" y1="447.08" x2="79.50" y2="448.67" stroke="#000" stroke-width="1.1"/>
<line x1="76.80" y1="448.67" x2="82.20" y2="448.67" stroke="#000" stroke-width="1.1"/>
<rect x="75.00" y="442.10" width="9.00" height="4.98" fill="#fff" stroke="none" stroke-width="1"/>
<path d="M75.00 442.10h3.00v3.15h-3.00zM81.00 442.10h3.00v3.15h-3.00zM78.00 445.25h3.00v1.83h-3.00z" fill="#000"/>
<rect x="75.00" y="442.10" width="9.00" height="4.98" fill="none" stroke="#000" stroke-width="0.9"/>
<line x1="92.30" y1="444.89" x2="92.30" y2="445.68" stroke="#000" stroke-width="1.1"/>
<line x1="89.60" y1="445.68" x2="95.00" y2="445.68" stroke="#000" stroke-width="1.1"/>
<rect x="87.60" y="442.10" width="9.40" height="2.79" fill="#fff" stroke="#000" stroke-width="0.9"/>
<line x1="90.73" y1="442.10" x2="90.73" y2="444.89" stroke="#000" stroke-width="1.0"/>
<line x1="93.87" y1="442.10" x2="93.87" y2="444.89" stroke="#000" stroke-width="1.0"/>
<rect x="108.80" y="438.52" width="9.20" height="3.58" fill="#fff" stroke="#000" stroke-width="0.9"/>
<line x1="125.95" y1="413.25" x2="125.95" y2="391.36" stroke="#000" stroke-width="1.1"/>
<line x1="123.25" y1="391.36" x2="128.65" y2="391.36" stroke="#000" stroke-width="1.1"/>
<rect x="121.30" y="413.25" width="9.30" height="28.86" fill="#000" stroke="#000" stroke-width="0.6"/>
<line x1="138.95" y1="438.52" x2="138.95" y2="436.33" stroke="#000" stroke-width="1.1"/>
<line x1="136.25" y1="436.33" x2="141.65" y2="436.33" stroke="#000" stroke-width="1.1"/>
<rect x="134.20" y="438.52" width="9.50" height="3.58" fill="#fff" stroke="none" stroke-width="1"/>
<path d="M137.37 438.95h3.17v3.15h-3.17z" fill="#000"/>
<rect x="134.20" y="438.52" width="9.50" height="3.58" fill="none" stroke="#000" stroke-width="0.9"/>
<line x1="151.85" y1="446.48" x2="151.85" y2="451.06" stroke="#000" stroke-width="1.1"/>
<line x1="149.15" y1="451.06" x2="154.55" y2="451.06" stroke="#000" stroke-width="1.1"/>
<rect x="147.40" y="442.10" width="8.90" height="4.38" fill="#fff" stroke="#000" stroke-width="0.9"/>
<line x1="150.37" y1="442.10" x2="150.37" y2="446.48" stroke="#000" stroke-width="1.0"/>
<line x1="153.33" y1="442.10" x2="153.33" y2="446.48" stroke="#000" stroke-width="1.0"/>
<rect x="167.80" y="442.10" width="10.60" height="1.39" fill="#fff" stroke="#000" stroke-width="0.9"/>
<line x1="185.70" y1="359.02" x2="185.70" y2="358.02" stroke="#000" stroke-width="1.1"/>
<line x1="183.00" y1="358.02" x2="188.40" y2="358.02" stroke="#000" stroke-width="1.1"/>
<rect x="181.30" y="359.02" width="8.80" height="83.08" fill="#000" stroke="#000" stroke-width="0.6"/>
<line x1="198.05" y1="409.27" x2="198.05" y2="400.51" stroke="#000" stroke-width="1.1"/>
<line x1="195.35" y1="400.51" x2="200.75" y2="400.51" stroke="#000" stroke-width="1.1"/>
<rect x="193.30" y="409.27" width="9.50" height="32.84" fill="#fff" stroke="none" stroke-width="1"/>
<path d="M193.30 438.95h3.17v3.15h-3.17zM199.63 438.95h3.17v3.15h-3.17zM196.47 435.80h3.17v3.15h-3.17zM193.30 432.65h3.17v3.15h-3.17zM199.63 432.65h3.17v3.15h-3.17zM196.47 429.50h3.17v3.15h-3.17zM193.30 426.35h3.17v3.15h-3.17zM199.63 426.35h3.17v3.15h-3.17zM196.47 423.20h3.17v3.15h-3.17zM193.30 420.05h3.17v3.15h-3.17zM199.63 420.05h3.17v3.15h-3.17zM196.47 416.90h3.17v3.15h-3.17zM193.30 413.75h3.17v3.15h-3.17zM199.63 413.75h3.17v3.15h-3.17zM196.47 410.60h3.17v3.15h-3.17zM193.30 409.27h3.17v1.33h-3.17zM199.63 409.27h3.17v1.33h-3.17z" fill="#000"/>
<rect x="193.30" y="409.27" width="9.50" height="32.84" fill="none" stroke="#000" stroke-width="0.9"/>
<line x1="210.75" y1="446.08" x2="210.75" y2="451.06" stroke="#000" stroke-width="1.1"/>
<line x1="208.05" y1="451.06" x2="213.45" y2="451.06" stroke="#000" stroke-width="1.1"/>
<rect x="206.00" y="442.10" width="9.50" height="3.98" fill="#fff" stroke="#000" stroke-width="0.9"/>
<line x1="209.17" y1="442.10" x2="209.17" y2="446.08" stroke="#000" stroke-width="1.0"/>
<line x1="212.33" y1="442.10" x2="212.33" y2="446.08" stroke="#000" stroke-width="1.0"/>
<line x1="49.80" y1="457.40" x2="97.60" y2="457.40" stroke="#000" stroke-width="0.9"/>
<text class="se" x="75.10" y="467.30" font-size="12" text-anchor="middle">PC</text>
<line x1="108.80" y1="457.40" x2="156.50" y2="457.40" stroke="#000" stroke-width="0.9"/>
<text class="se" x="134.10" y="469.40" font-size="12" text-anchor="middle">PS (80%)</text>
<line x1="168.80" y1="457.40" x2="216.30" y2="457.40" stroke="#000" stroke-width="0.9"/>
<text class="se" x="193.60" y="469.40" font-size="12" text-anchor="middle">PE</text>
<text class="se" transform="translate(11.80,401.20) rotate(-90)" font-size="9.6" text-anchor="middle">Resonance Units (RU)</text>
<rect x="55.30" y="322.60" width="19.40" height="5.20" fill="#fff" stroke="#000" stroke-width="0.9"/>
<text class="se" x="83.60" y="327.90" font-size="8.5" text-anchor="start">LAIR-1</text>
<rect x="55.30" y="336.47" width="19.40" height="5.20" fill="#000" stroke="#000" stroke-width="0.9"/>
<text class="se" x="83.60" y="341.77" font-size="8.5" text-anchor="start">CD300a R94</text>
<rect x="55.30" y="350.34" width="19.40" height="5.20" fill="#fff" stroke="none" stroke-width="1"/>
<path d="M55.30 350.34h2.77v2.60h-2.77zM60.84 350.34h2.77v2.60h-2.77zM66.39 350.34h2.77v2.60h-2.77zM71.93 350.34h2.77v2.60h-2.77zM58.07 352.94h2.77v2.60h-2.77zM63.61 352.94h2.77v2.60h-2.77zM69.16 352.94h2.77v2.60h-2.77z" fill="#000"/>
<rect x="55.30" y="350.34" width="19.40" height="5.20" fill="none" stroke="#000" stroke-width="0.9"/>
<text class="se" x="83.60" y="355.64" font-size="8.5" text-anchor="start">CD300a Q94</text>
<rect x="55.30" y="364.21" width="19.40" height="5.20" fill="#fff" stroke="#000" stroke-width="0.9"/>
<line x1="58.53" y1="364.21" x2="58.53" y2="369.41" stroke="#000" stroke-width="1.0"/>
<line x1="61.77" y1="364.21" x2="61.77" y2="369.41" stroke="#000" stroke-width="1.0"/>
<line x1="65.00" y1="364.21" x2="65.00" y2="369.41" stroke="#000" stroke-width="1.0"/>
<line x1="68.23" y1="364.21" x2="68.23" y2="369.41" stroke="#000" stroke-width="1.0"/>
<line x1="71.47" y1="364.21" x2="71.47" y2="369.41" stroke="#000" stroke-width="1.0"/>
<text class="se" x="83.60" y="369.51" font-size="8.5" text-anchor="start">CD300a D98A</text>
<line x1="283.70" y1="351.70" x2="283.70" y2="394.60" stroke="#000" stroke-width="1.7"/>
<line x1="280.90" y1="394.00" x2="283.70" y2="394.00" stroke="#000" stroke-width="1.3"/>
<line x1="283.70" y1="398.00" x2="283.70" y2="444.10" stroke="#000" stroke-width="1.7"/>
<line x1="282.90" y1="443.30" x2="422.90" y2="443.30" stroke="#000" stroke-width="1.7"/>
<line x1="280.90" y1="355.65" x2="283.70" y2="355.65" stroke="#000" stroke-width="1.3"/>
<text class="se" x="281.30" y="358.85" font-size="9.5" text-anchor="end">0.9</text>
<line x1="280.90" y1="370.20" x2="283.70" y2="370.20" stroke="#000" stroke-width="1.3"/>
<text class="se" x="281.30" y="373.40" font-size="9.5" text-anchor="end">0.6</text>
<line x1="280.90" y1="384.75" x2="283.70" y2="384.75" stroke="#000" stroke-width="1.3"/>
<text class="se" x="281.30" y="387.95" font-size="9.5" text-anchor="end">0.3</text>
<line x1="280.90" y1="399.40" x2="283.70" y2="399.40" stroke="#000" stroke-width="1.3"/>
<text class="se" x="281.30" y="402.60" font-size="9.5" text-anchor="end">0.10</text>
<line x1="280.90" y1="421.20" x2="283.70" y2="421.20" stroke="#000" stroke-width="1.3"/>
<text class="se" x="281.30" y="424.40" font-size="9.5" text-anchor="end">0.05</text>
<line x1="280.90" y1="443.00" x2="283.70" y2="443.00" stroke="#000" stroke-width="1.3"/>
<text class="se" x="281.30" y="446.20" font-size="9.5" text-anchor="end">0.00</text>
<line x1="283.70" y1="443.30" x2="283.70" y2="447.20" stroke="#000" stroke-width="1.3"/>
<text class="se" x="283.70" y="454.70" font-size="9.5" text-anchor="middle">0</text>
<line x1="311.40" y1="443.30" x2="311.40" y2="447.20" stroke="#000" stroke-width="1.3"/>
<text class="se" x="311.40" y="454.70" font-size="9.5" text-anchor="middle">1</text>
<line x1="339.10" y1="443.30" x2="339.10" y2="447.20" stroke="#000" stroke-width="1.3"/>
<text class="se" x="339.10" y="454.70" font-size="9.5" text-anchor="middle">2</text>
<line x1="366.80" y1="443.30" x2="366.80" y2="447.20" stroke="#000" stroke-width="1.3"/>
<text class="se" x="366.80" y="454.70" font-size="9.5" text-anchor="middle">3</text>
<line x1="394.50" y1="443.30" x2="394.50" y2="447.20" stroke="#000" stroke-width="1.3"/>
<text class="se" x="394.50" y="454.70" font-size="9.5" text-anchor="middle">4</text>
<line x1="422.20" y1="443.30" x2="422.20" y2="447.20" stroke="#000" stroke-width="1.3"/>
<text class="se" x="422.20" y="454.70" font-size="9.5" text-anchor="middle">5</text>
<text class="se" x="353.80" y="466.80" font-size="10.2" text-anchor="middle">Ig-protein (µg/ml)</text>
<text class="se" transform="translate(256.00,394.20) rotate(-90)" font-size="10.5" text-anchor="middle">OD (450 nm)</text>
<polyline points="283.70,443.00 296.60,398.00" fill="none" stroke="#000" stroke-width="1.9" stroke-linejoin="round"/>
<polyline points="301.01,391.30 318.32,385.60 352.95,374.00 422.20,357.80" fill="none" stroke="#000" stroke-width="1.9" stroke-linejoin="round"/>
<polyline points="283.70,443.00 301.01,420.40 318.32,404.20 326.00,399.60" fill="none" stroke="#000" stroke-width="1.9" stroke-linejoin="round"/>
<polyline points="341.80,393.80 352.95,390.50 422.20,381.20" fill="none" stroke="#000" stroke-width="1.9" stroke-linejoin="round"/>
<line x1="316.60" y1="393.70" x2="322.20" y2="393.70" stroke="#000" stroke-width="1.6"/>
<line x1="318.32" y1="401.50" x2="318.32" y2="407.00" stroke="#000" stroke-width="1"/>
<line x1="315.82" y1="401.50" x2="320.82" y2="401.50" stroke="#000" stroke-width="1"/>
<line x1="315.82" y1="407.00" x2="320.82" y2="407.00" stroke="#000" stroke-width="1"/>
<polyline points="283.70,443.00 301.01,441.40 318.32,436.00 352.95,422.40 422.20,411.90" fill="none" stroke="#000" stroke-width="1.9" stroke-linejoin="round"/>
<line x1="422.20" y1="408.80" x2="422.20" y2="415.20" stroke="#000" stroke-width="1.2"/>
<line x1="419.40" y1="408.80" x2="425.00" y2="408.80" stroke="#000" stroke-width="1.4"/>
<line x1="419.40" y1="415.20" x2="425.00" y2="415.20" stroke="#000" stroke-width="1.4"/>
<polyline points="283.70,443.00 301.01,442.30 318.32,441.20 352.95,439.30 422.20,431.70" fill="none" stroke="#000" stroke-width="1.7" stroke-linejoin="round"/>
<polyline points="283.70,443.00 301.01,432.50 318.32,439.70 352.95,441.40 422.20,439.00" fill="none" stroke="#000" stroke-width="1.7" stroke-linejoin="round"/>
<polyline points="283.70,443.00 301.01,442.00 318.32,441.30 352.95,441.60 422.20,440.50" fill="none" stroke="#000" stroke-width="1.7" stroke-linejoin="round"/>
<line x1="352.95" y1="436.50" x2="352.95" y2="444.00" stroke="#000" stroke-width="1"/>
<line x1="350.45" y1="436.50" x2="355.45" y2="436.50" stroke="#000" stroke-width="1"/>
<path d="M301.01 389.00 L303.31 393.14 L298.71 393.14Z" fill="#000"/>
<path d="M318.32 383.30 L320.62 387.44 L316.02 387.44Z" fill="#000"/>
<path d="M352.95 371.70 L355.25 375.84 L350.65 375.84Z" fill="#000"/>
<path d="M422.20 355.50 L424.50 359.64 L419.90 359.64Z" fill="#000"/>
<rect x="298.96" y="418.35" width="4.10" height="4.10" fill="#000" stroke="none" stroke-width="1"/>
<rect x="316.27" y="402.15" width="4.10" height="4.10" fill="#000" stroke="none" stroke-width="1"/>
<rect x="350.90" y="388.45" width="4.10" height="4.10" fill="#000" stroke="none" stroke-width="1"/>
<rect x="420.15" y="379.15" width="4.10" height="4.10" fill="#000" stroke="none" stroke-width="1"/>
<path d="M301.01 439.40 L303.01 441.40 L301.01 443.40 L299.01 441.40Z" fill="#000"/>
<path d="M318.32 434.00 L320.32 436.00 L318.32 438.00 L316.32 436.00Z" fill="#000"/>
<path d="M352.95 420.40 L354.95 422.40 L352.95 424.40 L350.95 422.40Z" fill="#000"/>
<path d="M422.20 409.90 L424.20 411.90 L422.20 413.90 L420.20 411.90Z" fill="#000"/>
<path d="M301.01 444.30 L303.01 440.70 L299.01 440.70Z" fill="#000"/>
<path d="M318.32 443.20 L320.32 439.60 L316.32 439.60Z" fill="#000"/>
<path d="M352.95 441.30 L354.95 437.70 L350.95 437.70Z" fill="#000"/>
<path d="M422.20 433.70 L424.20 430.10 L420.20 430.10Z" fill="#000"/>
<circle cx="301.01" cy="432.50" r="2.35" fill="#fff" stroke="#000" stroke-width="1.6"/>
<circle cx="318.32" cy="439.70" r="2.35" fill="#fff" stroke="#000" stroke-width="1.6"/>
<circle cx="352.95" cy="441.40" r="2.35" fill="#fff" stroke="#000" stroke-width="1.6"/>
<circle cx="422.20" cy="439.00" r="2.35" fill="#fff" stroke="#000" stroke-width="1.6"/>
<rect x="299.06" y="440.05" width="3.90" height="3.90" fill="#fff" stroke="#000" stroke-width="1.7"/>
<rect x="316.38" y="439.35" width="3.90" height="3.90" fill="#fff" stroke="#000" stroke-width="1.7"/>
<rect x="351.00" y="439.65" width="3.90" height="3.90" fill="#fff" stroke="#000" stroke-width="1.7"/>
<rect x="420.25" y="438.55" width="3.90" height="3.90" fill="#fff" stroke="#000" stroke-width="1.7"/>
<rect x="280.90" y="440.00" width="5.60" height="5.60" fill="#000" stroke="none" stroke-width="1"/>
<line x1="436.20" y1="349.90" x2="445.30" y2="349.90" stroke="#000" stroke-width="1.5"/>
<rect x="438.20" y="347.40" width="5.00" height="5.00" fill="#000" stroke="none" stroke-width="1"/>
<text class="se" x="448.50" y="352.80" font-size="8.6" text-anchor="start">CD300a R94-PS</text>
<line x1="436.20" y1="360.30" x2="445.30" y2="360.30" stroke="#000" stroke-width="1.5"/>
<path d="M440.70 357.60 L443.40 362.46 L438.00 362.46Z" fill="#000"/>
<text class="se" x="448.50" y="363.20" font-size="8.6" text-anchor="start">CD300a R94-PE</text>
<line x1="436.20" y1="370.70" x2="445.30" y2="370.70" stroke="#000" stroke-width="1.5"/>
<path d="M440.70 373.30 L443.30 368.62 L438.10 368.62Z" fill="#000"/>
<text class="se" x="448.50" y="373.60" font-size="8.6" text-anchor="start">CD300a Q94-PS</text>
<line x1="436.20" y1="381.10" x2="445.30" y2="381.10" stroke="#000" stroke-width="1.5"/>
<path d="M440.70 378.80 L443.00 381.10 L440.70 383.40 L438.40 381.10Z" fill="#000"/>
<text class="se" x="448.50" y="384.00" font-size="8.6" text-anchor="start">CD300a Q94-PE</text>
<line x1="436.20" y1="391.50" x2="445.30" y2="391.50" stroke="#000" stroke-width="1.5"/>
<circle cx="440.7" cy="391.50" r="2.3" fill="#fff" stroke="#000" stroke-width="1.7"/>
<line x1="437.50" y1="391.50" x2="444.00" y2="391.50" stroke="#000" stroke-width="1.2"/>
<text class="se" x="448.50" y="394.40" font-size="8.6" text-anchor="start">CD300a D98A-PS</text>
<line x1="436.20" y1="401.90" x2="445.30" y2="401.90" stroke="#000" stroke-width="1.5"/>
<rect x="438.55" y="399.75" width="4.30" height="4.30" fill="#fff" stroke="#000" stroke-width="1.7"/>
<line x1="437.50" y1="401.90" x2="444.00" y2="401.90" stroke="#000" stroke-width="1.2"/>
<text class="se" x="448.50" y="404.80" font-size="8.6" text-anchor="start">CD300a D98A-PE</text>
</svg>
</body></html>
